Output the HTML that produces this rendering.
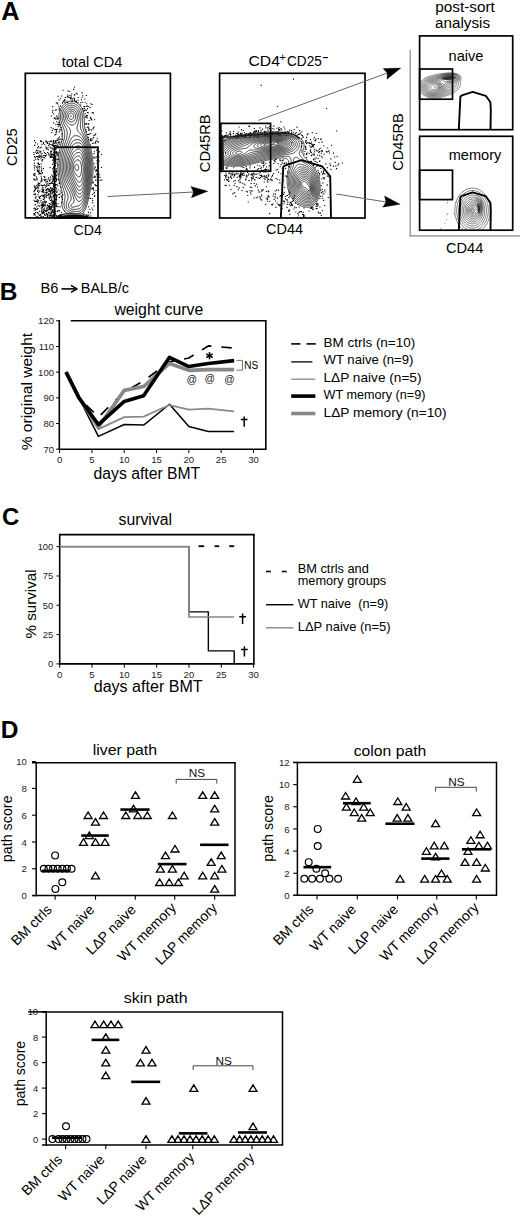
<!DOCTYPE html>
<html><head><meta charset="utf-8"><style>
html,body{margin:0;padding:0;background:#fff;}
svg{display:block;}
text{font-family:"Liberation Sans", sans-serif;}
</style></head><body>
<svg width="520" height="1216" viewBox="0 0 520 1216">
<rect width="520" height="1216" fill="#fff"/>
<text x="1.2" y="20.4" font-size="25.3" font-weight="bold" fill="#000">A</text>
<text x="92" y="66.7" font-size="14.6" text-anchor="middle" textLength="60.5" lengthAdjust="spacingAndGlyphs" fill="#000">total CD4</text>
<path d="M78.0,215.5 77.5,215.5 77.0,215.5 76.7,215.5 76.0,215.5 75.5,215.4 75.0,215.3 74.5,215.3 74.0,215.2 73.5,215.1 73.0,215.0 72.5,214.9 72.0,214.8 71.5,214.7 71.0,214.6 70.6,214.5 70.0,214.3 69.5,214.2 69.0,214.0 68.5,213.8 68.0,213.6 67.5,213.3 67.0,213.1 66.5,212.8 66.1,212.5 65.5,212.0 65.0,211.6 64.5,211.0 64.0,210.5 63.7,210.0 63.5,209.7 63.1,209.0 62.8,208.5 62.6,208.0 62.5,207.7 62.3,207.0 62.2,206.5 62.1,206.0 62.0,205.6 61.9,205.0 61.9,204.5 61.9,204.0 61.9,203.5 61.9,203.0 61.9,202.5 62.0,202.0 62.0,201.5 62.1,201.0 62.2,200.5 62.2,200.0 62.3,199.5 62.3,199.0 62.4,198.5 62.4,198.0 62.5,197.5 62.5,197.1 62.5,196.5 62.5,196.0 62.5,195.5 62.4,195.0 62.4,194.5 62.3,194.0 62.3,193.5 62.2,193.0 62.1,192.5 62.0,192.1 61.9,191.5 61.8,191.0 61.6,190.5 61.5,190.0 61.4,189.5 61.3,189.0 61.1,188.5 61.0,188.0 60.9,187.5 60.7,187.0 60.6,186.5 60.5,186.1 60.3,185.5 60.2,185.0 60.1,184.5 60.0,184.1 59.9,183.5 59.7,183.0 59.6,182.5 59.5,182.0 59.4,181.5 59.3,181.0 59.2,180.5 59.1,180.0 59.0,179.5 58.9,179.0 58.8,178.5 58.7,178.0 58.7,177.5 58.6,177.0 58.5,176.5 58.4,176.0 58.4,175.5 58.3,175.0 58.2,174.5 58.2,174.0 58.1,173.5 58.1,173.0 58.1,172.5 58.0,172.0 58.0,171.5 57.9,171.0 57.9,170.5 57.9,170.0 57.9,169.5 57.8,169.0 57.8,168.5 57.8,168.0 57.8,167.5 57.8,167.0 57.8,166.5 57.8,166.0 57.8,165.5 57.8,165.0 57.8,164.5 57.8,164.0 57.8,163.5 57.9,163.0 57.9,162.5 57.9,162.0 58.0,161.5 58.0,161.0 58.0,160.5 58.1,160.0 58.1,159.5 58.2,159.0 58.2,158.5 58.3,158.0 58.3,157.5 58.4,157.0 58.5,156.5 58.5,156.0 58.6,155.5 58.7,155.0 58.8,154.5 58.8,154.0 58.9,153.5 59.0,153.1 59.1,152.5 59.2,152.0 59.3,151.5 59.4,151.0 59.5,150.5 59.6,150.0 59.7,149.5 59.8,149.0 59.9,148.5 60.0,148.2 60.1,147.5 60.3,147.0 60.4,146.5 60.5,146.0 60.6,145.5 60.7,145.0 60.9,144.5 61.0,144.0 61.1,143.5 61.2,143.0 61.3,142.5 61.4,142.0 61.6,141.5 61.7,141.0 61.8,140.5 61.9,140.0 62.0,139.5 62.1,139.0 62.1,138.5 62.2,138.0 62.3,137.5 62.3,137.0 62.4,136.5 62.4,136.0 62.5,135.5 62.5,135.0 62.5,134.5 62.5,134.0 62.4,133.5 62.4,133.0 62.3,132.5 62.3,132.0 62.2,131.5 62.1,131.0 62.0,130.6 61.9,130.0 61.7,129.5 61.6,129.0 61.4,128.5 61.3,128.0 61.1,127.5 61.0,127.2 60.8,126.5 60.6,126.0 60.5,125.7 60.3,125.0 60.1,124.5 60.0,124.0 59.8,123.5 59.7,123.0 59.6,122.5 59.5,122.1 59.4,121.5 59.3,121.0 59.2,120.5 59.1,120.0 59.0,119.5 59.0,119.0 59.0,118.5 58.9,118.0 58.9,117.5 58.9,117.0 58.9,116.5 58.9,116.0 58.9,115.5 59.0,115.0 59.0,114.5 59.1,114.0 59.2,113.5 59.3,113.0 59.4,112.5 59.5,112.1 59.7,111.5 59.8,111.0 60.0,110.5 60.2,110.0 60.4,109.5 60.6,109.0 60.9,108.5 61.1,108.0 61.4,107.5 61.8,107.0 62.0,106.7 62.5,106.0 62.9,105.5 63.3,105.0 63.8,104.5 64.4,104.0 65.0,103.5 65.5,103.1 66.0,102.8 66.5,102.5 67.0,102.2 67.4,102.0 68.0,101.8 68.5,101.6 69.0,101.4 69.5,101.3 70.0,101.2 70.5,101.1 71.0,101.1 71.5,101.0 72.0,101.1 72.5,101.1 73.0,101.2 73.5,101.2 74.0,101.4 74.4,101.5 75.0,101.7 75.5,101.9 76.0,102.2 76.5,102.4 77.0,102.7 77.4,103.0 78.0,103.5 78.5,103.9 79.0,104.4 79.5,104.9 80.0,105.5 80.4,106.0 80.7,106.5 81.0,106.9 81.4,107.5 81.7,108.0 81.9,108.5 82.2,109.0 82.4,109.5 82.6,110.0 82.8,110.5 83.0,111.0 83.2,111.5 83.3,112.0 83.4,112.5 83.6,113.0 83.7,113.5 83.8,114.0 83.9,114.5 84.0,115.0 84.0,115.5 84.1,116.0 84.2,116.5 84.2,117.0 84.2,117.5 84.3,118.0 84.3,118.5 84.3,119.0 84.3,119.5 84.4,120.0 84.4,120.5 84.4,121.0 84.4,121.5 84.4,122.0 84.4,122.5 84.4,123.0 84.4,123.5 84.4,124.0 84.5,124.5 84.5,125.0 84.5,125.5 84.6,126.0 84.6,126.5 84.7,127.0 84.8,127.5 84.8,128.0 84.9,128.5 85.0,128.9 85.1,129.5 85.3,130.0 85.4,130.5 85.5,131.0 85.7,131.5 85.8,132.0 85.9,132.5 86.1,133.0 86.3,133.5 86.4,134.0 86.6,134.5 86.7,135.0 86.9,135.5 87.0,135.8 87.2,136.5 87.4,137.0 87.5,137.3 87.7,138.0 87.9,138.5 88.0,138.9 88.2,139.5 88.4,140.0 88.5,140.5 88.7,141.0 88.8,141.5 89.0,142.0 89.1,142.5 89.3,143.0 89.4,143.5 89.5,143.8 89.7,144.5 89.8,145.0 90.0,145.5 90.1,146.0 90.2,146.5 90.4,147.0 90.5,147.5 90.6,148.0 90.7,148.5 90.9,149.0 91.0,149.5 91.1,150.0 91.2,150.5 91.3,151.0 91.4,151.5 91.5,152.0 91.6,152.5 91.7,153.0 91.8,153.5 91.9,154.0 92.0,154.5 92.0,155.0 92.1,155.5 92.2,156.0 92.3,156.5 92.3,157.0 92.4,157.5 92.5,158.0 92.5,158.3 92.6,159.0 92.6,159.5 92.7,160.0 92.7,160.5 92.8,161.0 92.8,161.5 92.9,162.0 92.9,162.5 92.9,163.0 92.9,163.5 93.0,164.0 93.0,164.5 93.0,165.0 93.0,165.5 93.0,166.0 93.0,166.5 93.0,167.0 93.0,167.5 93.0,168.0 93.0,168.5 93.0,169.0 93.0,169.4 93.0,170.0 93.0,170.5 92.9,171.0 92.9,171.5 92.9,172.0 92.9,172.5 92.8,173.0 92.8,173.5 92.7,174.0 92.7,174.5 92.7,175.0 92.6,175.5 92.5,176.0 92.5,176.4 92.4,177.0 92.4,177.5 92.3,178.0 92.3,178.5 92.2,179.0 92.1,179.5 92.0,180.0 92.0,180.5 91.9,181.0 91.8,181.5 91.7,182.0 91.7,182.5 91.6,183.0 91.5,183.4 91.4,184.0 91.3,184.5 91.2,185.0 91.1,185.5 91.0,186.0 90.9,186.5 90.8,187.0 90.8,187.5 90.7,188.0 90.6,188.5 90.5,189.0 90.4,189.5 90.3,190.0 90.2,190.5 90.1,191.0 90.0,191.5 89.9,192.0 89.8,192.5 89.7,193.0 89.5,193.5 89.4,194.0 89.3,194.5 89.2,195.0 89.1,195.5 89.0,196.0 88.9,196.5 88.8,197.0 88.7,197.5 88.6,198.0 88.5,198.5 88.4,199.0 88.3,199.5 88.2,200.0 88.1,200.5 88.0,201.0 87.8,201.5 87.7,202.0 87.6,202.5 87.5,202.9 87.4,203.5 87.2,204.0 87.1,204.5 86.9,205.0 86.8,205.5 86.6,206.0 86.5,206.4 86.3,207.0 86.1,207.5 85.9,208.0 85.7,208.5 85.5,208.9 85.2,209.5 85.0,210.0 84.7,210.5 84.5,210.9 84.1,211.5 83.8,212.0 83.5,212.3 83.0,212.9 82.5,213.4 82.0,213.9 81.5,214.3 81.2,214.5 80.5,214.9 80.2,215.0 79.5,215.2 79.0,215.4 78.5,215.5 78.0,215.5 M77.5,213.5 77.0,213.5 76.5,213.5 76.2,213.5 75.5,213.4 75.0,213.4 74.5,213.3 74.0,213.3 73.5,213.2 73.0,213.1 72.5,213.0 72.0,212.9 71.5,212.8 71.0,212.7 70.5,212.6 70.0,212.4 69.5,212.2 69.0,212.0 68.5,211.8 68.0,211.5 67.5,211.2 67.2,211.0 67.0,210.8 66.6,210.5 66.1,210.0 65.7,209.5 65.5,209.3 65.3,209.0 65.0,208.5 64.8,208.0 64.5,207.5 64.4,207.0 64.2,206.5 64.1,206.0 64.1,205.5 64.0,205.0 64.0,204.6 64.0,204.3 64.0,203.5 64.1,203.0 64.2,202.5 64.2,202.0 64.3,201.5 64.4,201.0 64.6,200.5 64.7,200.0 64.8,199.5 64.9,199.0 64.9,198.5 65.0,198.1 65.1,197.5 65.1,197.0 65.1,196.5 65.1,196.0 65.0,195.5 65.0,195.0 64.9,194.5 64.8,194.0 64.7,193.5 64.5,193.0 64.4,192.5 64.3,192.0 64.1,191.5 64.0,191.2 63.8,190.5 63.6,190.0 63.5,189.6 63.3,189.0 63.1,188.5 63.0,188.1 62.8,187.5 62.6,187.0 62.5,186.6 62.3,186.0 62.2,185.5 62.0,185.0 61.9,184.5 61.7,184.0 61.6,183.5 61.4,183.0 61.3,182.5 61.2,182.0 61.0,181.5 60.9,181.0 60.8,180.5 60.7,180.0 60.6,179.5 60.5,179.1 60.4,178.5 60.3,178.0 60.2,177.5 60.1,177.0 60.0,176.5 60.0,176.0 59.9,175.5 59.8,175.0 59.7,174.5 59.7,174.0 59.6,173.5 59.6,173.0 59.5,172.5 59.5,172.0 59.4,171.5 59.4,171.0 59.4,170.5 59.3,170.0 59.3,169.5 59.3,169.0 59.3,168.5 59.2,168.0 59.2,167.5 59.2,167.0 59.2,166.5 59.2,166.0 59.2,165.5 59.2,165.0 59.3,164.5 59.3,164.0 59.3,163.5 59.3,163.0 59.3,162.5 59.4,162.0 59.4,161.5 59.4,161.0 59.5,160.5 59.5,160.0 59.6,159.5 59.6,159.0 59.7,158.5 59.8,158.0 59.8,157.5 59.9,157.0 60.0,156.5 60.0,156.0 60.1,155.5 60.2,155.0 60.3,154.5 60.4,154.0 60.5,153.5 60.6,153.0 60.7,152.5 60.8,152.0 60.9,151.5 61.0,151.0 61.1,150.5 61.2,150.0 61.4,149.5 61.5,149.0 61.6,148.5 61.7,148.0 61.9,147.5 62.0,147.0 62.1,146.5 62.3,146.0 62.4,145.5 62.5,145.1 62.7,144.5 62.8,144.0 62.9,143.5 63.1,143.0 63.2,142.5 63.3,142.0 63.5,141.5 63.6,141.0 63.7,140.5 63.9,140.0 64.0,139.5 64.1,139.0 64.2,138.5 64.3,138.0 64.4,137.5 64.5,137.0 64.5,136.5 64.6,136.0 64.7,135.5 64.7,135.0 64.7,134.5 64.7,134.0 64.7,133.5 64.7,133.0 64.6,132.5 64.6,132.0 64.5,131.6 64.4,131.0 64.3,130.5 64.1,130.0 64.0,129.6 63.8,129.0 63.6,128.5 63.4,128.0 63.2,127.5 63.0,127.0 62.8,126.5 62.6,126.0 62.4,125.5 62.2,125.0 62.0,124.5 61.8,124.0 61.6,123.5 61.5,123.0 61.3,122.5 61.2,122.0 61.1,121.5 60.9,121.0 60.8,120.5 60.7,120.0 60.6,119.5 60.6,119.0 60.5,118.5 60.5,118.1 60.5,117.5 60.4,117.0 60.4,116.5 60.5,116.0 60.5,115.5 60.5,115.0 60.6,114.5 60.7,114.0 60.8,113.5 60.9,113.0 61.0,112.5 61.1,112.0 61.3,111.5 61.5,111.0 61.7,110.5 61.9,110.0 62.2,109.5 62.4,109.0 62.7,108.5 63.0,108.1 63.4,107.5 63.8,107.0 64.3,106.5 64.8,106.0 65.4,105.5 66.0,105.0 66.5,104.7 66.8,104.5 67.5,104.1 68.0,103.9 68.5,103.7 69.0,103.5 69.5,103.4 70.0,103.3 70.5,103.2 71.0,103.2 71.5,103.1 72.0,103.2 72.5,103.2 73.0,103.3 73.5,103.4 73.9,103.5 74.5,103.7 75.0,103.9 75.5,104.2 76.0,104.4 76.5,104.8 76.8,105.0 77.4,105.5 78.0,106.0 78.5,106.5 78.9,107.0 79.3,107.5 79.5,107.8 80.0,108.5 80.3,109.0 80.5,109.4 80.8,110.0 81.0,110.5 81.2,111.0 81.4,111.5 81.6,112.0 81.7,112.5 81.9,113.0 82.0,113.5 82.1,114.0 82.2,114.5 82.3,115.0 82.4,115.5 82.4,116.0 82.5,116.5 82.5,117.0 82.6,117.5 82.6,118.0 82.6,118.5 82.6,119.0 82.6,119.5 82.6,120.0 82.6,120.5 82.6,121.0 82.6,121.5 82.6,122.0 82.6,122.5 82.6,123.0 82.6,123.5 82.6,124.0 82.6,124.5 82.6,125.0 82.6,125.5 82.6,126.0 82.7,126.5 82.8,127.0 82.8,127.5 82.9,128.0 83.0,128.4 83.1,129.0 83.3,129.5 83.4,130.0 83.6,130.5 83.8,131.0 83.9,131.5 84.1,132.0 84.3,132.5 84.5,133.0 84.7,133.5 84.9,134.0 85.0,134.4 85.2,135.0 85.4,135.5 85.6,136.0 85.8,136.5 86.0,137.0 86.2,137.5 86.4,138.0 86.5,138.4 86.7,139.0 86.9,139.5 87.0,139.8 87.2,140.5 87.4,141.0 87.5,141.3 87.7,142.0 87.9,142.5 88.0,142.9 88.2,143.5 88.3,144.0 88.5,144.5 88.6,145.0 88.8,145.5 88.9,146.0 89.0,146.4 89.2,147.0 89.3,147.5 89.4,148.0 89.5,148.3 89.7,149.0 89.8,149.5 89.9,150.0 90.0,150.5 90.1,151.0 90.2,151.5 90.3,152.0 90.4,152.5 90.5,153.0 90.6,153.5 90.7,154.0 90.8,154.5 90.9,155.0 90.9,155.5 91.0,155.9 91.1,156.5 91.2,157.0 91.2,157.5 91.3,158.0 91.4,158.5 91.4,159.0 91.5,159.5 91.5,159.8 91.6,160.5 91.6,161.0 91.7,161.5 91.7,162.0 91.7,162.5 91.8,163.0 91.8,163.5 91.8,164.0 91.8,164.5 91.9,165.0 91.9,165.5 91.9,166.0 91.9,166.5 91.9,167.0 91.9,167.5 91.9,168.0 91.9,168.5 91.9,169.0 91.9,169.5 91.9,170.0 91.8,170.5 91.8,171.0 91.8,171.5 91.8,172.0 91.7,172.5 91.7,173.0 91.7,173.5 91.6,174.0 91.6,174.5 91.5,175.0 91.5,175.4 91.4,176.0 91.4,176.5 91.4,177.0 91.3,177.5 91.2,178.0 91.2,178.5 91.1,179.0 91.0,179.5 91.0,180.0 90.9,180.5 90.8,181.0 90.8,181.5 90.7,182.0 90.6,182.5 90.5,183.0 90.4,183.5 90.4,184.0 90.3,184.5 90.2,185.0 90.1,185.5 90.0,186.0 89.9,186.5 89.8,187.0 89.8,187.5 89.7,188.0 89.6,188.5 89.5,189.0 89.4,189.5 89.3,190.0 89.2,190.5 89.1,191.0 89.0,191.3 88.9,192.0 88.8,192.5 88.7,193.0 88.6,193.5 88.4,194.0 88.3,194.5 88.2,195.0 88.1,195.5 88.0,196.0 87.9,196.5 87.8,197.0 87.7,197.5 87.6,198.0 87.5,198.5 87.3,199.0 87.2,199.5 87.1,200.0 87.0,200.4 86.8,201.0 86.7,201.5 86.6,202.0 86.5,202.3 86.3,203.0 86.2,203.5 86.0,204.0 85.9,204.5 85.7,205.0 85.5,205.5 85.3,206.0 85.2,206.5 85.0,206.9 84.7,207.5 84.5,208.0 84.2,208.5 84.0,209.0 83.7,209.5 83.5,209.8 83.0,210.5 82.6,211.0 82.1,211.5 81.6,212.0 81.0,212.4 80.5,212.7 80.0,213.0 79.5,213.2 79.0,213.3 78.5,213.4 78.0,213.5 77.5,213.5 M79.0,211.2 78.5,211.3 78.0,211.4 77.5,211.4 77.0,211.5 76.5,211.5 76.0,211.5 75.5,211.5 75.0,211.4 74.5,211.4 74.0,211.4 73.5,211.3 73.0,211.2 72.5,211.2 72.0,211.1 71.5,211.0 71.0,210.8 70.5,210.7 70.1,210.5 69.5,210.2 69.1,210.0 68.5,209.6 68.0,209.2 67.5,208.7 67.0,208.0 66.7,207.5 66.5,207.0 66.4,206.5 66.2,206.0 66.2,205.5 66.2,205.0 66.2,204.5 66.2,204.0 66.3,203.5 66.4,203.0 66.6,202.5 66.7,202.0 66.9,201.5 67.1,201.0 67.3,200.5 67.5,200.0 67.7,199.5 67.8,199.0 68.0,198.5 68.0,198.0 68.1,197.5 68.1,197.0 68.1,196.5 68.0,196.0 67.9,195.5 67.8,195.0 67.7,194.5 67.5,194.0 67.4,193.5 67.2,193.0 67.0,192.6 66.8,192.0 66.6,191.5 66.3,191.0 66.1,190.5 66.0,190.2 65.7,189.5 65.5,189.1 65.3,188.5 65.0,188.0 64.8,187.5 64.6,187.0 64.5,186.7 64.2,186.0 64.1,185.5 63.9,185.0 63.7,184.5 63.5,184.0 63.3,183.5 63.2,183.0 63.0,182.5 62.9,182.0 62.7,181.5 62.6,181.0 62.5,180.7 62.3,180.0 62.2,179.5 62.1,179.0 62.0,178.6 61.9,178.0 61.8,177.5 61.7,177.0 61.6,176.5 61.5,176.1 61.4,175.5 61.3,175.0 61.2,174.5 61.2,174.0 61.1,173.5 61.0,173.0 61.0,172.6 60.9,172.0 60.9,171.5 60.8,171.0 60.8,170.5 60.8,170.0 60.7,169.5 60.7,169.0 60.7,168.5 60.7,168.0 60.7,167.5 60.7,167.0 60.7,166.5 60.7,166.0 60.7,165.5 60.7,165.0 60.7,164.5 60.7,164.0 60.7,163.5 60.8,163.0 60.8,162.5 60.8,162.0 60.9,161.5 60.9,161.0 61.0,160.5 61.0,160.1 61.1,159.5 61.1,159.0 61.2,158.5 61.3,158.0 61.3,157.5 61.4,157.0 61.5,156.5 61.6,156.0 61.7,155.5 61.8,155.0 61.9,154.5 62.0,154.0 62.1,153.5 62.2,153.0 62.3,152.5 62.4,152.0 62.5,151.6 62.6,151.0 62.8,150.5 62.9,150.0 63.0,149.7 63.2,149.0 63.3,148.5 63.5,148.0 63.6,147.5 63.8,147.0 63.9,146.5 64.0,146.2 64.2,145.5 64.4,145.0 64.5,144.6 64.7,144.0 64.9,143.5 65.0,143.0 65.2,142.5 65.3,142.0 65.5,141.5 65.6,141.0 65.8,140.5 65.9,140.0 66.1,139.5 66.2,139.0 66.4,138.5 66.5,138.0 66.6,137.5 66.7,137.0 66.8,136.5 66.9,136.0 67.0,135.7 67.1,135.0 67.2,134.5 67.2,134.0 67.2,133.5 67.2,133.0 67.2,132.5 67.2,132.0 67.1,131.5 67.0,131.0 66.9,130.5 66.7,130.0 66.5,129.5 66.3,129.0 66.1,128.5 65.9,128.0 65.6,127.5 65.4,127.0 65.1,126.5 64.8,126.0 64.5,125.5 64.3,125.0 64.0,124.5 63.8,124.0 63.6,123.5 63.4,123.0 63.2,122.5 63.0,122.1 62.8,121.5 62.6,121.0 62.5,120.5 62.4,120.0 62.3,119.5 62.2,119.0 62.1,118.5 62.1,118.0 62.0,117.5 62.0,117.0 62.0,116.5 62.0,116.0 62.0,115.5 62.1,115.0 62.2,114.5 62.2,114.0 62.4,113.5 62.5,113.0 62.6,112.5 62.8,112.0 63.0,111.5 63.2,111.0 63.5,110.5 63.7,110.0 64.0,109.6 64.4,109.0 64.8,108.5 65.0,108.3 65.2,108.0 65.5,107.7 65.7,107.5 66.0,107.3 66.3,107.0 67.0,106.5 67.5,106.2 67.9,106.0 68.5,105.7 69.0,105.6 69.5,105.4 70.0,105.3 70.5,105.2 71.0,105.2 71.5,105.2 72.0,105.2 72.5,105.3 73.0,105.4 73.5,105.5 74.0,105.7 74.5,105.9 75.0,106.1 75.5,106.4 76.0,106.8 76.3,107.0 76.9,107.5 77.4,108.0 77.8,108.5 78.2,109.0 78.5,109.4 78.9,110.0 79.1,110.5 79.4,111.0 79.6,111.5 79.8,112.0 80.0,112.5 80.2,113.0 80.3,113.5 80.4,114.0 80.5,114.4 80.6,115.0 80.7,115.5 80.8,116.0 80.8,116.5 80.8,117.0 80.9,117.5 80.9,118.0 80.9,118.5 80.9,119.0 80.8,119.5 80.8,120.0 80.8,120.5 80.7,121.0 80.7,121.5 80.6,122.0 80.6,122.5 80.5,123.0 80.5,123.4 80.4,124.0 80.4,124.5 80.4,125.0 80.4,125.5 80.4,126.0 80.4,126.5 80.4,127.0 80.5,127.5 80.6,128.0 80.7,128.5 80.8,129.0 81.0,129.5 81.2,130.0 81.4,130.5 81.5,130.8 81.8,131.5 82.0,131.8 82.3,132.5 82.5,132.8 82.8,133.5 83.0,133.8 83.3,134.5 83.5,134.8 83.8,135.5 84.0,135.9 84.3,136.5 84.5,137.0 84.7,137.5 85.0,138.0 85.2,138.5 85.4,139.0 85.5,139.3 85.8,140.0 86.0,140.5 86.1,141.0 86.3,141.5 86.5,142.0 86.7,142.5 86.8,143.0 87.0,143.5 87.2,144.0 87.3,144.5 87.5,145.0 87.6,145.5 87.8,146.0 87.9,146.5 88.0,146.8 88.2,147.5 88.3,148.0 88.4,148.5 88.6,149.0 88.7,149.5 88.8,150.0 88.9,150.5 89.0,150.9 89.1,151.5 89.2,152.0 89.3,152.5 89.4,153.0 89.5,153.4 89.6,154.0 89.7,154.5 89.8,155.0 89.9,155.5 90.0,156.0 90.0,156.4 90.1,157.0 90.2,157.5 90.2,158.0 90.3,158.5 90.4,159.0 90.4,159.5 90.5,160.0 90.5,160.5 90.6,161.0 90.6,161.5 90.6,162.0 90.7,162.5 90.7,163.0 90.7,163.5 90.8,164.0 90.8,164.5 90.8,165.0 90.8,165.5 90.8,166.0 90.8,166.5 90.9,167.0 90.9,167.5 90.9,168.0 90.9,168.5 90.8,169.0 90.8,169.5 90.8,170.0 90.8,170.5 90.8,171.0 90.8,171.5 90.8,172.0 90.7,172.5 90.7,173.0 90.7,173.5 90.6,174.0 90.6,174.5 90.5,175.0 90.5,175.5 90.5,176.0 90.4,176.5 90.4,177.0 90.3,177.5 90.3,178.0 90.2,178.5 90.1,179.0 90.1,179.5 90.0,180.0 89.9,180.5 89.9,181.0 89.8,181.5 89.7,182.0 89.7,182.5 89.6,183.0 89.5,183.5 89.4,184.0 89.4,184.5 89.3,185.0 89.2,185.5 89.1,186.0 89.0,186.5 88.9,187.0 88.8,187.5 88.7,188.0 88.6,188.5 88.5,189.0 88.4,189.5 88.4,190.0 88.3,190.5 88.1,191.0 88.0,191.5 87.9,192.0 87.8,192.5 87.7,193.0 87.6,193.5 87.5,194.0 87.4,194.5 87.3,195.0 87.2,195.5 87.0,196.0 86.9,196.5 86.8,197.0 86.7,197.5 86.5,198.0 86.4,198.5 86.3,199.0 86.1,199.5 86.0,200.0 85.9,200.5 85.7,201.0 85.6,201.5 85.4,202.0 85.3,202.5 85.1,203.0 84.9,203.5 84.7,204.0 84.6,204.5 84.4,205.0 84.1,205.5 84.0,205.8 83.7,206.5 83.5,206.9 83.1,207.5 82.8,208.0 82.5,208.5 82.1,209.0 81.6,209.5 81.1,210.0 80.5,210.5 80.0,210.8 79.5,211.0 79.0,211.2 M78.0,209.0 77.5,209.1 77.0,209.2 76.5,209.3 76.0,209.3 75.5,209.3 75.0,209.4 74.5,209.4 74.0,209.4 73.5,209.4 73.0,209.3 72.5,209.3 72.0,209.2 71.5,209.1 71.0,208.9 70.5,208.7 70.2,208.5 69.5,208.0 69.1,207.5 68.8,207.0 68.6,206.5 68.4,206.0 68.4,205.5 68.4,205.0 68.5,204.5 68.6,204.0 68.8,203.5 69.0,203.2 69.4,202.5 69.8,202.0 70.0,201.7 70.4,201.0 70.7,200.5 70.9,200.0 71.0,199.7 71.1,199.0 71.2,198.5 71.2,198.0 71.1,197.5 71.1,197.0 71.0,196.6 70.9,196.0 70.7,195.5 70.6,195.0 70.4,194.5 70.2,194.0 70.0,193.5 69.8,193.0 69.6,192.5 69.3,192.0 69.1,191.5 68.9,191.0 68.6,190.5 68.3,190.0 68.1,189.5 67.8,189.0 67.5,188.5 67.3,188.0 67.0,187.5 66.8,187.0 66.5,186.5 66.3,186.0 66.1,185.5 65.8,185.0 65.6,184.5 65.5,184.2 65.2,183.5 65.0,183.0 64.8,182.5 64.6,182.0 64.5,181.6 64.3,181.0 64.1,180.5 64.0,180.0 63.9,179.5 63.7,179.0 63.6,178.5 63.5,178.2 63.3,177.5 63.2,177.0 63.1,176.5 63.0,176.0 62.9,175.5 62.8,175.0 62.7,174.5 62.7,174.0 62.6,173.5 62.5,173.0 62.5,172.5 62.4,172.0 62.4,171.5 62.3,171.0 62.3,170.5 62.2,170.0 62.2,169.5 62.2,169.0 62.1,168.5 62.1,168.0 62.1,167.5 62.1,167.0 62.1,166.5 62.1,166.0 62.1,165.5 62.1,165.0 62.1,164.5 62.2,164.0 62.2,163.5 62.2,163.0 62.2,162.5 62.3,162.0 62.3,161.5 62.4,161.0 62.4,160.5 62.5,160.0 62.6,159.5 62.6,159.0 62.7,158.5 62.8,158.0 62.8,157.5 62.9,157.0 63.0,156.7 63.1,156.0 63.2,155.5 63.3,155.0 63.4,154.5 63.6,154.0 63.7,153.5 63.8,153.0 63.9,152.5 64.0,152.2 64.2,151.5 64.3,151.0 64.5,150.5 64.6,150.0 64.8,149.5 64.9,149.0 65.1,148.5 65.3,148.0 65.4,147.5 65.6,147.0 65.8,146.5 65.9,146.0 66.1,145.5 66.3,145.0 66.5,144.5 66.7,144.0 66.9,143.5 67.0,143.1 67.2,142.5 67.4,142.0 67.6,141.5 67.8,141.0 68.0,140.5 68.2,140.0 68.3,139.5 68.5,139.0 68.7,138.5 68.9,138.0 69.0,137.7 69.2,137.0 69.4,136.5 69.5,136.2 69.7,135.5 69.9,135.0 70.0,134.6 70.2,134.0 70.3,133.5 70.4,133.0 70.5,132.5 70.5,132.2 70.5,131.5 70.5,131.1 70.4,130.5 70.3,130.0 70.1,129.5 69.8,129.0 69.5,128.5 69.2,128.0 68.8,127.5 68.5,127.2 68.0,126.6 67.5,126.0 67.1,125.5 66.8,125.0 66.5,124.7 66.0,124.0 65.7,123.5 65.5,123.2 65.1,122.5 64.9,122.0 64.6,121.5 64.5,121.2 64.3,120.5 64.1,120.0 64.0,119.7 63.8,119.0 63.7,118.5 63.7,118.0 63.6,117.5 63.6,117.0 63.6,116.5 63.6,116.0 63.6,115.5 63.7,115.0 63.7,114.5 63.8,114.0 64.0,113.5 64.1,113.0 64.3,112.5 64.5,112.0 64.8,111.5 65.0,111.1 65.4,110.5 65.7,110.0 66.0,109.7 66.5,109.2 67.0,108.7 67.3,108.5 68.0,108.0 68.5,107.8 69.0,107.6 69.5,107.4 70.0,107.3 70.5,107.2 71.0,107.2 71.5,107.2 72.0,107.2 72.5,107.3 73.0,107.4 73.3,107.5 74.0,107.8 74.4,108.0 75.0,108.4 75.5,108.7 75.8,109.0 76.3,109.5 76.8,110.0 77.0,110.3 77.5,111.0 77.7,111.5 78.0,112.0 78.2,112.5 78.4,113.0 78.5,113.3 78.7,114.0 78.8,114.5 78.9,115.0 79.0,115.5 79.0,116.0 79.1,116.5 79.1,117.0 79.1,117.5 79.1,118.0 79.1,118.5 79.0,119.0 79.0,119.5 78.9,120.0 78.8,120.5 78.7,121.0 78.6,121.5 78.5,122.0 78.4,122.5 78.2,123.0 78.1,123.5 78.0,123.8 77.8,124.5 77.6,125.0 77.5,125.5 77.4,126.0 77.2,126.5 77.1,127.0 77.1,127.5 77.0,128.0 77.0,128.5 77.1,129.0 77.2,129.5 77.4,130.0 77.6,130.5 78.0,131.0 78.3,131.5 78.8,132.0 79.0,132.2 79.2,132.5 79.5,132.8 80.0,133.3 80.5,133.9 81.0,134.5 81.4,135.0 81.8,135.5 82.0,135.8 82.5,136.5 82.8,137.0 83.0,137.4 83.4,138.0 83.6,138.5 83.9,139.0 84.1,139.5 84.4,140.0 84.6,140.5 84.8,141.0 85.0,141.4 85.2,142.0 85.4,142.5 85.6,143.0 85.8,143.5 86.0,144.0 86.2,144.5 86.3,145.0 86.5,145.5 86.7,146.0 86.8,146.5 87.0,147.0 87.1,147.5 87.2,148.0 87.4,148.5 87.5,149.0 87.6,149.5 87.8,150.0 87.9,150.5 88.0,151.0 88.1,151.5 88.2,152.0 88.3,152.5 88.4,153.0 88.5,153.4 88.6,154.0 88.7,154.5 88.8,155.0 88.9,155.5 89.0,156.0 89.0,156.3 89.1,157.0 89.2,157.5 89.2,158.0 89.3,158.5 89.4,159.0 89.4,159.5 89.5,160.0 89.5,160.5 89.6,161.0 89.6,161.5 89.7,162.0 89.7,162.5 89.7,163.0 89.8,163.5 89.8,164.0 89.8,164.5 89.8,165.0 89.9,165.5 89.9,166.0 89.9,166.5 89.9,167.0 89.9,167.5 89.9,168.0 89.9,168.5 89.9,169.0 89.9,169.5 89.9,170.0 89.9,170.5 89.9,171.0 89.8,171.5 89.8,172.0 89.8,172.5 89.8,173.0 89.7,173.5 89.7,174.0 89.7,174.5 89.6,175.0 89.6,175.5 89.5,176.0 89.5,176.5 89.5,177.0 89.4,177.5 89.4,178.0 89.3,178.5 89.2,179.0 89.2,179.5 89.1,180.0 89.1,180.5 89.0,180.9 88.9,181.5 88.9,182.0 88.8,182.5 88.7,183.0 88.6,183.5 88.5,184.0 88.5,184.5 88.4,185.0 88.3,185.5 88.2,186.0 88.1,186.5 88.0,187.0 87.9,187.5 87.9,188.0 87.8,188.5 87.7,189.0 87.6,189.5 87.4,190.0 87.3,190.5 87.2,191.0 87.1,191.5 87.0,192.0 86.9,192.5 86.8,193.0 86.7,193.5 86.5,194.0 86.4,194.5 86.3,195.0 86.2,195.5 86.0,196.0 85.9,196.5 85.8,197.0 85.6,197.5 85.5,197.9 85.3,198.5 85.2,199.0 85.0,199.5 84.8,200.0 84.7,200.5 84.5,201.0 84.3,201.5 84.1,202.0 84.0,202.3 83.7,203.0 83.5,203.5 83.3,204.0 83.0,204.5 82.7,205.0 82.5,205.4 82.1,206.0 81.8,206.5 81.5,206.8 81.0,207.4 80.5,207.8 80.0,208.2 79.5,208.5 79.0,208.7 78.5,208.9 78.2,209.0 M72.0,125.0 71.5,125.0 71.0,124.9 70.5,124.7 70.1,124.5 69.5,124.2 69.2,124.0 68.5,123.5 68.0,123.0 67.5,122.5 67.1,122.0 66.7,121.5 66.5,121.1 66.1,120.5 66.0,120.2 65.7,119.5 65.5,119.0 65.4,118.5 65.3,118.0 65.2,117.5 65.2,117.0 65.1,116.5 65.2,116.0 65.2,115.5 65.2,115.0 65.3,114.5 65.5,114.0 65.6,113.5 65.8,113.0 66.0,112.6 66.4,112.0 66.7,111.5 67.0,111.1 67.5,110.6 68.0,110.2 68.3,110.0 69.0,109.6 69.5,109.4 70.0,109.2 70.5,109.2 71.0,109.1 71.5,109.1 72.0,109.2 72.5,109.3 73.0,109.4 73.5,109.7 74.0,109.9 74.5,110.3 74.7,110.5 75.0,110.7 75.3,111.0 75.5,111.3 76.0,112.0 76.3,112.5 76.5,112.9 76.8,113.5 76.9,114.0 77.1,114.5 77.2,115.0 77.3,115.5 77.3,116.0 77.3,116.5 77.3,117.0 77.3,117.5 77.3,118.0 77.2,118.5 77.1,119.0 77.0,119.5 76.9,120.0 76.7,120.5 76.5,121.0 76.3,121.5 76.0,122.0 75.7,122.5 75.5,122.8 75.0,123.5 74.5,124.0 74.0,124.4 73.5,124.7 73.0,124.9 72.5,125.0 72.0,125.0 M73.5,207.1 73.0,207.2 72.5,207.2 72.0,207.1 71.5,206.9 71.1,206.5 70.8,206.0 70.8,205.5 71.0,205.0 71.4,204.5 71.9,204.0 72.5,203.6 73.0,203.2 73.3,203.0 73.5,202.7 73.8,202.0 73.9,201.5 74.0,201.0 74.0,200.5 74.0,200.0 73.9,199.5 73.8,199.0 73.7,198.5 73.6,198.0 73.5,197.6 73.3,197.0 73.2,196.5 73.0,196.0 72.9,195.5 72.7,195.0 72.5,194.5 72.3,194.0 72.1,193.5 72.0,193.1 71.7,192.5 71.5,192.0 71.3,191.5 71.1,191.0 70.8,190.5 70.6,190.0 70.3,189.5 70.0,189.0 69.8,188.5 69.5,188.0 69.2,187.5 69.0,187.1 68.7,186.5 68.5,186.2 68.1,185.5 68.0,185.2 67.6,184.5 67.5,184.2 67.2,183.5 67.0,183.2 66.7,182.5 66.5,182.0 66.3,181.5 66.1,181.0 65.9,180.5 65.7,180.0 65.6,179.5 65.4,179.0 65.2,178.5 65.1,178.0 65.0,177.6 64.8,177.0 64.7,176.5 64.6,176.0 64.5,175.6 64.4,175.0 64.3,174.5 64.2,174.0 64.1,173.5 64.0,173.0 64.0,172.5 63.9,172.0 63.8,171.5 63.8,171.0 63.7,170.5 63.7,170.0 63.6,169.5 63.6,169.0 63.6,168.5 63.6,168.0 63.6,167.5 63.5,167.0 63.5,166.5 63.5,166.0 63.6,165.5 63.6,165.0 63.6,164.5 63.6,164.0 63.6,163.5 63.7,163.0 63.7,162.5 63.7,162.0 63.8,161.5 63.9,161.0 63.9,160.5 64.0,160.0 64.1,159.5 64.1,159.0 64.2,158.5 64.3,158.0 64.4,157.5 64.5,157.0 64.6,156.5 64.7,156.0 64.8,155.5 64.9,155.0 65.1,154.5 65.2,154.0 65.3,153.5 65.5,153.0 65.6,152.5 65.8,152.0 65.9,151.5 66.1,151.0 66.2,150.5 66.4,150.0 66.6,149.5 66.8,149.0 66.9,148.5 67.1,148.0 67.3,147.5 67.5,147.0 67.7,146.5 67.9,146.0 68.1,145.5 68.3,145.0 68.5,144.6 68.7,144.0 68.9,143.5 69.2,143.0 69.4,142.5 69.5,142.2 69.8,141.5 70.0,141.1 70.3,140.5 70.5,140.1 70.8,139.5 71.0,139.2 71.4,138.5 71.7,138.0 72.0,137.6 72.5,137.0 73.0,136.6 73.5,136.2 74.0,136.0 74.5,135.8 75.0,135.7 75.5,135.7 76.0,135.7 76.5,135.7 77.0,135.8 77.5,135.9 77.9,136.0 78.5,136.2 79.0,136.4 79.5,136.7 79.9,137.0 80.5,137.4 81.0,137.9 81.5,138.4 82.0,139.0 82.3,139.5 82.7,140.0 83.0,140.5 83.3,141.0 83.5,141.4 83.8,142.0 84.0,142.4 84.3,143.0 84.5,143.5 84.7,144.0 84.9,144.5 85.1,145.0 85.3,145.5 85.5,146.0 85.7,146.5 85.8,147.0 86.0,147.5 86.2,148.0 86.3,148.5 86.4,149.0 86.6,149.5 86.7,150.0 86.8,150.5 87.0,151.0 87.1,151.5 87.2,152.0 87.3,152.5 87.4,153.0 87.5,153.4 87.6,154.0 87.7,154.5 87.8,155.0 87.9,155.5 88.0,156.0 88.1,156.5 88.2,157.0 88.2,157.5 88.3,158.0 88.4,158.5 88.4,159.0 88.5,159.5 88.5,160.0 88.6,160.5 88.7,161.0 88.7,161.5 88.8,162.0 88.8,162.5 88.8,163.0 88.9,163.5 88.9,164.0 88.9,164.5 88.9,165.0 89.0,165.5 89.0,166.0 89.0,166.5 89.0,167.0 89.0,167.5 89.0,168.0 89.0,168.5 89.0,169.0 89.0,169.5 89.0,170.0 89.0,170.5 89.0,171.0 89.0,171.5 88.9,172.0 88.9,172.5 88.9,173.0 88.9,173.5 88.8,174.0 88.8,174.5 88.8,175.0 88.7,175.5 88.7,176.0 88.6,176.5 88.6,177.0 88.5,177.5 88.5,177.9 88.4,178.5 88.4,179.0 88.3,179.5 88.3,180.0 88.2,180.5 88.1,181.0 88.1,181.5 88.0,181.9 87.9,182.5 87.9,183.0 87.8,183.5 87.7,184.0 87.6,184.5 87.5,185.0 87.4,185.5 87.4,186.0 87.3,186.5 87.2,187.0 87.1,187.5 87.0,187.8 86.9,188.5 86.8,189.0 86.7,189.5 86.5,190.0 86.4,190.5 86.3,191.0 86.2,191.5 86.1,192.0 85.9,192.5 85.8,193.0 85.7,193.5 85.5,194.0 85.4,194.5 85.2,195.0 85.1,195.5 85.0,195.8 84.8,196.5 84.6,197.0 84.5,197.3 84.3,198.0 84.1,198.5 83.9,199.0 83.7,199.5 83.5,199.9 83.2,200.5 83.0,201.0 82.7,201.5 82.5,201.9 82.2,202.5 82.0,202.8 81.5,203.5 81.1,204.0 80.6,204.5 80.0,205.0 79.5,205.3 79.2,205.5 78.5,205.8 78.0,205.9 77.5,206.1 77.0,206.2 76.5,206.2 76.0,206.4 75.5,206.5 75.0,206.6 74.5,206.8 74.0,207.0 73.5,207.1 M72.5,121.7 72.0,121.8 71.5,121.9 71.0,121.9 70.5,121.8 70.0,121.6 69.5,121.3 69.0,121.0 68.5,120.6 68.0,120.0 67.7,119.5 67.5,119.2 67.2,118.5 67.0,118.0 66.9,117.5 66.8,117.0 66.8,116.5 66.8,116.0 66.8,115.5 66.9,115.0 67.0,114.5 67.2,114.0 67.4,113.5 67.7,113.0 68.0,112.6 68.5,112.1 69.0,111.7 69.3,111.5 70.0,111.2 70.5,111.1 71.0,111.0 71.5,111.1 72.0,111.1 72.5,111.3 72.9,111.5 73.5,111.9 74.0,112.3 74.5,112.9 74.9,113.5 75.0,113.8 75.3,114.5 75.4,115.0 75.5,115.5 75.6,116.0 75.6,116.5 75.6,117.0 75.5,117.5 75.4,118.0 75.3,118.5 75.1,119.0 74.8,119.5 74.5,120.0 74.2,120.5 73.7,121.0 73.0,121.5 72.5,121.7 M80.0,201.2 79.5,201.3 79.0,201.4 78.5,201.3 78.0,201.1 77.5,200.7 77.3,200.5 77.0,200.1 76.6,199.5 76.3,199.0 76.1,198.5 75.8,198.0 75.6,197.5 75.4,197.0 75.1,196.5 75.0,196.1 74.7,195.5 74.5,195.0 74.3,194.5 74.1,194.0 74.0,193.7 73.7,193.0 73.5,192.5 73.3,192.0 73.1,191.5 72.8,191.0 72.6,190.5 72.5,190.2 72.2,189.5 72.0,189.1 71.7,188.5 71.5,188.1 71.2,187.5 71.0,187.1 70.7,186.5 70.5,186.1 70.2,185.5 70.0,185.2 69.6,184.5 69.5,184.2 69.1,183.5 68.9,183.0 68.6,182.5 68.4,182.0 68.1,181.5 68.0,181.2 67.7,180.5 67.5,180.0 67.3,179.5 67.1,179.0 67.0,178.7 66.8,178.0 66.6,177.5 66.5,177.1 66.3,176.5 66.2,176.0 66.1,175.5 65.9,175.0 65.8,174.5 65.7,174.0 65.6,173.5 65.5,173.0 65.4,172.5 65.4,172.0 65.3,171.5 65.2,171.0 65.2,170.5 65.1,170.0 65.1,169.5 65.1,169.0 65.0,168.5 65.0,168.0 65.0,167.5 65.0,167.0 65.0,166.5 65.0,166.0 65.0,165.5 65.0,165.0 65.0,164.5 65.1,164.0 65.1,163.5 65.1,163.0 65.2,162.5 65.2,162.0 65.3,161.5 65.3,161.0 65.4,160.5 65.5,160.0 65.6,159.5 65.6,159.0 65.7,158.5 65.8,158.0 66.0,157.5 66.1,157.0 66.2,156.5 66.3,156.0 66.4,155.5 66.6,155.0 66.7,154.5 66.9,154.0 67.0,153.6 67.2,153.0 67.3,152.5 67.5,152.0 67.7,151.5 67.9,151.0 68.0,150.7 68.2,150.0 68.4,149.5 68.6,149.0 68.9,148.5 69.0,148.1 69.3,147.5 69.5,147.0 69.7,146.5 69.9,146.0 70.2,145.5 70.4,145.0 70.6,144.5 70.9,144.0 71.2,143.5 71.4,143.0 71.8,142.5 72.0,142.1 72.5,141.5 73.0,141.0 73.5,140.6 74.0,140.3 74.5,140.1 75.0,139.9 75.5,139.8 76.0,139.7 76.5,139.6 77.0,139.5 77.5,139.5 78.0,139.5 78.5,139.6 79.0,139.7 79.5,139.9 80.0,140.2 80.5,140.5 81.0,141.0 81.5,141.5 82.0,142.0 82.3,142.5 82.5,142.7 83.0,143.5 83.3,144.0 83.5,144.5 83.8,145.0 84.0,145.5 84.2,146.0 84.4,146.5 84.6,147.0 84.8,147.5 85.0,148.0 85.2,148.5 85.3,149.0 85.5,149.5 85.6,150.0 85.8,150.5 85.9,151.0 86.1,151.5 86.2,152.0 86.3,152.5 86.4,153.0 86.5,153.3 86.7,154.0 86.8,154.5 86.9,155.0 87.0,155.5 87.0,156.0 87.1,156.5 87.2,157.0 87.3,157.5 87.4,158.0 87.4,158.5 87.5,158.9 87.6,159.5 87.6,160.0 87.7,160.5 87.8,161.0 87.8,161.5 87.9,162.0 87.9,162.5 87.9,163.0 88.0,163.5 88.0,164.0 88.0,164.5 88.1,165.0 88.1,165.5 88.1,166.0 88.1,166.5 88.1,167.0 88.1,167.5 88.1,168.0 88.2,168.5 88.2,169.0 88.1,169.5 88.1,170.0 88.1,170.5 88.1,171.0 88.1,171.5 88.1,172.0 88.1,172.5 88.0,173.0 88.0,173.5 88.0,174.0 88.0,174.5 87.9,175.0 87.9,175.5 87.8,176.0 87.8,176.5 87.8,177.0 87.7,177.5 87.7,178.0 87.6,178.5 87.5,179.0 87.5,179.5 87.4,180.0 87.4,180.5 87.3,181.0 87.2,181.5 87.1,182.0 87.1,182.5 87.0,182.9 86.9,183.5 86.8,184.0 86.7,184.5 86.6,185.0 86.6,185.5 86.5,186.0 86.4,186.5 86.3,187.0 86.2,187.5 86.0,188.0 85.9,188.5 85.8,189.0 85.7,189.5 85.6,190.0 85.4,190.5 85.3,191.0 85.2,191.5 85.0,192.0 84.9,192.5 84.7,193.0 84.6,193.5 84.4,194.0 84.2,194.5 84.1,195.0 83.9,195.5 83.7,196.0 83.5,196.4 83.2,197.0 83.0,197.5 82.7,198.0 82.5,198.4 82.1,199.0 81.8,199.5 81.5,199.9 81.0,200.4 80.5,200.9 80.0,201.2 M72.0,119.2 71.5,119.4 71.0,119.4 70.5,119.3 70.0,119.1 69.5,118.7 69.0,118.1 68.7,117.5 68.5,117.0 68.4,116.5 68.4,116.0 68.5,115.5 68.6,115.0 68.8,114.5 69.0,114.2 69.5,113.6 70.0,113.3 70.5,113.1 71.0,113.0 71.5,113.1 72.0,113.2 72.5,113.5 73.0,114.0 73.3,114.5 73.5,114.9 73.7,115.5 73.8,116.0 73.8,116.5 73.7,117.0 73.5,117.5 73.3,118.0 73.0,118.4 72.5,118.9 72.0,119.2 M80.0,197.5 79.5,197.6 79.0,197.5 78.5,197.3 78.1,197.0 77.6,196.5 77.2,196.0 76.8,195.5 76.5,195.0 76.2,194.5 76.0,194.1 75.7,193.5 75.5,193.2 75.2,192.5 75.0,192.1 74.7,191.5 74.5,191.0 74.3,190.5 74.0,190.0 73.8,189.5 73.6,189.0 73.4,188.5 73.1,188.0 73.0,187.7 72.7,187.0 72.5,186.6 72.2,186.0 72.0,185.5 71.7,185.0 71.5,184.5 71.2,184.0 71.0,183.5 70.7,183.0 70.5,182.5 70.2,182.0 70.0,181.5 69.7,181.0 69.5,180.5 69.3,180.0 69.1,179.5 68.9,179.0 68.7,178.5 68.5,178.1 68.3,177.5 68.1,177.0 68.0,176.7 67.8,176.0 67.6,175.5 67.5,175.0 67.4,174.5 67.2,174.0 67.1,173.5 67.0,173.0 66.9,172.5 66.9,172.0 66.8,171.5 66.7,171.0 66.6,170.5 66.6,170.0 66.5,169.5 66.5,169.0 66.5,168.5 66.5,168.0 66.4,167.5 66.4,167.0 66.4,166.5 66.4,166.0 66.4,165.5 66.4,165.0 66.5,164.5 66.5,164.1 66.5,163.5 66.6,163.0 66.6,162.5 66.7,162.0 66.8,161.5 66.8,161.0 66.9,160.5 67.0,160.0 67.1,159.5 67.2,159.0 67.3,158.5 67.4,158.0 67.5,157.7 67.7,157.0 67.8,156.5 67.9,156.0 68.1,155.5 68.2,155.0 68.4,154.5 68.6,154.0 68.8,153.5 68.9,153.0 69.1,152.5 69.3,152.0 69.5,151.6 69.7,151.0 69.9,150.5 70.1,150.0 70.4,149.5 70.5,149.2 70.8,148.5 71.0,148.1 71.3,147.5 71.5,147.1 71.8,146.5 72.0,146.2 72.4,145.5 72.9,145.0 73.4,144.5 74.0,144.1 74.5,143.8 75.0,143.5 75.5,143.3 76.0,143.1 76.5,143.0 77.0,142.9 77.5,142.8 78.0,142.7 78.5,142.7 79.0,142.8 79.5,143.0 80.0,143.2 80.5,143.5 81.0,143.9 81.5,144.5 81.9,145.0 82.3,145.5 82.5,145.8 82.9,146.5 83.2,147.0 83.4,147.5 83.7,148.0 83.9,148.5 84.0,148.8 84.3,149.5 84.5,150.0 84.6,150.5 84.8,151.0 84.9,151.5 85.1,152.0 85.2,152.5 85.4,153.0 85.5,153.5 85.6,154.0 85.7,154.5 85.9,155.0 86.0,155.5 86.1,156.0 86.2,156.5 86.3,157.0 86.3,157.5 86.4,158.0 86.5,158.5 86.6,159.0 86.7,159.5 86.7,160.0 86.8,160.5 86.8,161.0 86.9,161.5 87.0,162.0 87.0,162.5 87.0,163.0 87.1,163.5 87.1,164.0 87.2,164.5 87.2,165.0 87.2,165.5 87.2,166.0 87.3,166.5 87.3,167.0 87.3,167.5 87.3,168.0 87.3,168.5 87.3,169.0 87.3,169.5 87.3,170.0 87.3,170.5 87.3,171.0 87.3,171.5 87.2,172.0 87.2,172.5 87.2,173.0 87.2,173.5 87.1,174.0 87.1,174.5 87.1,175.0 87.0,175.5 87.0,176.0 86.9,176.5 86.9,177.0 86.8,177.5 86.8,178.0 86.7,178.5 86.7,179.0 86.6,179.5 86.5,180.0 86.5,180.3 86.4,181.0 86.3,181.5 86.3,182.0 86.2,182.5 86.1,183.0 86.0,183.5 85.9,184.0 85.8,184.5 85.7,185.0 85.6,185.5 85.5,186.0 85.4,186.5 85.3,187.0 85.2,187.5 85.0,188.0 84.9,188.5 84.8,189.0 84.6,189.5 84.5,190.0 84.3,190.5 84.2,191.0 84.0,191.5 83.8,192.0 83.6,192.5 83.5,192.9 83.2,193.5 83.0,194.0 82.8,194.5 82.5,195.0 82.2,195.5 82.0,195.8 81.5,196.4 81.0,196.9 80.5,197.3 80.0,197.5 M71.0,116.5 70.7,116.0 71.0,115.6 71.4,116.0 71.1,116.5 M80.0,194.0 79.5,194.1 79.1,194.0 78.5,193.7 78.2,193.5 77.7,193.0 77.3,192.5 77.0,192.2 76.6,191.5 76.3,191.0 76.0,190.5 75.7,190.0 75.5,189.5 75.2,189.0 75.0,188.5 74.8,188.0 74.5,187.5 74.3,187.0 74.1,186.5 73.9,186.0 73.6,185.5 73.5,185.2 73.2,184.5 73.0,184.1 72.7,183.5 72.5,183.1 72.2,182.5 72.0,182.0 71.7,181.5 71.5,181.0 71.3,180.5 71.0,180.0 70.8,179.5 70.6,179.0 70.4,178.5 70.1,178.0 70.0,177.6 69.7,177.0 69.6,176.5 69.4,176.0 69.2,175.5 69.1,175.0 68.9,174.5 68.8,174.0 68.7,173.5 68.5,173.0 68.4,172.5 68.3,172.0 68.2,171.5 68.2,171.0 68.1,170.5 68.0,170.0 68.0,169.7 67.9,169.0 67.9,168.5 67.9,168.0 67.8,167.5 67.8,167.0 67.8,166.5 67.8,166.0 67.8,165.5 67.9,165.0 67.9,164.5 67.9,164.0 68.0,163.5 68.0,163.0 68.1,162.5 68.2,162.0 68.2,161.5 68.3,161.0 68.4,160.5 68.5,160.1 68.6,159.5 68.7,159.0 68.9,158.5 69.0,158.0 69.1,157.5 69.3,157.0 69.5,156.5 69.6,156.0 69.8,155.5 70.0,155.0 70.2,154.5 70.4,154.0 70.5,153.6 70.8,153.0 71.0,152.5 71.2,152.0 71.4,151.5 71.6,151.0 71.9,150.5 72.1,150.0 72.4,149.5 72.7,149.0 73.0,148.6 73.5,148.1 74.0,147.7 74.3,147.5 75.0,147.1 75.5,146.8 76.0,146.5 76.5,146.3 77.0,146.1 77.3,146.0 78.0,145.9 78.5,145.8 79.0,145.9 79.4,146.0 80.0,146.2 80.4,146.5 81.0,147.0 81.5,147.5 81.9,148.0 82.2,148.5 82.5,149.0 82.8,149.5 83.0,150.0 83.2,150.5 83.5,151.0 83.7,151.5 83.8,152.0 84.0,152.4 84.2,153.0 84.3,153.5 84.5,154.0 84.6,154.5 84.8,155.0 84.9,155.5 85.0,155.9 85.1,156.5 85.2,157.0 85.3,157.5 85.4,158.0 85.5,158.4 85.6,159.0 85.7,159.5 85.8,160.0 85.8,160.5 85.9,161.0 86.0,161.5 86.0,161.8 86.1,162.5 86.1,163.0 86.2,163.5 86.2,164.0 86.3,164.5 86.3,165.0 86.3,165.5 86.3,166.0 86.4,166.5 86.4,167.0 86.4,167.5 86.4,168.0 86.4,168.5 86.4,169.0 86.4,169.5 86.4,170.0 86.4,170.5 86.4,171.0 86.4,171.5 86.4,172.0 86.3,172.5 86.3,173.0 86.3,173.5 86.3,174.0 86.2,174.5 86.2,175.0 86.1,175.5 86.1,176.0 86.0,176.5 86.0,176.9 85.9,177.5 85.9,178.0 85.8,178.5 85.8,179.0 85.7,179.5 85.6,180.0 85.5,180.5 85.5,181.0 85.4,181.5 85.3,182.0 85.2,182.5 85.1,183.0 85.0,183.5 84.9,184.0 84.8,184.5 84.7,185.0 84.6,185.5 84.4,186.0 84.3,186.5 84.2,187.0 84.0,187.5 83.9,188.0 83.7,188.5 83.5,189.0 83.4,189.5 83.2,190.0 83.0,190.4 82.7,191.0 82.5,191.4 82.2,192.0 82.0,192.3 81.5,193.0 81.0,193.5 80.5,193.9 80.1,194.0 M80.0,190.5 79.5,190.6 79.0,190.4 78.5,190.2 78.0,189.8 77.8,189.5 77.5,189.2 77.0,188.5 76.7,188.0 76.5,187.7 76.1,187.0 75.8,186.5 75.6,186.0 75.3,185.5 75.1,185.0 74.9,184.5 74.6,184.0 74.4,183.5 74.1,183.0 74.0,182.7 73.7,182.0 73.5,181.6 73.2,181.0 73.0,180.6 72.7,180.0 72.5,179.5 72.3,179.0 72.0,178.5 71.8,178.0 71.6,177.5 71.4,177.0 71.2,176.5 71.0,176.0 70.8,175.5 70.6,175.0 70.5,174.6 70.3,174.0 70.1,173.5 70.0,173.0 69.9,172.5 69.8,172.0 69.7,171.5 69.6,171.0 69.5,170.5 69.4,170.0 69.4,169.5 69.3,169.0 69.3,168.5 69.2,168.0 69.2,167.5 69.2,167.0 69.2,166.5 69.2,166.0 69.2,165.5 69.3,165.0 69.3,164.5 69.3,164.0 69.4,163.5 69.5,163.0 69.5,162.5 69.6,162.0 69.7,161.5 69.8,161.0 69.9,160.5 70.0,160.2 70.2,159.5 70.3,159.0 70.5,158.5 70.6,158.0 70.8,157.5 71.0,157.0 71.2,156.5 71.4,156.0 71.5,155.7 71.8,155.0 72.0,154.6 72.3,154.0 72.5,153.6 72.8,153.0 73.0,152.7 73.5,152.0 74.0,151.5 74.5,151.0 75.0,150.6 75.5,150.2 75.8,150.0 76.5,149.6 77.0,149.4 77.5,149.2 78.0,149.1 78.5,149.0 79.0,149.0 79.5,149.2 80.0,149.4 80.5,149.8 80.8,150.0 81.0,150.2 81.2,150.5 81.5,150.8 82.0,151.5 82.2,152.0 82.5,152.5 82.7,153.0 82.9,153.5 83.1,154.0 83.3,154.5 83.5,155.0 83.7,155.5 83.8,156.0 83.9,156.5 84.1,157.0 84.2,157.5 84.3,158.0 84.4,158.5 84.5,158.8 84.6,159.5 84.7,160.0 84.8,160.5 84.9,161.0 85.0,161.5 85.0,161.9 85.1,162.5 85.1,163.0 85.2,163.5 85.2,164.0 85.3,164.5 85.3,165.0 85.4,165.5 85.4,166.0 85.4,166.5 85.4,167.0 85.4,167.5 85.5,168.0 85.5,168.5 85.5,169.0 85.5,169.5 85.5,170.0 85.5,170.5 85.4,171.0 85.4,171.5 85.4,172.0 85.4,172.5 85.4,173.0 85.3,173.5 85.3,174.0 85.3,174.5 85.2,175.0 85.2,175.5 85.1,176.0 85.1,176.5 85.0,177.0 85.0,177.5 84.9,178.0 84.8,178.5 84.7,179.0 84.7,179.5 84.6,180.0 84.5,180.5 84.4,181.0 84.3,181.5 84.2,182.0 84.1,182.5 84.0,182.9 83.9,183.5 83.7,184.0 83.6,184.5 83.5,184.8 83.3,185.5 83.1,186.0 83.0,186.3 82.7,187.0 82.5,187.5 82.3,188.0 82.0,188.5 81.7,189.0 81.5,189.3 81.0,189.9 80.5,190.3 80.0,190.5 M80.0,186.6 79.5,186.7 79.0,186.6 78.5,186.3 78.1,186.0 77.6,185.5 77.3,185.0 77.0,184.6 76.6,184.0 76.3,183.5 76.0,183.0 75.8,182.5 75.5,182.0 75.3,181.5 75.0,181.0 74.8,180.5 74.5,180.0 74.3,179.5 74.0,179.0 73.8,178.5 73.5,178.0 73.3,177.5 73.1,177.0 72.8,176.5 72.6,176.0 72.4,175.5 72.2,175.0 72.0,174.5 71.8,174.0 71.6,173.5 71.5,173.0 71.3,172.5 71.2,172.0 71.1,171.5 71.0,171.1 70.9,170.5 70.8,170.0 70.7,169.5 70.7,169.0 70.6,168.5 70.6,168.0 70.6,167.5 70.6,167.0 70.6,166.5 70.6,166.0 70.6,165.5 70.6,165.0 70.7,164.5 70.7,164.0 70.8,163.5 70.9,163.0 71.0,162.5 71.1,162.0 71.2,161.5 71.3,161.0 71.5,160.5 71.6,160.0 71.8,159.5 72.0,159.0 72.2,158.5 72.4,158.0 72.7,157.5 72.9,157.0 73.2,156.5 73.5,156.0 73.8,155.5 74.2,155.0 74.5,154.7 75.0,154.2 75.5,153.7 75.8,153.5 76.5,153.0 77.0,152.7 77.5,152.5 78.0,152.4 78.5,152.3 79.0,152.4 79.4,152.5 80.0,152.8 80.3,153.0 80.5,153.2 80.8,153.5 81.0,153.8 81.5,154.5 81.8,155.0 82.0,155.4 82.3,156.0 82.5,156.5 82.7,157.0 82.8,157.5 83.0,158.0 83.1,158.5 83.3,159.0 83.4,159.5 83.5,160.0 83.6,160.5 83.7,161.0 83.8,161.5 83.9,162.0 84.0,162.5 84.0,162.8 84.1,163.5 84.2,164.0 84.2,164.5 84.2,165.0 84.3,165.5 84.3,166.0 84.4,166.5 84.4,167.0 84.4,167.5 84.4,168.0 84.4,168.5 84.4,169.0 84.4,169.5 84.4,170.0 84.4,170.5 84.4,171.0 84.4,171.5 84.4,172.0 84.3,172.5 84.3,173.0 84.3,173.5 84.2,174.0 84.2,174.5 84.1,175.0 84.1,175.5 84.0,176.0 84.0,176.5 83.9,177.0 83.8,177.5 83.7,178.0 83.6,178.5 83.5,179.0 83.4,179.5 83.3,180.0 83.2,180.5 83.1,181.0 83.0,181.4 82.8,182.0 82.7,182.5 82.5,183.0 82.3,183.5 82.1,184.0 81.9,184.5 81.6,185.0 81.3,185.5 81.0,185.9 80.5,186.4 80.2,186.5 M80.0,182.1 79.5,182.3 79.0,182.2 78.5,182.0 78.0,181.6 77.5,181.1 77.1,180.5 76.7,180.0 76.5,179.6 76.1,179.0 75.8,178.5 75.5,178.0 75.2,177.5 75.0,177.1 74.7,176.5 74.5,176.2 74.2,175.5 74.0,175.2 73.7,174.5 73.5,174.1 73.2,173.5 73.0,173.0 72.9,172.5 72.7,172.0 72.5,171.5 72.4,171.0 72.3,170.5 72.2,170.0 72.1,169.5 72.0,169.0 72.0,168.5 71.9,168.0 71.9,167.5 71.9,167.0 71.9,166.5 71.9,166.0 71.9,165.5 72.0,165.0 72.1,164.5 72.1,164.0 72.2,163.5 72.4,163.0 72.5,162.5 72.6,162.0 72.8,161.5 73.0,161.0 73.2,160.5 73.5,160.0 73.7,159.5 74.0,159.1 74.4,158.5 74.8,158.0 75.3,157.5 75.5,157.3 75.8,157.0 76.5,156.5 77.0,156.2 77.5,156.0 78.0,155.9 78.5,155.9 79.0,156.0 79.5,156.2 79.9,156.5 80.4,157.0 80.8,157.5 81.0,157.9 81.3,158.5 81.5,158.9 81.7,159.5 81.9,160.0 82.1,160.5 82.2,161.0 82.4,161.5 82.5,162.0 82.6,162.5 82.7,163.0 82.8,163.5 82.8,164.0 82.9,164.5 83.0,165.0 83.0,165.5 83.1,166.0 83.1,166.5 83.1,167.0 83.2,167.5 83.2,168.0 83.2,168.5 83.2,169.0 83.2,169.5 83.2,170.0 83.2,170.5 83.2,171.0 83.1,171.5 83.1,172.0 83.1,172.5 83.0,173.0 83.0,173.4 82.9,174.0 82.9,174.5 82.8,175.0 82.7,175.5 82.6,176.0 82.5,176.5 82.4,177.0 82.3,177.5 82.2,178.0 82.0,178.5 81.9,179.0 81.7,179.5 81.5,180.0 81.3,180.5 81.0,181.0 80.7,181.5 80.1,182.0 M79.5,176.7 79.0,176.9 78.5,176.8 78.0,176.6 77.5,176.2 77.3,176.0 77.0,175.7 76.8,175.5 76.5,175.2 76.0,174.5 75.6,174.0 75.3,173.5 75.0,173.1 74.7,172.5 74.5,172.2 74.2,171.5 74.0,171.1 73.8,170.5 73.6,170.0 73.5,169.5 73.4,169.0 73.3,168.5 73.3,168.0 73.2,167.5 73.2,167.0 73.2,166.5 73.3,166.0 73.3,165.5 73.4,165.0 73.5,164.6 73.7,164.0 73.8,163.5 74.0,163.1 74.3,162.5 74.5,162.1 74.9,161.5 75.4,161.0 76.0,160.5 76.5,160.2 76.9,160.0 77.5,159.8 78.0,159.8 78.5,160.0 79.0,160.2 79.3,160.5 79.8,161.0 80.0,161.3 80.4,162.0 80.5,162.3 80.7,163.0 80.9,163.5 81.0,163.8 81.2,164.5 81.2,165.0 81.3,165.5 81.4,166.0 81.5,166.5 81.5,166.9 81.5,167.5 81.6,168.0 81.6,168.5 81.6,169.0 81.6,169.5 81.6,170.0 81.5,170.5 81.5,170.9 81.4,171.5 81.4,172.0 81.3,172.5 81.2,173.0 81.1,173.5 81.0,174.0 80.8,174.5 80.7,175.0 80.5,175.4 80.2,176.0 80.0,176.3 79.8,176.5 79.5,176.7 M77.5,170.3 77.0,170.4 76.5,170.3 76.0,170.0 75.5,169.5 75.2,169.0 75.0,168.5 74.9,168.0 74.8,167.5 74.8,167.0 74.8,166.5 74.9,166.0 75.0,165.7 75.4,165.0 75.9,164.5 76.5,164.3 77.0,164.4 77.5,164.7 77.8,165.0 78.0,165.3 78.3,166.0 78.5,166.5 78.6,167.0 78.6,167.5 78.6,168.0 78.6,168.5 78.5,168.9 78.3,169.5 78.0,170.0 77.5,170.3" fill="none" stroke="#111" stroke-width="0.85" stroke-linejoin="round"/>
<path d="M93.3,157.5h1.1v1.1h-1.1zM77.5,102.2h1.1v1.1h-1.1zM88.3,129.8h1.1v1.1h-1.1zM55.3,123.9h1.1v1.1h-1.1zM60.9,195.6h1.1v1.1h-1.1zM69.4,97.0h1.1v1.1h-1.1zM92.0,142.9h1.1v1.1h-1.1zM58.8,125.2h1.1v1.1h-1.1zM81.4,97.2h1.1v1.1h-1.1zM71.6,98.1h1.1v1.1h-1.1zM88.0,138.7h1.1v1.1h-1.1zM58.2,147.2h1.1v1.1h-1.1zM84.9,116.3h1.1v1.1h-1.1zM86.5,117.3h1.1v1.1h-1.1zM86.0,131.1h1.1v1.1h-1.1zM55.1,158.9h1.1v1.1h-1.1zM57.2,144.7h1.1v1.1h-1.1zM54.4,134.3h1.1v1.1h-1.1zM58.2,146.7h1.1v1.1h-1.1zM57.5,189.2h1.1v1.1h-1.1zM49.6,167.1h1.1v1.1h-1.1zM70.1,97.3h1.1v1.1h-1.1zM89.3,209.0h1.1v1.1h-1.1zM58.7,131.3h1.1v1.1h-1.1zM91.7,198.0h1.1v1.1h-1.1zM69.4,95.1h1.1v1.1h-1.1zM93.6,126.4h1.1v1.1h-1.1zM101.4,179.3h1.1v1.1h-1.1zM80.3,102.1h1.1v1.1h-1.1zM61.9,102.6h1.1v1.1h-1.1zM94.1,195.9h1.1v1.1h-1.1zM65.2,97.0h1.1v1.1h-1.1zM61.4,135.5h1.1v1.1h-1.1zM53.8,117.8h1.1v1.1h-1.1zM80.1,104.4h1.1v1.1h-1.1zM88.2,123.2h1.1v1.1h-1.1zM58.4,209.8h1.1v1.1h-1.1zM56.3,184.1h1.1v1.1h-1.1zM90.0,212.3h1.1v1.1h-1.1zM94.6,167.0h1.1v1.1h-1.1zM68.3,216.3h1.1v1.1h-1.1zM57.9,137.5h1.1v1.1h-1.1zM88.0,133.9h1.1v1.1h-1.1zM82.8,215.0h1.1v1.1h-1.1zM56.5,128.8h1.1v1.1h-1.1zM97.2,195.9h1.1v1.1h-1.1zM90.2,132.9h1.1v1.1h-1.1zM54.5,117.2h1.1v1.1h-1.1zM54.5,201.3h1.1v1.1h-1.1zM58.5,142.4h1.1v1.1h-1.1zM95.7,170.6h1.1v1.1h-1.1zM73.8,99.7h1.1v1.1h-1.1zM64.5,101.9h1.1v1.1h-1.1zM59.1,210.5h1.1v1.1h-1.1zM61.0,133.4h1.1v1.1h-1.1zM57.3,173.4h1.1v1.1h-1.1zM62.1,101.9h1.1v1.1h-1.1zM91.2,187.9h1.1v1.1h-1.1zM52.6,178.3h1.1v1.1h-1.1zM97.1,154.8h1.1v1.1h-1.1zM70.8,95.4h1.1v1.1h-1.1zM83.9,110.0h1.1v1.1h-1.1zM53.9,158.5h1.1v1.1h-1.1zM94.5,166.2h1.1v1.1h-1.1zM87.9,211.8h1.1v1.1h-1.1zM61.8,138.9h1.1v1.1h-1.1zM94.3,176.4h1.1v1.1h-1.1zM53.8,183.9h1.1v1.1h-1.1zM82.2,95.3h1.1v1.1h-1.1zM94.3,134.7h1.1v1.1h-1.1zM64.5,213.9h1.1v1.1h-1.1zM55.0,159.6h1.1v1.1h-1.1zM69.1,91.0h1.1v1.1h-1.1zM64.0,99.3h1.1v1.1h-1.1zM92.3,180.7h1.1v1.1h-1.1zM55.7,153.4h1.1v1.1h-1.1zM95.3,176.4h1.1v1.1h-1.1zM60.1,97.7h1.1v1.1h-1.1zM67.4,96.3h1.1v1.1h-1.1zM53.2,154.8h1.1v1.1h-1.1zM97.5,151.9h1.1v1.1h-1.1zM56.6,102.3h1.1v1.1h-1.1zM94.1,195.1h1.1v1.1h-1.1zM53.1,113.2h1.1v1.1h-1.1zM53.2,172.5h1.1v1.1h-1.1zM51.2,183.0h1.1v1.1h-1.1zM55.2,175.8h1.1v1.1h-1.1zM87.5,214.6h1.1v1.1h-1.1zM73.9,98.6h1.1v1.1h-1.1zM91.4,139.4h1.1v1.1h-1.1zM57.5,153.3h1.1v1.1h-1.1zM99.4,176.9h1.1v1.1h-1.1zM98.5,160.6h1.1v1.1h-1.1zM51.5,200.2h1.1v1.1h-1.1zM62.3,194.4h1.1v1.1h-1.1zM95.8,140.3h1.1v1.1h-1.1zM59.4,109.9h1.1v1.1h-1.1zM84.8,109.6h1.1v1.1h-1.1zM88.5,214.4h1.1v1.1h-1.1zM92.5,188.1h1.1v1.1h-1.1zM55.8,130.6h1.1v1.1h-1.1zM58.7,107.6h1.1v1.1h-1.1zM69.9,215.0h1.1v1.1h-1.1zM95.2,179.8h1.1v1.1h-1.1zM87.6,112.3h1.1v1.1h-1.1zM55.0,173.6h1.1v1.1h-1.1zM92.4,138.2h1.1v1.1h-1.1zM99.7,179.8h1.1v1.1h-1.1zM79.0,215.4h1.1v1.1h-1.1zM52.7,127.9h1.1v1.1h-1.1zM52.7,170.8h1.1v1.1h-1.1zM56.0,130.9h1.1v1.1h-1.1zM64.9,97.0h1.1v1.1h-1.1zM56.2,192.0h1.1v1.1h-1.1zM92.6,187.1h1.1v1.1h-1.1zM88.1,128.1h1.1v1.1h-1.1zM89.0,216.5h1.1v1.1h-1.1zM58.2,105.7h1.1v1.1h-1.1zM52.2,106.1h1.1v1.1h-1.1zM53.5,148.8h1.1v1.1h-1.1zM55.7,171.1h1.1v1.1h-1.1zM95.4,190.0h1.1v1.1h-1.1zM89.3,197.6h1.1v1.1h-1.1zM85.8,109.7h1.1v1.1h-1.1zM56.6,217.2h1.1v1.1h-1.1zM55.6,109.3h1.1v1.1h-1.1zM85.9,94.9h1.1v1.1h-1.1zM90.0,139.3h1.1v1.1h-1.1zM54.1,171.5h1.1v1.1h-1.1zM85.6,123.6h1.1v1.1h-1.1zM67.4,94.4h1.1v1.1h-1.1zM56.0,162.4h1.1v1.1h-1.1zM89.9,197.9h1.1v1.1h-1.1zM99.0,151.2h1.1v1.1h-1.1zM95.2,185.1h1.1v1.1h-1.1zM82.1,107.9h1.1v1.1h-1.1zM93.0,189.3h1.1v1.1h-1.1zM84.2,98.5h1.1v1.1h-1.1zM88.1,126.6h1.1v1.1h-1.1zM97.8,176.1h1.1v1.1h-1.1zM90.1,117.8h1.1v1.1h-1.1zM57.6,142.3h1.1v1.1h-1.1zM55.6,129.1h1.1v1.1h-1.1zM61.6,201.5h1.1v1.1h-1.1zM57.5,118.1h1.1v1.1h-1.1zM92.6,112.6h1.1v1.1h-1.1zM56.3,194.4h1.1v1.1h-1.1zM91.1,119.5h1.1v1.1h-1.1zM58.9,136.4h1.1v1.1h-1.1zM86.1,105.8h1.1v1.1h-1.1zM92.2,199.8h1.1v1.1h-1.1zM90.9,129.6h1.1v1.1h-1.1zM86.7,105.5h1.1v1.1h-1.1zM96.0,185.1h1.1v1.1h-1.1zM70.7,97.2h1.1v1.1h-1.1zM56.4,191.4h1.1v1.1h-1.1zM52.7,168.4h1.1v1.1h-1.1zM55.9,115.5h1.1v1.1h-1.1zM97.0,204.1h1.1v1.1h-1.1zM87.0,108.3h1.1v1.1h-1.1zM101.0,167.0h1.1v1.1h-1.1zM94.0,168.3h1.1v1.1h-1.1zM86.8,114.9h1.1v1.1h-1.1zM95.2,133.2h1.1v1.1h-1.1zM91.6,188.3h1.1v1.1h-1.1zM61.0,212.0h1.1v1.1h-1.1zM53.1,157.0h1.1v1.1h-1.1zM86.3,116.3h1.1v1.1h-1.1zM92.2,209.3h1.1v1.1h-1.1zM94.8,184.3h1.1v1.1h-1.1zM74.1,93.9h1.1v1.1h-1.1zM52.5,159.7h1.1v1.1h-1.1zM96.1,149.6h1.1v1.1h-1.1zM93.5,176.8h1.1v1.1h-1.1zM49.3,180.6h1.1v1.1h-1.1zM82.5,108.7h1.1v1.1h-1.1zM101.0,153.9h1.1v1.1h-1.1zM89.3,129.2h1.1v1.1h-1.1zM56.7,116.6h1.1v1.1h-1.1zM95.2,179.6h1.1v1.1h-1.1zM59.1,138.8h1.1v1.1h-1.1zM54.1,128.9h1.1v1.1h-1.1zM57.8,122.5h1.1v1.1h-1.1zM96.7,138.2h1.1v1.1h-1.1zM54.5,174.7h1.1v1.1h-1.1zM92.6,112.1h1.1v1.1h-1.1zM71.5,98.6h1.1v1.1h-1.1zM90.5,215.5h1.1v1.1h-1.1zM90.7,140.1h1.1v1.1h-1.1zM93.8,191.8h1.1v1.1h-1.1zM59.2,193.6h1.1v1.1h-1.1zM51.1,174.5h1.1v1.1h-1.1zM85.5,129.1h1.1v1.1h-1.1zM55.8,102.3h1.1v1.1h-1.1zM85.1,123.4h1.1v1.1h-1.1zM67.8,214.0h1.1v1.1h-1.1zM91.5,147.4h1.1v1.1h-1.1zM95.1,142.6h1.1v1.1h-1.1zM56.9,154.5h1.1v1.1h-1.1zM84.6,101.7h1.1v1.1h-1.1zM58.8,196.8h1.1v1.1h-1.1zM54.6,177.0h1.1v1.1h-1.1zM69.8,98.1h1.1v1.1h-1.1zM57.6,155.1h1.1v1.1h-1.1zM83.2,213.3h1.1v1.1h-1.1zM91.7,112.2h1.1v1.1h-1.1zM75.6,215.8h1.1v1.1h-1.1zM52.1,163.8h1.1v1.1h-1.1zM57.3,164.6h1.1v1.1h-1.1zM75.9,100.8h1.1v1.1h-1.1zM51.7,183.0h1.1v1.1h-1.1zM88.0,206.2h1.1v1.1h-1.1zM55.0,155.8h1.1v1.1h-1.1zM93.6,205.4h1.1v1.1h-1.1zM50.8,115.5h1.1v1.1h-1.1zM94.3,175.5h1.1v1.1h-1.1zM49.9,156.8h1.1v1.1h-1.1zM93.5,152.9h1.1v1.1h-1.1zM84.1,106.1h1.1v1.1h-1.1zM58.2,194.0h1.1v1.1h-1.1zM95.9,169.4h1.1v1.1h-1.1zM96.5,174.1h1.1v1.1h-1.1zM83.3,110.6h1.1v1.1h-1.1zM97.8,141.6h1.1v1.1h-1.1zM51.9,129.8h1.1v1.1h-1.1zM60.5,127.4h1.1v1.1h-1.1zM92.8,127.2h1.1v1.1h-1.1zM92.2,182.3h1.1v1.1h-1.1zM57.3,103.4h1.1v1.1h-1.1zM90.7,119.2h1.1v1.1h-1.1zM56.3,139.8h1.1v1.1h-1.1zM54.0,172.9h1.1v1.1h-1.1zM57.2,185.3h1.1v1.1h-1.1zM89.5,107.1h1.1v1.1h-1.1zM87.7,136.8h1.1v1.1h-1.1zM92.1,202.1h1.1v1.1h-1.1zM61.1,202.5h1.1v1.1h-1.1zM58.6,152.0h1.1v1.1h-1.1zM57.1,217.3h1.1v1.1h-1.1zM98.5,175.4h1.1v1.1h-1.1zM93.6,163.2h1.1v1.1h-1.1zM60.6,192.1h1.1v1.1h-1.1zM55.9,188.2h1.1v1.1h-1.1zM88.6,120.0h1.1v1.1h-1.1zM60.4,129.6h1.1v1.1h-1.1zM57.7,126.2h1.1v1.1h-1.1zM83.4,106.1h1.1v1.1h-1.1zM60.2,216.0h1.1v1.1h-1.1zM73.4,97.6h1.1v1.1h-1.1zM61.6,216.6h1.1v1.1h-1.1zM92.5,128.3h1.1v1.1h-1.1zM63.9,210.7h1.1v1.1h-1.1zM93.1,135.2h1.1v1.1h-1.1zM87.8,105.9h1.1v1.1h-1.1zM59.1,143.7h1.1v1.1h-1.1zM62.0,198.8h1.1v1.1h-1.1zM79.2,216.7h1.1v1.1h-1.1zM55.3,199.1h1.1v1.1h-1.1zM75.8,92.7h1.1v1.1h-1.1zM90.3,138.1h1.1v1.1h-1.1zM50.6,127.1h1.1v1.1h-1.1zM63.7,100.2h1.1v1.1h-1.1zM86.9,112.0h1.1v1.1h-1.1zM53.9,161.9h1.1v1.1h-1.1zM56.4,152.8h1.1v1.1h-1.1zM59.5,206.3h1.1v1.1h-1.1zM71.7,100.6h1.1v1.1h-1.1zM51.9,111.6h1.1v1.1h-1.1zM58.5,99.3h1.1v1.1h-1.1zM56.7,117.9h1.1v1.1h-1.1zM50.4,151.0h1.1v1.1h-1.1zM66.3,213.5h1.1v1.1h-1.1zM80.9,99.2h1.1v1.1h-1.1zM96.4,160.2h1.1v1.1h-1.1zM84.8,113.2h1.1v1.1h-1.1zM54.7,183.8h1.1v1.1h-1.1zM57.2,124.1h1.1v1.1h-1.1zM85.9,115.1h1.1v1.1h-1.1zM94.0,119.2h1.1v1.1h-1.1zM86.1,103.2h1.1v1.1h-1.1zM54.0,201.9h1.1v1.1h-1.1zM57.6,178.8h1.1v1.1h-1.1zM91.7,194.0h1.1v1.1h-1.1zM94.9,141.5h1.1v1.1h-1.1zM86.0,214.6h1.1v1.1h-1.1zM75.1,100.4h1.1v1.1h-1.1zM84.1,214.5h1.1v1.1h-1.1zM54.9,162.6h1.1v1.1h-1.1zM53.1,122.3h1.1v1.1h-1.1zM59.1,129.1h1.1v1.1h-1.1zM59.8,190.5h1.1v1.1h-1.1zM97.6,167.0h1.1v1.1h-1.1zM77.6,96.9h1.1v1.1h-1.1zM55.2,118.7h1.1v1.1h-1.1zM67.6,214.7h1.1v1.1h-1.1zM87.1,134.0h1.1v1.1h-1.1zM96.7,162.8h1.1v1.1h-1.1zM58.3,123.9h1.1v1.1h-1.1zM93.8,151.2h1.1v1.1h-1.1zM59.3,124.0h1.1v1.1h-1.1zM56.0,147.4h1.1v1.1h-1.1zM55.3,152.1h1.1v1.1h-1.1zM96.0,173.7h1.1v1.1h-1.1zM55.6,177.9h1.1v1.1h-1.1zM64.7,99.4h1.1v1.1h-1.1zM63.4,101.0h1.1v1.1h-1.1zM66.4,100.7h1.1v1.1h-1.1zM95.9,169.2h1.1v1.1h-1.1zM53.5,179.5h1.1v1.1h-1.1zM76.6,93.3h1.1v1.1h-1.1zM95.1,170.1h1.1v1.1h-1.1zM86.7,126.8h1.1v1.1h-1.1zM57.1,144.4h1.1v1.1h-1.1zM57.0,210.6h1.1v1.1h-1.1zM89.9,139.9h1.1v1.1h-1.1zM55.4,133.7h1.1v1.1h-1.1zM91.1,118.6h1.1v1.1h-1.1zM67.7,214.6h1.1v1.1h-1.1zM90.5,217.1h1.1v1.1h-1.1zM75.5,101.5h1.1v1.1h-1.1zM91.3,207.4h1.1v1.1h-1.1zM57.5,95.7h1.1v1.1h-1.1zM53.0,166.8h1.1v1.1h-1.1zM57.5,206.1h1.1v1.1h-1.1zM58.7,109.0h1.1v1.1h-1.1zM66.9,95.8h1.1v1.1h-1.1zM88.7,133.6h1.1v1.1h-1.1zM58.5,179.6h1.1v1.1h-1.1zM55.6,132.1h1.1v1.1h-1.1zM89.7,140.2h1.1v1.1h-1.1zM56.8,159.0h1.1v1.1h-1.1zM52.3,109.8h1.1v1.1h-1.1zM90.1,116.7h1.1v1.1h-1.1zM77.5,99.7h1.1v1.1h-1.1zM93.4,193.0h1.1v1.1h-1.1zM93.0,182.2h1.1v1.1h-1.1zM60.0,105.6h1.1v1.1h-1.1zM86.1,123.0h1.1v1.1h-1.1zM56.1,205.5h1.1v1.1h-1.1zM65.2,216.3h1.1v1.1h-1.1zM51.2,131.9h1.1v1.1h-1.1zM57.5,144.7h1.1v1.1h-1.1zM61.2,95.5h1.1v1.1h-1.1zM54.5,117.7h1.1v1.1h-1.1zM52.9,161.7h1.1v1.1h-1.1zM56.5,190.9h1.1v1.1h-1.1zM91.5,104.0h1.1v1.1h-1.1zM57.5,139.6h1.1v1.1h-1.1zM95.7,156.2h1.1v1.1h-1.1zM52.1,168.3h1.1v1.1h-1.1zM51.9,180.8h1.1v1.1h-1.1zM84.5,123.2h1.1v1.1h-1.1zM82.0,215.1h1.1v1.1h-1.1zM53.5,203.6h1.1v1.1h-1.1zM60.5,126.9h1.1v1.1h-1.1zM54.6,177.9h1.1v1.1h-1.1zM55.1,109.7h1.1v1.1h-1.1zM56.2,121.2h1.1v1.1h-1.1zM58.8,141.3h1.1v1.1h-1.1zM87.7,123.9h1.1v1.1h-1.1zM56.0,199.0h1.1v1.1h-1.1zM98.2,156.3h1.1v1.1h-1.1zM62.8,100.5h1.1v1.1h-1.1zM93.1,137.0h1.1v1.1h-1.1zM53.1,145.1h1.1v1.1h-1.1zM62.5,89.7h1.1v1.1h-1.1zM55.1,129.2h1.1v1.1h-1.1zM97.0,180.0h1.1v1.1h-1.1zM97.1,158.4h1.1v1.1h-1.1zM56.5,195.3h1.1v1.1h-1.1zM68.8,215.3h1.1v1.1h-1.1zM90.3,103.2h1.1v1.1h-1.1zM58.9,122.0h1.1v1.1h-1.1zM93.3,142.4h1.1v1.1h-1.1zM56.6,118.4h1.1v1.1h-1.1zM50.3,178.6h1.1v1.1h-1.1zM81.6,92.3h1.1v1.1h-1.1zM74.0,86.5h1.1v1.1h-1.1zM81.9,215.7h1.1v1.1h-1.1zM93.6,157.5h1.1v1.1h-1.1zM57.1,138.5h1.1v1.1h-1.1zM60.2,138.4h1.1v1.1h-1.1zM67.2,213.3h1.1v1.1h-1.1zM59.2,182.1h1.1v1.1h-1.1zM71.5,100.8h1.1v1.1h-1.1zM67.0,102.0h1.1v1.1h-1.1zM95.3,157.4h1.1v1.1h-1.1zM96.9,179.4h1.1v1.1h-1.1zM57.6,203.2h1.1v1.1h-1.1zM61.2,197.2h1.1v1.1h-1.1zM51.2,144.1h1.1v1.1h-1.1zM94.5,134.1h1.1v1.1h-1.1zM56.8,146.1h1.1v1.1h-1.1zM56.4,151.6h1.1v1.1h-1.1zM51.2,153.9h1.1v1.1h-1.1zM98.8,173.4h1.1v1.1h-1.1zM58.1,158.7h1.1v1.1h-1.1zM55.0,157.3h1.1v1.1h-1.1zM60.4,186.7h1.1v1.1h-1.1zM82.1,101.7h1.1v1.1h-1.1zM53.4,186.4h1.1v1.1h-1.1zM90.0,144.5h1.1v1.1h-1.1zM97.2,141.0h1.1v1.1h-1.1zM53.7,167.4h1.1v1.1h-1.1zM58.6,182.8h1.1v1.1h-1.1zM54.2,193.6h1.1v1.1h-1.1zM93.8,147.4h1.1v1.1h-1.1zM73.1,88.8h1.1v1.1h-1.1zM57.5,95.7h1.1v1.1h-1.1zM93.4,156.4h1.1v1.1h-1.1zM67.9,96.7h1.1v1.1h-1.1zM71.1,93.5h1.1v1.1h-1.1zM74.1,94.7h1.1v1.1h-1.1zM57.8,141.7h1.1v1.1h-1.1zM60.8,141.2h1.1v1.1h-1.1zM57.2,211.1h1.1v1.1h-1.1zM67.6,90.3h1.1v1.1h-1.1zM84.0,108.0h1.1v1.1h-1.1zM66.3,216.9h1.1v1.1h-1.1zM94.4,184.2h1.1v1.1h-1.1z" fill="#000"/>
<path d="M55.0,199.4h1.1v1.1h-1.1zM54.0,158.8h1.1v1.1h-1.1zM52.6,215.4h1.1v1.1h-1.1zM50.0,203.6h1.1v1.1h-1.1zM52.9,201.2h1.1v1.1h-1.1zM38.0,182.6h1.1v1.1h-1.1zM51.6,182.1h1.1v1.1h-1.1zM53.3,202.3h1.1v1.1h-1.1zM35.0,208.5h1.1v1.1h-1.1zM44.2,144.0h1.1v1.1h-1.1zM51.6,201.8h1.1v1.1h-1.1zM38.5,156.3h1.1v1.1h-1.1zM46.4,207.2h1.1v1.1h-1.1zM43.5,175.9h1.1v1.1h-1.1zM41.2,173.2h1.1v1.1h-1.1zM49.4,215.0h1.1v1.1h-1.1zM54.2,180.2h1.1v1.1h-1.1zM53.8,174.0h1.1v1.1h-1.1zM38.5,169.6h1.1v1.1h-1.1zM47.2,195.0h1.1v1.1h-1.1zM47.8,149.3h1.1v1.1h-1.1zM41.0,215.7h1.1v1.1h-1.1zM51.7,204.8h1.1v1.1h-1.1zM33.4,154.0h1.1v1.1h-1.1zM36.7,169.5h1.1v1.1h-1.1zM39.7,214.2h1.1v1.1h-1.1zM33.9,175.0h1.1v1.1h-1.1zM52.1,200.4h1.1v1.1h-1.1zM36.4,178.6h1.1v1.1h-1.1zM52.4,178.6h1.1v1.1h-1.1zM38.0,200.0h1.1v1.1h-1.1zM53.8,162.0h1.1v1.1h-1.1zM56.0,203.3h1.1v1.1h-1.1zM52.5,178.5h1.1v1.1h-1.1zM53.8,197.8h1.1v1.1h-1.1zM51.5,147.6h1.1v1.1h-1.1zM49.4,143.9h1.1v1.1h-1.1zM43.6,211.8h1.1v1.1h-1.1zM53.3,188.7h1.1v1.1h-1.1zM46.2,185.7h1.1v1.1h-1.1zM37.4,163.1h1.1v1.1h-1.1zM52.1,200.4h1.1v1.1h-1.1zM45.7,197.0h1.1v1.1h-1.1zM37.2,170.8h1.1v1.1h-1.1zM48.4,197.1h1.1v1.1h-1.1zM52.7,142.5h1.1v1.1h-1.1zM48.6,193.8h1.1v1.1h-1.1zM33.8,185.7h1.1v1.1h-1.1zM35.4,196.9h1.1v1.1h-1.1zM45.8,192.1h1.1v1.1h-1.1zM40.8,208.4h1.1v1.1h-1.1zM40.9,177.6h1.1v1.1h-1.1zM44.5,215.0h1.1v1.1h-1.1zM46.8,188.7h1.1v1.1h-1.1zM41.7,211.5h1.1v1.1h-1.1zM55.9,147.4h1.1v1.1h-1.1zM52.0,203.0h1.1v1.1h-1.1zM54.7,140.3h1.1v1.1h-1.1zM36.8,156.1h1.1v1.1h-1.1zM37.6,156.4h1.1v1.1h-1.1zM55.8,170.0h1.1v1.1h-1.1zM39.3,190.6h1.1v1.1h-1.1zM52.5,142.7h1.1v1.1h-1.1zM44.5,193.8h1.1v1.1h-1.1zM48.6,140.9h1.1v1.1h-1.1zM38.3,185.6h1.1v1.1h-1.1zM38.6,156.8h1.1v1.1h-1.1zM44.5,185.1h1.1v1.1h-1.1zM50.4,193.0h1.1v1.1h-1.1zM46.1,147.5h1.1v1.1h-1.1zM53.2,145.4h1.1v1.1h-1.1zM54.5,186.9h1.1v1.1h-1.1zM53.8,143.1h1.1v1.1h-1.1zM45.3,178.7h1.1v1.1h-1.1zM39.5,150.4h1.1v1.1h-1.1zM47.9,145.0h1.1v1.1h-1.1zM34.0,162.6h1.1v1.1h-1.1zM42.8,190.3h1.1v1.1h-1.1zM50.4,197.3h1.1v1.1h-1.1zM50.9,153.8h1.1v1.1h-1.1zM33.9,140.1h1.1v1.1h-1.1zM50.2,152.5h1.1v1.1h-1.1zM53.4,178.7h1.1v1.1h-1.1zM36.5,200.3h1.1v1.1h-1.1zM36.6,179.5h1.1v1.1h-1.1zM34.9,212.0h1.1v1.1h-1.1zM49.0,208.1h1.1v1.1h-1.1zM39.0,205.6h1.1v1.1h-1.1zM53.4,155.4h1.1v1.1h-1.1zM47.0,214.0h1.1v1.1h-1.1zM42.4,205.2h1.1v1.1h-1.1zM45.9,193.5h1.1v1.1h-1.1zM48.9,179.9h1.1v1.1h-1.1zM37.6,205.0h1.1v1.1h-1.1zM37.4,147.1h1.1v1.1h-1.1zM39.5,147.4h1.1v1.1h-1.1zM51.7,187.7h1.1v1.1h-1.1zM42.2,159.2h1.1v1.1h-1.1zM42.7,191.7h1.1v1.1h-1.1zM47.5,184.8h1.1v1.1h-1.1zM53.6,186.1h1.1v1.1h-1.1zM50.7,156.7h1.1v1.1h-1.1zM48.8,217.1h1.1v1.1h-1.1zM51.9,211.4h1.1v1.1h-1.1zM54.6,186.7h1.1v1.1h-1.1zM49.7,155.9h1.1v1.1h-1.1zM45.5,196.0h1.1v1.1h-1.1zM54.4,168.4h1.1v1.1h-1.1zM34.0,178.9h1.1v1.1h-1.1zM52.6,154.2h1.1v1.1h-1.1zM34.6,204.4h1.1v1.1h-1.1zM55.5,197.5h1.1v1.1h-1.1zM49.9,194.4h1.1v1.1h-1.1zM55.2,214.5h1.1v1.1h-1.1zM41.5,188.4h1.1v1.1h-1.1zM54.2,207.8h1.1v1.1h-1.1zM42.5,201.2h1.1v1.1h-1.1zM40.7,166.4h1.1v1.1h-1.1zM42.7,199.0h1.1v1.1h-1.1zM46.6,141.6h1.1v1.1h-1.1zM51.3,189.6h1.1v1.1h-1.1zM33.4,193.8h1.1v1.1h-1.1zM47.0,215.5h1.1v1.1h-1.1zM55.5,187.2h1.1v1.1h-1.1zM38.5,196.3h1.1v1.1h-1.1zM38.1,191.8h1.1v1.1h-1.1zM40.0,195.8h1.1v1.1h-1.1zM47.1,210.1h1.1v1.1h-1.1zM48.6,193.4h1.1v1.1h-1.1zM38.6,202.5h1.1v1.1h-1.1zM50.9,155.9h1.1v1.1h-1.1zM53.2,142.1h1.1v1.1h-1.1zM34.2,207.6h1.1v1.1h-1.1zM43.6,194.4h1.1v1.1h-1.1zM34.0,167.3h1.1v1.1h-1.1zM45.8,147.8h1.1v1.1h-1.1zM37.4,194.1h1.1v1.1h-1.1zM35.0,142.1h1.1v1.1h-1.1zM52.8,215.8h1.1v1.1h-1.1zM47.7,189.5h1.1v1.1h-1.1zM52.7,144.2h1.1v1.1h-1.1zM53.8,170.5h1.1v1.1h-1.1zM40.6,171.0h1.1v1.1h-1.1zM55.6,142.9h1.1v1.1h-1.1zM50.5,199.8h1.1v1.1h-1.1zM35.8,176.5h1.1v1.1h-1.1zM43.1,211.9h1.1v1.1h-1.1zM42.5,208.6h1.1v1.1h-1.1zM55.3,211.0h1.1v1.1h-1.1zM50.5,150.5h1.1v1.1h-1.1zM55.0,184.9h1.1v1.1h-1.1zM38.0,146.0h1.1v1.1h-1.1zM48.6,206.3h1.1v1.1h-1.1zM55.5,177.6h1.1v1.1h-1.1zM48.4,194.5h1.1v1.1h-1.1zM51.9,180.8h1.1v1.1h-1.1zM38.3,172.1h1.1v1.1h-1.1zM45.6,141.5h1.1v1.1h-1.1zM44.5,203.8h1.1v1.1h-1.1zM49.0,209.0h1.1v1.1h-1.1zM44.1,195.5h1.1v1.1h-1.1zM49.4,146.4h1.1v1.1h-1.1zM48.7,142.8h1.1v1.1h-1.1zM54.0,177.3h1.1v1.1h-1.1zM48.0,212.3h1.1v1.1h-1.1zM49.5,195.8h1.1v1.1h-1.1zM47.8,205.8h1.1v1.1h-1.1zM36.9,208.3h1.1v1.1h-1.1zM52.0,144.9h1.1v1.1h-1.1zM53.7,209.0h1.1v1.1h-1.1zM54.6,183.9h1.1v1.1h-1.1zM37.0,152.0h1.1v1.1h-1.1zM40.9,207.2h1.1v1.1h-1.1zM55.6,178.7h1.1v1.1h-1.1zM49.6,144.1h1.1v1.1h-1.1zM41.6,156.6h1.1v1.1h-1.1zM34.5,189.7h1.1v1.1h-1.1zM40.5,200.0h1.1v1.1h-1.1zM53.6,171.9h1.1v1.1h-1.1zM54.6,146.8h1.1v1.1h-1.1zM35.7,200.8h1.1v1.1h-1.1zM50.7,155.7h1.1v1.1h-1.1zM46.7,215.9h1.1v1.1h-1.1zM34.8,214.5h1.1v1.1h-1.1zM48.4,178.9h1.1v1.1h-1.1zM41.1,168.3h1.1v1.1h-1.1zM42.9,202.6h1.1v1.1h-1.1zM51.9,190.1h1.1v1.1h-1.1zM54.1,193.6h1.1v1.1h-1.1zM50.7,211.4h1.1v1.1h-1.1zM51.6,153.6h1.1v1.1h-1.1zM51.2,155.4h1.1v1.1h-1.1zM53.1,146.0h1.1v1.1h-1.1zM40.3,201.4h1.1v1.1h-1.1zM38.4,156.0h1.1v1.1h-1.1zM53.0,214.3h1.1v1.1h-1.1zM44.5,191.8h1.1v1.1h-1.1zM55.3,158.7h1.1v1.1h-1.1zM51.6,193.3h1.1v1.1h-1.1zM55.0,141.6h1.1v1.1h-1.1zM35.3,151.6h1.1v1.1h-1.1zM39.0,183.0h1.1v1.1h-1.1zM41.6,203.9h1.1v1.1h-1.1zM47.5,209.3h1.1v1.1h-1.1zM49.9,195.5h1.1v1.1h-1.1zM53.7,145.8h1.1v1.1h-1.1zM33.4,208.1h1.1v1.1h-1.1zM33.6,159.8h1.1v1.1h-1.1zM52.0,175.6h1.1v1.1h-1.1zM34.7,200.8h1.1v1.1h-1.1zM53.0,156.9h1.1v1.1h-1.1zM55.5,174.5h1.1v1.1h-1.1zM36.9,202.3h1.1v1.1h-1.1zM40.0,173.1h1.1v1.1h-1.1zM51.5,203.6h1.1v1.1h-1.1zM48.2,154.3h1.1v1.1h-1.1zM52.2,159.6h1.1v1.1h-1.1zM50.4,189.7h1.1v1.1h-1.1zM37.3,212.3h1.1v1.1h-1.1zM38.6,173.7h1.1v1.1h-1.1zM45.4,189.9h1.1v1.1h-1.1zM33.6,174.9h1.1v1.1h-1.1zM42.2,186.6h1.1v1.1h-1.1zM41.9,202.7h1.1v1.1h-1.1zM40.9,204.6h1.1v1.1h-1.1zM52.8,140.9h1.1v1.1h-1.1zM41.3,178.6h1.1v1.1h-1.1zM47.4,214.5h1.1v1.1h-1.1zM36.1,187.6h1.1v1.1h-1.1zM46.0,154.2h1.1v1.1h-1.1zM55.6,202.8h1.1v1.1h-1.1zM54.8,155.7h1.1v1.1h-1.1zM41.5,160.3h1.1v1.1h-1.1zM45.7,201.3h1.1v1.1h-1.1zM53.3,205.5h1.1v1.1h-1.1zM33.6,173.3h1.1v1.1h-1.1zM43.3,195.7h1.1v1.1h-1.1zM50.0,195.4h1.1v1.1h-1.1zM37.4,188.4h1.1v1.1h-1.1zM53.0,201.8h1.1v1.1h-1.1zM34.6,165.4h1.1v1.1h-1.1zM36.2,206.2h1.1v1.1h-1.1zM55.7,168.1h1.1v1.1h-1.1zM41.7,205.1h1.1v1.1h-1.1zM46.9,142.9h1.1v1.1h-1.1zM41.8,212.1h1.1v1.1h-1.1zM49.3,216.5h1.1v1.1h-1.1zM46.7,214.2h1.1v1.1h-1.1zM36.4,200.8h1.1v1.1h-1.1zM45.6,147.8h1.1v1.1h-1.1zM41.1,180.7h1.1v1.1h-1.1zM52.6,190.4h1.1v1.1h-1.1zM40.2,140.8h1.1v1.1h-1.1zM50.3,141.1h1.1v1.1h-1.1zM54.1,170.3h1.1v1.1h-1.1zM42.4,196.0h1.1v1.1h-1.1zM52.9,203.6h1.1v1.1h-1.1zM42.6,192.2h1.1v1.1h-1.1zM34.9,156.7h1.1v1.1h-1.1zM55.6,183.9h1.1v1.1h-1.1zM52.7,145.4h1.1v1.1h-1.1zM34.3,187.1h1.1v1.1h-1.1zM40.7,153.5h1.1v1.1h-1.1zM42.9,168.1h1.1v1.1h-1.1zM55.2,160.1h1.1v1.1h-1.1zM54.4,169.2h1.1v1.1h-1.1zM39.1,210.8h1.1v1.1h-1.1zM49.0,205.3h1.1v1.1h-1.1zM45.9,201.3h1.1v1.1h-1.1zM50.9,140.6h1.1v1.1h-1.1zM34.9,197.6h1.1v1.1h-1.1zM52.6,180.1h1.1v1.1h-1.1zM51.1,197.3h1.1v1.1h-1.1zM54.3,213.3h1.1v1.1h-1.1zM43.9,197.1h1.1v1.1h-1.1zM49.1,214.7h1.1v1.1h-1.1zM37.3,150.5h1.1v1.1h-1.1zM52.4,157.0h1.1v1.1h-1.1zM39.0,167.5h1.1v1.1h-1.1zM45.1,154.9h1.1v1.1h-1.1zM40.8,163.2h1.1v1.1h-1.1zM47.0,141.9h1.1v1.1h-1.1zM51.4,154.9h1.1v1.1h-1.1zM42.5,203.9h1.1v1.1h-1.1zM54.5,145.0h1.1v1.1h-1.1zM53.0,201.1h1.1v1.1h-1.1zM49.9,208.7h1.1v1.1h-1.1zM36.2,184.8h1.1v1.1h-1.1zM38.9,214.8h1.1v1.1h-1.1zM34.2,169.5h1.1v1.1h-1.1zM39.3,151.6h1.1v1.1h-1.1zM40.1,140.0h1.1v1.1h-1.1zM50.8,212.3h1.1v1.1h-1.1zM44.8,205.3h1.1v1.1h-1.1zM41.4,202.5h1.1v1.1h-1.1zM51.9,191.8h1.1v1.1h-1.1zM52.7,206.7h1.1v1.1h-1.1zM48.9,198.5h1.1v1.1h-1.1zM55.6,199.1h1.1v1.1h-1.1zM41.4,180.2h1.1v1.1h-1.1zM48.2,211.7h1.1v1.1h-1.1zM53.9,160.6h1.1v1.1h-1.1zM47.1,207.4h1.1v1.1h-1.1zM40.8,184.7h1.1v1.1h-1.1zM45.7,140.6h1.1v1.1h-1.1zM52.6,192.0h1.1v1.1h-1.1zM54.6,188.6h1.1v1.1h-1.1zM54.7,165.5h1.1v1.1h-1.1zM35.5,196.2h1.1v1.1h-1.1zM55.7,194.3h1.1v1.1h-1.1zM44.8,214.9h1.1v1.1h-1.1zM33.9,144.7h1.1v1.1h-1.1zM37.3,147.3h1.1v1.1h-1.1zM50.9,207.3h1.1v1.1h-1.1zM49.8,187.4h1.1v1.1h-1.1zM48.7,184.7h1.1v1.1h-1.1zM36.6,165.5h1.1v1.1h-1.1zM34.5,189.8h1.1v1.1h-1.1zM44.8,201.9h1.1v1.1h-1.1zM55.2,181.5h1.1v1.1h-1.1zM48.6,215.4h1.1v1.1h-1.1zM33.5,214.3h1.1v1.1h-1.1zM50.0,206.1h1.1v1.1h-1.1zM34.6,194.3h1.1v1.1h-1.1zM33.7,165.2h1.1v1.1h-1.1zM45.2,155.5h1.1v1.1h-1.1zM53.1,177.2h1.1v1.1h-1.1zM42.1,212.9h1.1v1.1h-1.1zM51.1,217.0h1.1v1.1h-1.1zM52.3,144.6h1.1v1.1h-1.1zM53.8,194.1h1.1v1.1h-1.1zM46.0,208.4h1.1v1.1h-1.1zM48.8,206.0h1.1v1.1h-1.1zM37.4,150.0h1.1v1.1h-1.1zM40.6,146.8h1.1v1.1h-1.1zM42.6,195.5h1.1v1.1h-1.1zM53.9,161.4h1.1v1.1h-1.1zM53.0,215.8h1.1v1.1h-1.1zM48.0,152.7h1.1v1.1h-1.1zM50.0,186.9h1.1v1.1h-1.1zM51.3,201.8h1.1v1.1h-1.1zM55.5,142.5h1.1v1.1h-1.1zM36.1,166.7h1.1v1.1h-1.1zM46.9,191.7h1.1v1.1h-1.1zM43.1,211.2h1.1v1.1h-1.1zM41.0,156.4h1.1v1.1h-1.1zM55.4,158.1h1.1v1.1h-1.1zM38.9,165.9h1.1v1.1h-1.1zM34.4,173.1h1.1v1.1h-1.1zM33.9,185.5h1.1v1.1h-1.1zM53.4,152.2h1.1v1.1h-1.1zM47.5,147.2h1.1v1.1h-1.1zM53.2,212.2h1.1v1.1h-1.1zM46.9,216.4h1.1v1.1h-1.1zM53.5,186.2h1.1v1.1h-1.1zM47.7,208.4h1.1v1.1h-1.1zM54.2,164.0h1.1v1.1h-1.1zM52.3,217.5h1.1v1.1h-1.1zM37.6,189.9h1.1v1.1h-1.1zM40.0,216.6h1.1v1.1h-1.1zM35.9,149.8h1.1v1.1h-1.1zM48.5,143.4h1.1v1.1h-1.1zM55.3,149.2h1.1v1.1h-1.1zM46.9,204.4h1.1v1.1h-1.1zM45.7,210.8h1.1v1.1h-1.1zM37.1,158.5h1.1v1.1h-1.1zM39.5,198.2h1.1v1.1h-1.1zM45.4,140.3h1.1v1.1h-1.1zM53.0,194.9h1.1v1.1h-1.1zM55.4,189.9h1.1v1.1h-1.1zM37.8,166.4h1.1v1.1h-1.1zM55.3,172.4h1.1v1.1h-1.1zM45.2,146.2h1.1v1.1h-1.1zM37.0,190.8h1.1v1.1h-1.1zM49.5,154.6h1.1v1.1h-1.1zM54.7,171.4h1.1v1.1h-1.1zM46.1,183.6h1.1v1.1h-1.1zM51.4,206.3h1.1v1.1h-1.1zM49.9,197.2h1.1v1.1h-1.1zM34.1,213.1h1.1v1.1h-1.1zM42.1,189.8h1.1v1.1h-1.1zM42.9,217.0h1.1v1.1h-1.1zM50.8,212.8h1.1v1.1h-1.1zM45.1,210.6h1.1v1.1h-1.1zM40.1,181.5h1.1v1.1h-1.1zM44.2,204.9h1.1v1.1h-1.1zM52.8,195.4h1.1v1.1h-1.1zM38.0,159.1h1.1v1.1h-1.1zM43.4,179.0h1.1v1.1h-1.1zM49.0,183.0h1.1v1.1h-1.1zM34.7,179.6h1.1v1.1h-1.1zM42.7,194.9h1.1v1.1h-1.1zM53.8,216.7h1.1v1.1h-1.1zM53.7,158.9h1.1v1.1h-1.1zM49.6,183.1h1.1v1.1h-1.1zM41.0,170.0h1.1v1.1h-1.1zM35.2,209.0h1.1v1.1h-1.1zM48.6,202.9h1.1v1.1h-1.1zM47.6,184.6h1.1v1.1h-1.1zM42.2,205.8h1.1v1.1h-1.1zM51.9,206.4h1.1v1.1h-1.1zM55.7,144.8h1.1v1.1h-1.1zM50.6,200.2h1.1v1.1h-1.1zM55.7,215.0h1.1v1.1h-1.1zM50.5,187.6h1.1v1.1h-1.1zM46.1,212.8h1.1v1.1h-1.1zM55.6,150.9h1.1v1.1h-1.1zM54.9,180.9h1.1v1.1h-1.1zM42.9,211.1h1.1v1.1h-1.1zM43.2,189.1h1.1v1.1h-1.1zM53.4,153.7h1.1v1.1h-1.1zM50.6,212.8h1.1v1.1h-1.1zM55.5,140.7h1.1v1.1h-1.1zM48.7,190.8h1.1v1.1h-1.1zM40.6,179.7h1.1v1.1h-1.1zM44.5,200.5h1.1v1.1h-1.1zM38.2,170.8h1.1v1.1h-1.1zM37.4,162.5h1.1v1.1h-1.1zM54.9,193.4h1.1v1.1h-1.1zM35.1,158.6h1.1v1.1h-1.1zM50.4,195.8h1.1v1.1h-1.1zM40.4,204.6h1.1v1.1h-1.1zM43.9,152.1h1.1v1.1h-1.1zM35.7,216.3h1.1v1.1h-1.1zM53.2,158.0h1.1v1.1h-1.1zM53.0,186.0h1.1v1.1h-1.1zM54.7,198.7h1.1v1.1h-1.1zM36.0,208.7h1.1v1.1h-1.1zM53.6,211.3h1.1v1.1h-1.1zM49.8,156.2h1.1v1.1h-1.1zM37.9,213.5h1.1v1.1h-1.1zM45.8,213.8h1.1v1.1h-1.1zM41.5,191.1h1.1v1.1h-1.1zM54.3,211.5h1.1v1.1h-1.1zM37.4,183.6h1.1v1.1h-1.1zM54.9,160.8h1.1v1.1h-1.1zM55.5,151.3h1.1v1.1h-1.1zM56.0,175.1h1.1v1.1h-1.1zM53.0,144.9h1.1v1.1h-1.1zM41.4,143.8h1.1v1.1h-1.1zM49.7,192.2h1.1v1.1h-1.1zM51.1,215.6h1.1v1.1h-1.1zM53.4,171.1h1.1v1.1h-1.1zM37.7,152.8h1.1v1.1h-1.1zM52.6,200.8h1.1v1.1h-1.1zM54.1,148.9h1.1v1.1h-1.1zM45.8,185.3h1.1v1.1h-1.1zM55.6,206.1h1.1v1.1h-1.1zM54.7,191.2h1.1v1.1h-1.1zM55.7,171.3h1.1v1.1h-1.1zM48.7,205.6h1.1v1.1h-1.1zM50.1,215.1h1.1v1.1h-1.1zM55.7,197.8h1.1v1.1h-1.1zM44.3,209.6h1.1v1.1h-1.1zM55.8,200.4h1.1v1.1h-1.1zM45.0,187.2h1.1v1.1h-1.1zM49.7,200.0h1.1v1.1h-1.1zM50.4,208.1h1.1v1.1h-1.1zM46.8,181.0h1.1v1.1h-1.1zM53.6,175.4h1.1v1.1h-1.1zM49.1,217.3h1.1v1.1h-1.1zM43.0,198.7h1.1v1.1h-1.1zM49.9,176.6h1.1v1.1h-1.1zM40.3,151.3h1.1v1.1h-1.1zM48.8,188.8h1.1v1.1h-1.1zM38.1,187.5h1.1v1.1h-1.1zM34.1,173.4h1.1v1.1h-1.1zM55.0,177.8h1.1v1.1h-1.1zM44.7,179.3h1.1v1.1h-1.1zM35.9,156.0h1.1v1.1h-1.1zM54.8,145.0h1.1v1.1h-1.1zM43.5,210.1h1.1v1.1h-1.1zM47.0,151.9h1.1v1.1h-1.1zM44.0,213.9h1.1v1.1h-1.1zM33.6,199.7h1.1v1.1h-1.1zM55.8,196.5h1.1v1.1h-1.1zM55.6,155.4h1.1v1.1h-1.1zM46.8,205.2h1.1v1.1h-1.1zM43.8,184.2h1.1v1.1h-1.1zM55.5,178.2h1.1v1.1h-1.1zM52.6,141.0h1.1v1.1h-1.1zM47.5,147.2h1.1v1.1h-1.1zM52.2,209.9h1.1v1.1h-1.1zM44.1,179.7h1.1v1.1h-1.1zM41.5,212.6h1.1v1.1h-1.1zM51.1,199.0h1.1v1.1h-1.1zM54.9,202.6h1.1v1.1h-1.1zM45.7,195.1h1.1v1.1h-1.1zM49.0,207.0h1.1v1.1h-1.1zM40.4,158.2h1.1v1.1h-1.1zM51.1,205.3h1.1v1.1h-1.1zM46.4,188.4h1.1v1.1h-1.1zM41.5,153.0h1.1v1.1h-1.1zM39.2,184.6h1.1v1.1h-1.1zM51.3,212.2h1.1v1.1h-1.1zM33.5,191.1h1.1v1.1h-1.1zM52.6,211.4h1.1v1.1h-1.1zM37.1,167.6h1.1v1.1h-1.1zM42.8,205.9h1.1v1.1h-1.1zM41.5,159.7h1.1v1.1h-1.1zM43.1,209.2h1.1v1.1h-1.1zM46.4,148.6h1.1v1.1h-1.1zM52.5,176.5h1.1v1.1h-1.1zM42.9,150.2h1.1v1.1h-1.1zM43.2,204.8h1.1v1.1h-1.1zM36.0,153.0h1.1v1.1h-1.1zM42.7,216.6h1.1v1.1h-1.1zM34.2,144.9h1.1v1.1h-1.1zM50.6,191.0h1.1v1.1h-1.1zM36.7,211.8h1.1v1.1h-1.1zM54.9,164.7h1.1v1.1h-1.1zM54.6,147.9h1.1v1.1h-1.1zM38.6,171.7h1.1v1.1h-1.1zM33.9,189.8h1.1v1.1h-1.1zM38.0,162.8h1.1v1.1h-1.1zM33.5,178.6h1.1v1.1h-1.1zM53.6,151.3h1.1v1.1h-1.1zM53.8,212.3h1.1v1.1h-1.1zM55.8,215.5h1.1v1.1h-1.1zM37.1,169.6h1.1v1.1h-1.1zM40.5,155.1h1.1v1.1h-1.1zM52.6,201.2h1.1v1.1h-1.1zM53.0,140.1h1.1v1.1h-1.1zM35.0,187.7h1.1v1.1h-1.1zM50.6,210.2h1.1v1.1h-1.1zM43.3,156.9h1.1v1.1h-1.1zM34.3,201.0h1.1v1.1h-1.1zM55.1,141.7h1.1v1.1h-1.1zM53.5,184.9h1.1v1.1h-1.1zM50.2,147.5h1.1v1.1h-1.1zM42.8,216.0h1.1v1.1h-1.1zM36.3,177.8h1.1v1.1h-1.1zM53.3,190.9h1.1v1.1h-1.1zM49.9,206.6h1.1v1.1h-1.1zM55.4,202.1h1.1v1.1h-1.1zM49.8,208.4h1.1v1.1h-1.1zM55.5,151.4h1.1v1.1h-1.1zM34.4,175.2h1.1v1.1h-1.1zM45.7,189.9h1.1v1.1h-1.1zM52.1,210.5h1.1v1.1h-1.1zM41.6,184.9h1.1v1.1h-1.1zM39.8,156.1h1.1v1.1h-1.1zM33.3,152.1h1.1v1.1h-1.1zM44.1,155.0h1.1v1.1h-1.1zM45.0,181.5h1.1v1.1h-1.1zM52.2,188.5h1.1v1.1h-1.1zM44.0,207.6h1.1v1.1h-1.1zM37.2,216.0h1.1v1.1h-1.1zM41.9,172.1h1.1v1.1h-1.1zM37.5,200.7h1.1v1.1h-1.1zM38.7,172.8h1.1v1.1h-1.1zM46.3,213.1h1.1v1.1h-1.1zM54.6,165.6h1.1v1.1h-1.1zM50.2,191.3h1.1v1.1h-1.1zM54.0,178.4h1.1v1.1h-1.1zM36.9,186.3h1.1v1.1h-1.1zM40.6,175.7h1.1v1.1h-1.1zM56.0,205.0h1.1v1.1h-1.1zM47.8,193.3h1.1v1.1h-1.1zM54.8,205.3h1.1v1.1h-1.1zM53.1,201.8h1.1v1.1h-1.1zM35.1,188.1h1.1v1.1h-1.1zM54.8,147.4h1.1v1.1h-1.1zM54.5,176.0h1.1v1.1h-1.1zM43.8,200.8h1.1v1.1h-1.1zM37.0,217.4h1.1v1.1h-1.1zM34.9,204.0h1.1v1.1h-1.1zM51.4,216.3h1.1v1.1h-1.1zM42.1,159.0h1.1v1.1h-1.1zM52.1,214.4h1.1v1.1h-1.1zM44.6,202.5h1.1v1.1h-1.1zM54.1,148.2h1.1v1.1h-1.1zM44.3,179.9h1.1v1.1h-1.1zM38.2,164.0h1.1v1.1h-1.1zM51.1,150.8h1.1v1.1h-1.1zM42.5,190.7h1.1v1.1h-1.1zM49.1,203.2h1.1v1.1h-1.1zM55.8,179.3h1.1v1.1h-1.1zM55.7,183.9h1.1v1.1h-1.1zM47.5,188.1h1.1v1.1h-1.1zM45.7,181.5h1.1v1.1h-1.1zM46.5,179.5h1.1v1.1h-1.1zM52.9,183.3h1.1v1.1h-1.1zM38.7,154.8h1.1v1.1h-1.1zM45.7,189.2h1.1v1.1h-1.1zM43.5,198.3h1.1v1.1h-1.1zM54.8,203.7h1.1v1.1h-1.1zM41.2,141.1h1.1v1.1h-1.1zM50.4,151.4h1.1v1.1h-1.1zM52.5,196.3h1.1v1.1h-1.1zM52.1,175.9h1.1v1.1h-1.1zM45.8,210.1h1.1v1.1h-1.1zM54.7,213.3h1.1v1.1h-1.1zM53.2,184.3h1.1v1.1h-1.1zM52.2,148.6h1.1v1.1h-1.1zM49.2,190.1h1.1v1.1h-1.1zM38.9,196.6h1.1v1.1h-1.1zM48.0,177.3h1.1v1.1h-1.1zM53.8,165.4h1.1v1.1h-1.1zM50.4,153.4h1.1v1.1h-1.1zM54.0,169.4h1.1v1.1h-1.1zM51.2,155.4h1.1v1.1h-1.1zM41.8,207.2h1.1v1.1h-1.1zM42.9,204.5h1.1v1.1h-1.1zM50.4,209.1h1.1v1.1h-1.1zM51.1,212.4h1.1v1.1h-1.1zM48.3,206.6h1.1v1.1h-1.1zM37.1,143.5h1.1v1.1h-1.1zM37.9,184.6h1.1v1.1h-1.1zM48.3,190.8h1.1v1.1h-1.1zM34.8,193.3h1.1v1.1h-1.1zM44.1,157.3h1.1v1.1h-1.1zM42.3,205.4h1.1v1.1h-1.1zM47.8,205.3h1.1v1.1h-1.1zM44.3,176.4h1.1v1.1h-1.1zM51.5,189.0h1.1v1.1h-1.1zM42.7,185.0h1.1v1.1h-1.1zM33.1,174.0h1.1v1.1h-1.1zM44.3,179.7h1.1v1.1h-1.1zM51.7,189.8h1.1v1.1h-1.1zM49.0,212.5h1.1v1.1h-1.1zM41.4,205.0h1.1v1.1h-1.1zM41.4,210.0h1.1v1.1h-1.1zM46.1,191.5h1.1v1.1h-1.1zM54.9,211.2h1.1v1.1h-1.1zM39.0,164.1h1.1v1.1h-1.1zM54.2,194.8h1.1v1.1h-1.1zM39.4,172.7h1.1v1.1h-1.1zM43.4,212.8h1.1v1.1h-1.1zM42.4,187.2h1.1v1.1h-1.1zM36.7,198.9h1.1v1.1h-1.1zM41.6,206.6h1.1v1.1h-1.1zM41.4,194.8h1.1v1.1h-1.1zM34.5,189.2h1.1v1.1h-1.1zM36.9,186.7h1.1v1.1h-1.1zM42.8,155.1h1.1v1.1h-1.1zM41.5,189.2h1.1v1.1h-1.1zM47.4,187.9h1.1v1.1h-1.1zM35.0,186.2h1.1v1.1h-1.1zM50.2,140.6h1.1v1.1h-1.1zM33.3,178.6h1.1v1.1h-1.1zM33.9,156.1h1.1v1.1h-1.1zM54.1,148.8h1.1v1.1h-1.1zM50.4,182.5h1.1v1.1h-1.1zM49.2,189.0h1.1v1.1h-1.1zM44.1,176.9h1.1v1.1h-1.1zM34.4,209.9h1.1v1.1h-1.1zM51.8,156.7h1.1v1.1h-1.1zM54.3,212.7h1.1v1.1h-1.1zM49.9,197.2h1.1v1.1h-1.1zM34.3,179.5h1.1v1.1h-1.1zM37.4,208.2h1.1v1.1h-1.1zM54.7,140.9h1.1v1.1h-1.1zM33.3,213.2h1.1v1.1h-1.1zM54.8,194.7h1.1v1.1h-1.1zM38.8,197.4h1.1v1.1h-1.1zM54.8,209.4h1.1v1.1h-1.1zM50.7,214.6h1.1v1.1h-1.1zM53.6,217.3h1.1v1.1h-1.1zM44.9,155.7h1.1v1.1h-1.1zM49.1,188.9h1.1v1.1h-1.1zM39.6,214.8h1.1v1.1h-1.1zM47.7,194.1h1.1v1.1h-1.1zM55.8,195.8h1.1v1.1h-1.1zM47.4,182.6h1.1v1.1h-1.1zM53.5,183.1h1.1v1.1h-1.1zM45.1,153.0h1.1v1.1h-1.1zM52.6,202.9h1.1v1.1h-1.1zM44.1,176.7h1.1v1.1h-1.1zM44.4,201.8h1.1v1.1h-1.1zM43.0,142.0h1.1v1.1h-1.1zM40.3,213.7h1.1v1.1h-1.1zM43.0,142.8h1.1v1.1h-1.1zM49.9,213.5h1.1v1.1h-1.1zM49.6,195.9h1.1v1.1h-1.1zM53.0,188.9h1.1v1.1h-1.1zM55.9,180.1h1.1v1.1h-1.1zM52.3,200.8h1.1v1.1h-1.1zM41.1,211.1h1.1v1.1h-1.1zM52.5,209.0h1.1v1.1h-1.1z" fill="#000"/>
<path d="M56,217 C58,212 86,211.5 89,217 Z" fill="#111"/>
<path d="M62,215.5 C70,213.5 80,213.5 86,215.5" fill="none" stroke="#bbb" stroke-width="0.8"/>
<rect x="25.3" y="73.3" width="145.10" height="144.60" fill="none" stroke="#000" stroke-width="1.7"/>
<rect x="54.5" y="147.2" width="43.50" height="70.70" fill="none" stroke="#000" stroke-width="1.7"/>
<text transform="translate(17.4,147.2) rotate(-90)" font-size="14.8" text-anchor="middle" textLength="37.5" lengthAdjust="spacingAndGlyphs" fill="#000">CD25</text>
<text x="87.7" y="235.2" font-size="14.3" text-anchor="middle" textLength="28.2" lengthAdjust="spacingAndGlyphs" fill="#000">CD4</text>
<line x1="107.50" y1="196.50" x2="196.00" y2="191.90" stroke="#666" stroke-width="1.0"/>
<path d="M207.90,191.20 L190.82,186.39 L193.52,191.96 L191.42,197.78 Z" fill="#000" stroke="#000" stroke-width="0.3" stroke-linejoin="round"/>
<text x="248.5" y="66.2" font-size="15.3" textLength="31.5" lengthAdjust="spacingAndGlyphs" fill="#000">CD4</text>
<text x="282.7" y="60.8" font-size="11.5" text-anchor="middle" fill="#000">+</text>
<text x="287.0" y="66.2" font-size="15.3" textLength="34.8" lengthAdjust="spacingAndGlyphs" fill="#000">CD25</text>
<line x1="323.00" y1="57.60" x2="328.00" y2="57.60" stroke="#000" stroke-width="1.1"/>
<path d="M220.5,142.0 221.0,141.7 221.4,141.5 222.0,141.2 222.4,141.0 223.0,140.7 223.5,140.5 224.0,140.3 224.5,140.1 225.0,139.8 225.5,139.6 225.8,139.5 226.5,139.2 227.0,139.0 227.5,138.9 228.0,138.7 228.5,138.5 229.0,138.3 229.5,138.1 230.0,138.0 230.5,137.8 231.0,137.7 231.5,137.5 232.0,137.3 232.5,137.2 233.0,137.0 233.5,136.9 234.0,136.8 234.5,136.6 234.9,136.5 235.5,136.3 236.0,136.2 236.5,136.1 236.9,136.0 237.5,135.8 238.0,135.7 238.5,135.6 239.0,135.5 239.5,135.4 240.0,135.3 240.5,135.2 241.0,135.0 241.5,134.9 242.0,134.8 242.5,134.7 243.0,134.6 243.5,134.5 244.0,134.5 244.5,134.4 245.0,134.3 245.5,134.2 246.0,134.1 246.5,134.0 247.0,133.9 247.5,133.9 248.0,133.8 248.5,133.7 249.0,133.6 249.5,133.6 249.9,133.5 250.5,133.4 251.0,133.3 251.5,133.3 252.0,133.2 252.5,133.2 253.0,133.1 253.5,133.0 253.8,133.0 254.5,132.9 255.0,132.9 255.5,132.8 256.0,132.8 256.5,132.7 257.0,132.7 257.5,132.6 258.0,132.6 258.5,132.5 258.9,132.5 259.5,132.4 260.0,132.4 260.5,132.4 261.0,132.3 261.5,132.3 262.0,132.3 262.5,132.2 263.0,132.2 263.5,132.2 264.0,132.2 264.5,132.1 265.0,132.1 265.5,132.1 266.0,132.1 266.5,132.0 267.0,132.0 267.5,132.0 268.0,132.0 268.3,132.0 269.0,132.0 269.5,132.0 270.0,132.0 270.5,132.0 271.0,132.0 271.5,132.0 272.0,132.0 272.5,132.0 273.0,132.0 273.5,132.0 274.0,132.0 274.5,132.0 275.0,132.0 275.5,132.1 276.0,132.1 276.5,132.1 277.0,132.1 277.5,132.2 278.0,132.2 278.5,132.2 279.0,132.3 279.5,132.3 280.0,132.4 280.5,132.4 281.0,132.5 281.4,132.5 282.0,132.6 282.5,132.6 283.0,132.7 283.5,132.8 284.0,132.8 284.5,132.9 285.0,133.0 285.5,133.1 286.0,133.2 286.5,133.3 287.0,133.4 287.5,133.5 288.0,133.6 288.5,133.7 289.0,133.8 289.5,133.9 289.9,134.0 290.5,134.2 291.0,134.3 291.5,134.4 292.0,134.6 292.5,134.8 293.0,134.9 293.5,135.1 294.0,135.3 294.5,135.5 295.0,135.7 295.5,135.9 295.8,136.0 296.5,136.3 296.9,136.5 297.5,136.8 297.9,137.0 298.5,137.3 299.0,137.7 299.5,138.0 300.0,138.3 300.2,138.5 300.5,138.7 300.9,139.0 301.4,139.5 301.9,140.0 302.4,140.5 302.7,141.0 303.0,141.4 303.4,142.0 303.5,142.3 303.8,143.0 303.9,143.5 304.0,143.9 304.1,144.5 304.1,145.0 304.1,145.5 304.1,146.0 304.1,146.5 304.0,146.8 303.9,147.5 303.8,148.0 303.6,148.5 303.5,149.0 303.4,149.5 303.2,150.0 303.1,150.5 303.0,151.0 302.9,151.5 302.9,152.0 302.8,152.5 302.8,153.0 302.9,153.5 303.0,153.9 303.2,154.5 303.4,155.0 303.6,155.5 303.9,156.0 304.2,156.5 304.5,156.9 305.0,157.5 305.4,158.0 305.9,158.5 306.3,159.0 306.8,159.5 307.3,160.0 307.8,160.5 308.3,161.0 308.9,161.5 309.4,162.0 309.9,162.5 310.4,163.0 310.8,163.5 311.3,164.0 311.7,164.5 312.0,164.8 312.5,165.4 313.0,166.0 313.4,166.5 313.8,167.0 314.0,167.3 314.5,168.0 314.8,168.5 315.0,168.8 315.4,169.5 315.7,170.0 316.0,170.5 316.3,171.0 316.5,171.5 316.8,172.0 317.0,172.5 317.2,173.0 317.4,173.5 317.7,174.0 317.9,174.5 318.0,174.9 318.2,175.5 318.4,176.0 318.5,176.3 318.7,177.0 318.9,177.5 319.0,178.0 319.1,178.5 319.2,179.0 319.4,179.5 319.5,180.0 319.6,180.5 319.7,181.0 319.7,181.5 319.8,182.0 319.9,182.5 319.9,183.0 320.0,183.5 320.0,184.0 320.1,184.5 320.1,185.0 320.2,185.5 320.2,186.0 320.2,186.5 320.2,187.0 320.2,187.5 320.2,188.0 320.2,188.5 320.1,189.0 320.1,189.5 320.1,190.0 320.0,190.5 320.0,190.8 319.9,191.5 319.9,192.0 319.8,192.5 319.7,193.0 319.6,193.5 319.5,194.0 319.4,194.5 319.3,195.0 319.2,195.5 319.1,196.0 318.9,196.5 318.8,197.0 318.6,197.5 318.5,197.9 318.3,198.5 318.1,199.0 317.9,199.5 317.7,200.0 317.5,200.3 317.2,201.0 317.0,201.3 316.6,202.0 316.3,202.5 316.0,202.9 315.5,203.5 315.1,204.0 314.6,204.5 314.1,205.0 313.5,205.5 313.0,205.8 312.7,206.0 312.0,206.4 311.7,206.5 311.0,206.8 310.5,206.9 310.1,207.0 309.5,207.1 309.0,207.2 308.5,207.2 308.0,207.3 307.5,207.3 307.0,207.3 306.5,207.2 306.0,207.2 305.5,207.1 305.0,207.1 304.7,207.0 304.0,206.9 303.5,206.8 303.0,206.6 302.6,206.5 302.0,206.3 301.5,206.1 301.2,206.0 300.5,205.7 300.1,205.5 299.5,205.2 299.1,205.0 298.5,204.6 298.0,204.3 297.5,204.0 297.0,203.6 296.5,203.2 296.2,203.0 295.7,202.5 295.1,202.0 294.6,201.5 294.2,201.0 293.7,200.5 293.5,200.2 293.3,200.0 293.0,199.6 292.6,199.0 292.2,198.5 292.0,198.2 291.6,197.5 291.3,197.0 291.0,196.6 290.7,196.0 290.5,195.6 290.2,195.0 290.0,194.6 289.7,194.0 289.5,193.5 289.3,193.0 289.1,192.5 289.0,192.1 288.8,191.5 288.6,191.0 288.5,190.6 288.3,190.0 288.2,189.5 288.1,189.0 288.0,188.7 287.8,188.0 287.7,187.5 287.6,187.0 287.6,186.5 287.5,186.1 287.4,185.5 287.3,185.0 287.3,184.5 287.2,184.0 287.2,183.5 287.2,183.0 287.1,182.5 287.1,182.0 287.1,181.5 287.1,181.0 287.1,180.5 287.1,180.0 287.1,179.5 287.1,179.0 287.2,178.5 287.2,178.0 287.2,177.5 287.3,177.0 287.3,176.5 287.4,176.0 287.4,175.5 287.5,175.1 287.6,174.5 287.7,174.0 287.7,173.5 287.8,173.0 287.9,172.5 288.0,172.0 288.1,171.5 288.2,171.0 288.3,170.5 288.4,170.0 288.5,169.5 288.6,169.0 288.7,168.5 288.7,168.0 288.8,167.5 288.9,167.0 288.9,166.5 289.0,166.0 289.0,165.6 289.0,165.0 289.0,164.5 289.0,164.0 289.0,163.5 288.9,163.0 288.9,162.5 288.8,162.0 288.7,161.5 288.5,161.0 288.3,160.5 288.1,160.0 287.7,159.5 287.2,159.0 286.5,158.6 286.0,158.4 285.5,158.3 285.0,158.1 284.5,158.1 284.0,158.0 283.5,158.0 283.0,158.0 282.5,157.9 282.0,158.0 281.5,158.0 281.0,158.0 280.5,158.0 280.0,158.1 279.5,158.1 279.0,158.1 278.5,158.2 278.0,158.3 277.5,158.3 277.0,158.4 276.5,158.4 276.1,158.5 275.5,158.6 275.0,158.7 274.5,158.8 274.0,158.8 273.5,158.9 273.0,159.0 272.5,159.1 272.0,159.2 271.5,159.3 271.0,159.4 270.5,159.5 270.0,159.6 269.5,159.7 269.0,159.8 268.5,159.9 268.1,160.0 267.5,160.1 267.0,160.3 266.5,160.4 266.0,160.5 265.5,160.6 265.0,160.7 264.5,160.9 264.0,161.0 263.5,161.1 263.0,161.2 262.5,161.4 262.0,161.5 261.5,161.6 261.0,161.8 260.5,161.9 260.1,162.0 259.5,162.2 259.0,162.3 258.5,162.4 258.2,162.5 257.5,162.7 257.0,162.8 256.5,162.9 256.0,163.1 255.5,163.2 255.0,163.3 254.5,163.4 254.0,163.6 253.5,163.7 253.0,163.8 252.5,163.9 252.1,164.0 251.5,164.1 251.0,164.3 250.5,164.4 250.0,164.5 249.5,164.6 249.0,164.7 248.5,164.8 248.0,164.9 247.5,164.9 247.2,165.0 246.5,165.1 246.0,165.2 245.5,165.3 245.0,165.4 244.5,165.4 244.0,165.5 243.5,165.6 243.0,165.6 242.5,165.7 242.0,165.8 241.5,165.8 241.0,165.9 240.5,165.9 240.0,166.0 239.5,166.0 239.0,166.0 238.5,166.1 238.0,166.1 237.5,166.1 237.0,166.2 236.5,166.2 236.0,166.2 235.5,166.2 235.0,166.2 234.5,166.2 234.0,166.2 233.5,166.2 233.0,166.2 232.5,166.2 232.0,166.2 231.5,166.2 231.0,166.1 230.5,166.1 230.0,166.1 229.5,166.0 229.1,166.0 228.5,166.0 228.0,165.9 227.5,165.8 227.0,165.8 226.5,165.7 226.0,165.7 225.5,165.6 225.1,165.5 224.5,165.4 224.0,165.3 223.5,165.2 223.0,165.1 222.5,165.0 222.0,164.9 221.5,164.7 221.0,164.6 220.6,164.5 M220.5,143.5 221.0,143.2 221.4,143.0 222.0,142.7 222.3,142.5 223.0,142.2 223.3,142.0 224.0,141.7 224.4,141.5 225.0,141.2 225.5,141.0 226.0,140.8 226.5,140.6 227.0,140.3 227.5,140.1 227.9,140.0 228.5,139.8 229.0,139.6 229.5,139.4 230.0,139.2 230.5,139.0 231.0,138.9 231.5,138.7 232.0,138.5 232.5,138.4 233.0,138.2 233.5,138.1 234.0,137.9 234.5,137.7 235.0,137.6 235.4,137.5 236.0,137.3 236.5,137.2 237.0,137.1 237.5,136.9 238.0,136.8 238.5,136.7 239.0,136.5 239.5,136.4 240.0,136.3 240.5,136.2 241.0,136.1 241.4,136.0 242.0,135.9 242.5,135.8 243.0,135.6 243.5,135.6 244.0,135.5 244.5,135.4 245.0,135.3 245.5,135.2 246.0,135.1 246.4,135.0 247.0,134.9 247.5,134.8 248.0,134.7 248.5,134.6 249.0,134.6 249.4,134.5 250.0,134.4 250.5,134.3 251.0,134.3 251.5,134.2 252.0,134.1 252.5,134.1 253.0,134.0 253.5,133.9 254.0,133.9 254.5,133.8 255.0,133.7 255.5,133.7 256.0,133.6 256.5,133.6 257.0,133.5 257.4,133.5 258.0,133.4 258.5,133.4 259.0,133.3 259.5,133.3 260.0,133.3 260.5,133.2 261.0,133.2 261.5,133.1 262.0,133.1 262.5,133.1 263.0,133.0 263.5,133.0 264.0,133.0 264.5,133.0 265.0,132.9 265.5,132.9 266.0,132.9 266.5,132.9 267.0,132.8 267.5,132.8 268.0,132.8 268.5,132.8 269.0,132.8 269.5,132.8 270.0,132.8 270.5,132.8 271.0,132.8 271.5,132.8 272.0,132.8 272.5,132.8 273.0,132.8 273.5,132.8 274.0,132.8 274.5,132.8 275.0,132.8 275.5,132.8 276.0,132.9 276.5,132.9 277.0,132.9 277.5,133.0 278.0,133.0 278.5,133.0 279.0,133.1 279.5,133.1 280.0,133.2 280.5,133.2 281.0,133.3 281.5,133.3 282.0,133.4 282.5,133.5 282.8,133.5 283.5,133.6 284.0,133.7 284.5,133.8 285.0,133.8 285.5,133.9 285.8,134.0 286.5,134.1 287.0,134.2 287.5,134.4 288.0,134.5 288.5,134.6 289.0,134.7 289.5,134.9 290.0,135.0 290.5,135.2 291.0,135.3 291.5,135.5 292.0,135.7 292.5,135.8 292.9,136.0 293.5,136.2 294.0,136.4 294.5,136.7 295.0,136.9 295.5,137.1 296.0,137.4 296.5,137.7 297.0,138.0 297.5,138.3 297.8,138.5 298.4,139.0 299.0,139.5 299.5,139.9 300.0,140.5 300.4,141.0 300.8,141.5 301.0,141.9 301.3,142.5 301.5,143.0 301.6,143.5 301.7,144.0 301.8,144.5 301.8,145.0 301.8,145.5 301.7,146.0 301.6,146.5 301.5,147.0 301.3,147.5 301.2,148.0 301.0,148.5 300.8,149.0 300.6,149.5 300.3,150.0 300.1,150.5 299.9,151.0 299.7,151.5 299.5,152.0 299.4,152.5 299.3,153.0 299.3,153.5 299.3,154.0 299.5,154.5 299.7,155.0 300.0,155.4 300.4,156.0 300.8,156.5 301.0,156.8 301.5,157.4 302.0,158.0 302.5,158.5 303.0,159.0 303.5,159.5 304.0,159.9 304.5,160.3 305.0,160.7 305.3,161.0 306.0,161.5 306.5,161.9 307.0,162.3 307.2,162.5 307.5,162.7 307.9,163.0 308.5,163.5 309.0,164.0 309.5,164.4 310.0,164.9 310.5,165.4 311.0,165.9 311.5,166.4 312.0,167.0 312.4,167.5 312.8,168.0 313.2,168.5 313.5,168.9 313.9,169.5 314.2,170.0 314.5,170.4 314.9,171.0 315.1,171.5 315.4,172.0 315.7,172.5 315.9,173.0 316.2,173.5 316.4,174.0 316.6,174.5 316.8,175.0 317.0,175.5 317.2,176.0 317.4,176.5 317.5,176.9 317.7,177.5 317.8,178.0 318.0,178.5 318.1,179.0 318.2,179.5 318.3,180.0 318.4,180.5 318.5,180.8 318.6,181.5 318.7,182.0 318.8,182.5 318.9,183.0 318.9,183.5 319.0,184.0 319.0,184.4 319.0,185.0 319.1,185.5 319.1,186.0 319.1,186.5 319.1,187.0 319.1,187.5 319.1,188.0 319.1,188.5 319.1,189.0 319.1,189.5 319.0,190.0 319.0,190.5 318.9,191.0 318.9,191.5 318.8,192.0 318.7,192.5 318.7,193.0 318.6,193.5 318.5,193.8 318.4,194.5 318.3,195.0 318.1,195.5 318.0,195.9 317.8,196.5 317.7,197.0 317.5,197.5 317.3,198.0 317.1,198.5 317.0,198.8 316.7,199.5 316.5,199.9 316.2,200.5 316.0,200.8 315.6,201.5 315.2,202.0 315.0,202.3 314.5,202.9 314.0,203.4 313.5,203.8 313.0,204.2 312.6,204.5 312.0,204.8 311.6,205.0 311.0,205.3 310.5,205.4 310.1,205.5 309.5,205.6 309.0,205.7 308.5,205.7 308.0,205.8 307.5,205.8 307.0,205.8 306.5,205.7 306.0,205.7 305.5,205.6 305.0,205.5 304.5,205.4 304.0,205.3 303.5,205.2 303.0,205.0 302.5,204.9 302.0,204.7 301.5,204.5 301.0,204.3 300.5,204.1 300.0,203.8 299.5,203.5 299.0,203.2 298.6,203.0 298.0,202.6 297.5,202.2 297.2,202.0 296.6,201.5 296.1,201.0 295.5,200.5 295.1,200.0 294.6,199.5 294.2,199.0 294.0,198.8 293.8,198.5 293.5,198.1 293.1,197.5 292.7,197.0 292.5,196.6 292.1,196.0 291.8,195.5 291.6,195.0 291.3,194.5 291.1,194.0 290.9,193.5 290.6,193.0 290.5,192.7 290.2,192.0 290.1,191.5 289.9,191.0 289.7,190.5 289.6,190.0 289.4,189.5 289.3,189.0 289.2,188.5 289.1,188.0 289.0,187.7 288.9,187.0 288.8,186.5 288.7,186.0 288.6,185.5 288.6,185.0 288.5,184.5 288.5,184.0 288.4,183.5 288.4,183.0 288.4,182.5 288.3,182.0 288.3,181.5 288.3,181.0 288.3,180.5 288.4,180.0 288.4,179.5 288.4,179.0 288.4,178.5 288.5,178.0 288.5,177.5 288.6,177.0 288.7,176.5 288.7,176.0 288.8,175.5 288.9,175.0 289.0,174.5 289.1,174.0 289.2,173.5 289.3,173.0 289.4,172.5 289.5,172.2 289.7,171.5 289.8,171.0 289.9,170.5 290.1,170.0 290.2,169.5 290.3,169.0 290.5,168.5 290.6,168.0 290.7,167.5 290.8,167.0 290.9,166.5 291.0,166.1 291.1,165.5 291.1,165.0 291.2,164.5 291.2,164.0 291.2,163.5 291.2,163.0 291.2,162.5 291.2,162.0 291.1,161.5 291.1,161.0 291.0,160.5 291.0,160.1 290.9,159.5 290.8,159.0 290.7,158.5 290.5,158.0 290.2,157.5 290.0,157.3 289.7,157.0 289.0,156.7 288.5,156.5 288.0,156.4 287.5,156.4 287.0,156.3 286.5,156.3 286.0,156.3 285.5,156.3 285.0,156.3 284.5,156.3 284.0,156.3 283.5,156.4 283.0,156.4 282.5,156.5 282.1,156.5 281.5,156.6 281.0,156.6 280.5,156.7 280.0,156.8 279.5,156.8 279.0,156.9 278.5,157.0 278.2,157.0 277.5,157.1 277.0,157.2 276.5,157.3 276.0,157.3 275.5,157.4 275.0,157.5 274.5,157.6 274.0,157.7 273.5,157.8 273.0,157.9 272.5,158.0 272.0,158.0 271.5,158.1 271.0,158.2 270.5,158.3 270.0,158.4 269.5,158.5 269.0,158.7 268.5,158.8 268.0,158.9 267.5,159.0 267.0,159.1 266.5,159.2 266.0,159.3 265.5,159.4 265.0,159.6 264.5,159.7 264.0,159.8 263.5,159.9 263.0,160.1 262.5,160.2 262.0,160.3 261.5,160.5 261.0,160.6 260.5,160.7 260.0,160.9 259.5,161.0 259.0,161.1 258.5,161.3 258.0,161.4 257.6,161.5 257.0,161.7 256.5,161.8 256.0,161.9 255.7,162.0 255.0,162.2 254.5,162.3 254.0,162.4 253.5,162.6 253.0,162.7 252.5,162.8 252.0,162.9 251.7,163.0 251.0,163.2 250.5,163.3 250.0,163.4 249.5,163.5 249.0,163.6 248.5,163.7 248.0,163.8 247.5,163.9 247.0,164.0 246.5,164.1 246.0,164.2 245.5,164.2 245.0,164.3 244.5,164.4 244.0,164.5 243.5,164.5 243.0,164.6 242.5,164.7 242.0,164.7 241.5,164.8 241.0,164.8 240.5,164.9 240.0,164.9 239.5,165.0 239.0,165.0 238.5,165.0 238.0,165.1 237.5,165.1 237.0,165.1 236.5,165.1 236.0,165.1 235.5,165.2 235.0,165.2 234.5,165.2 234.0,165.2 233.5,165.2 233.0,165.1 232.5,165.1 232.0,165.1 231.5,165.1 231.0,165.1 230.5,165.0 230.0,165.0 229.5,164.9 229.0,164.9 228.5,164.8 228.0,164.8 227.5,164.7 227.0,164.6 226.5,164.6 226.1,164.5 225.5,164.4 225.0,164.3 224.5,164.2 224.0,164.1 223.6,164.0 223.0,163.8 222.5,163.7 222.0,163.6 221.5,163.4 221.0,163.3 220.5,163.1 M220.5,145.2 220.9,145.0 221.5,144.6 222.0,144.3 222.5,144.0 223.0,143.7 223.4,143.5 224.0,143.2 224.3,143.0 225.0,142.6 225.3,142.5 226.0,142.2 226.4,142.0 227.0,141.7 227.5,141.5 228.0,141.3 228.5,141.1 229.0,140.9 229.5,140.7 230.0,140.5 230.5,140.3 231.0,140.1 231.3,140.0 232.0,139.7 232.5,139.6 233.0,139.4 233.5,139.2 234.0,139.1 234.5,138.9 235.0,138.8 235.5,138.6 235.9,138.5 236.5,138.3 237.0,138.2 237.5,138.0 238.0,137.9 238.5,137.8 239.0,137.6 239.5,137.5 240.0,137.4 240.5,137.3 241.0,137.1 241.5,137.0 242.0,136.9 242.5,136.8 243.0,136.7 243.5,136.6 243.9,136.5 244.5,136.4 245.0,136.3 245.5,136.2 246.0,136.1 246.3,136.0 247.0,135.9 247.5,135.8 248.0,135.7 248.5,135.6 249.0,135.5 249.5,135.4 250.0,135.4 250.5,135.3 251.0,135.2 251.5,135.1 252.0,135.0 252.3,135.0 253.0,134.9 253.5,134.8 254.0,134.8 254.5,134.7 255.0,134.6 255.5,134.6 256.0,134.5 256.5,134.5 257.0,134.4 257.5,134.4 258.0,134.3 258.5,134.2 259.0,134.2 259.5,134.2 260.0,134.1 260.5,134.1 261.0,134.0 261.3,134.0 262.0,133.9 262.5,133.9 263.0,133.9 263.5,133.8 264.0,133.8 264.5,133.8 265.0,133.7 265.5,133.7 266.0,133.7 266.5,133.7 267.0,133.6 267.5,133.6 268.0,133.6 268.5,133.6 269.0,133.6 269.5,133.6 270.0,133.6 270.5,133.6 271.0,133.6 271.5,133.5 272.0,133.5 272.5,133.6 273.0,133.6 273.5,133.6 274.0,133.6 274.5,133.6 275.0,133.6 275.5,133.6 276.0,133.6 276.5,133.7 277.0,133.7 277.5,133.7 278.0,133.8 278.5,133.8 279.0,133.8 279.5,133.9 280.0,134.0 280.4,134.0 281.0,134.1 281.5,134.1 282.0,134.2 282.5,134.3 283.0,134.3 283.5,134.4 283.9,134.5 284.5,134.6 285.0,134.7 285.5,134.8 286.0,134.9 286.4,135.0 287.0,135.1 287.5,135.3 288.0,135.4 288.3,135.5 289.0,135.7 289.5,135.8 290.0,136.0 290.5,136.2 291.0,136.4 291.4,136.5 292.0,136.8 292.5,137.0 293.0,137.2 293.5,137.4 294.0,137.7 294.5,138.0 295.0,138.3 295.4,138.5 296.0,138.9 296.5,139.3 297.0,139.7 297.3,140.0 297.5,140.2 297.8,140.5 298.0,140.8 298.5,141.4 298.8,142.0 299.0,142.4 299.3,143.0 299.4,143.5 299.5,144.0 299.5,144.4 299.5,144.7 299.4,145.5 299.3,146.0 299.2,146.5 299.0,147.0 298.8,147.5 298.6,148.0 298.3,148.5 298.0,148.9 297.6,149.5 297.2,150.0 297.0,150.3 296.8,150.5 296.5,150.8 296.0,151.3 295.5,151.8 295.0,152.2 294.6,152.5 294.0,152.9 293.5,153.2 293.0,153.4 292.6,153.5 292.0,153.7 291.5,153.8 291.0,153.9 290.5,154.0 290.0,154.1 289.5,154.1 289.0,154.2 288.5,154.3 288.0,154.3 287.5,154.4 287.0,154.5 286.5,154.5 286.0,154.6 285.5,154.7 285.0,154.8 284.5,154.8 284.0,154.9 283.5,155.0 283.0,155.1 282.5,155.2 282.0,155.2 281.5,155.3 281.0,155.4 280.5,155.5 280.0,155.6 279.5,155.6 279.0,155.7 278.5,155.8 278.0,155.9 277.5,156.0 277.0,156.1 276.5,156.1 276.0,156.2 275.5,156.3 275.0,156.4 274.5,156.5 274.0,156.6 273.5,156.7 273.0,156.8 272.5,156.9 272.0,156.9 271.7,157.0 271.0,157.1 270.5,157.2 270.0,157.3 269.5,157.4 269.1,157.5 268.5,157.6 268.0,157.7 267.5,157.9 267.0,158.0 266.5,158.1 266.0,158.2 265.5,158.3 265.0,158.4 264.6,158.5 264.0,158.7 263.5,158.8 263.0,158.9 262.6,159.0 262.0,159.2 261.5,159.3 261.0,159.4 260.7,159.5 260.0,159.7 259.5,159.8 259.0,159.9 258.5,160.1 258.0,160.2 257.5,160.4 257.0,160.5 256.5,160.6 256.0,160.8 255.5,160.9 255.1,161.0 254.5,161.2 254.0,161.3 253.5,161.4 253.2,161.5 252.5,161.7 252.0,161.8 251.5,161.9 251.2,162.0 250.5,162.2 250.0,162.3 249.5,162.4 249.0,162.5 248.5,162.6 248.0,162.7 247.5,162.8 247.0,162.9 246.5,163.0 246.0,163.1 245.5,163.2 245.0,163.3 244.5,163.3 244.0,163.4 243.5,163.5 243.0,163.6 242.5,163.6 242.0,163.7 241.5,163.7 241.0,163.8 240.5,163.8 240.0,163.9 239.5,163.9 239.0,164.0 238.5,164.0 238.0,164.0 237.5,164.1 237.0,164.1 236.5,164.1 236.0,164.1 235.5,164.1 235.0,164.1 234.5,164.1 234.0,164.1 233.5,164.1 233.0,164.1 232.5,164.1 232.0,164.0 231.5,164.0 231.0,164.0 230.5,163.9 230.0,163.9 229.5,163.8 229.0,163.8 228.5,163.7 228.0,163.6 227.5,163.6 227.1,163.5 226.5,163.4 226.0,163.3 225.5,163.2 225.0,163.1 224.7,163.0 224.0,162.8 223.5,162.7 223.0,162.5 222.5,162.4 222.0,162.2 221.5,162.0 221.0,161.8 220.5,161.6 M310.0,204.1 309.5,204.2 309.0,204.2 308.5,204.3 308.0,204.3 307.5,204.3 307.0,204.3 306.5,204.2 306.0,204.2 305.5,204.1 305.1,204.0 304.5,203.9 304.0,203.8 303.5,203.6 303.1,203.5 302.5,203.3 302.0,203.1 301.5,202.9 301.0,202.7 300.7,202.5 300.0,202.1 299.5,201.8 299.0,201.5 298.5,201.2 298.2,201.0 298.0,200.8 297.6,200.5 297.0,200.0 296.5,199.5 296.0,199.0 295.5,198.5 295.1,198.0 294.7,197.5 294.3,197.0 294.0,196.6 293.6,196.0 293.3,195.5 293.0,195.0 292.7,194.5 292.5,194.1 292.2,193.5 292.0,193.0 291.8,192.5 291.5,192.0 291.3,191.5 291.2,191.0 291.0,190.5 290.8,190.0 290.7,189.5 290.5,189.0 290.4,188.5 290.3,188.0 290.2,187.5 290.1,187.0 290.0,186.6 289.9,186.0 289.8,185.5 289.8,185.0 289.7,184.5 289.7,184.0 289.6,183.5 289.6,183.0 289.6,182.5 289.6,182.0 289.6,181.5 289.6,181.0 289.6,180.5 289.6,180.0 289.6,179.5 289.7,179.0 289.7,178.5 289.8,178.0 289.8,177.5 289.9,177.0 290.0,176.5 290.1,176.0 290.2,175.5 290.3,175.0 290.4,174.5 290.5,174.2 290.7,173.5 290.8,173.0 291.0,172.5 291.1,172.0 291.3,171.5 291.5,171.0 291.6,170.5 291.8,170.0 292.0,169.5 292.2,169.0 292.4,168.5 292.5,168.2 292.8,167.5 292.9,167.0 293.1,166.5 293.3,166.0 293.4,165.5 293.5,165.0 293.6,164.5 293.6,164.0 293.7,163.5 293.6,163.0 293.6,162.5 293.6,162.0 293.5,161.5 293.5,161.0 293.5,160.5 293.5,160.2 293.6,159.5 293.7,159.0 294.0,158.5 294.3,158.0 294.9,157.5 295.5,157.3 296.0,157.2 296.5,157.3 297.0,157.4 297.5,157.6 298.0,157.9 298.5,158.3 299.0,158.8 299.5,159.3 300.0,159.9 300.5,160.3 301.0,160.8 301.3,161.0 301.5,161.2 301.9,161.5 302.5,161.9 303.0,162.2 303.5,162.4 304.0,162.7 304.5,163.0 305.0,163.3 305.3,163.5 306.0,163.9 306.5,164.2 306.9,164.5 307.5,164.9 308.0,165.3 308.3,165.5 308.9,166.0 309.5,166.5 310.0,167.0 310.5,167.4 311.0,168.0 311.5,168.5 311.9,169.0 312.3,169.5 312.5,169.7 312.7,170.0 313.0,170.4 313.4,171.0 313.7,171.5 314.0,172.0 314.3,172.5 314.5,172.8 314.9,173.5 315.0,173.8 315.3,174.5 315.5,174.9 315.8,175.5 316.0,176.0 316.2,176.5 316.4,177.0 316.5,177.4 316.7,178.0 316.8,178.5 317.0,179.0 317.1,179.5 317.2,180.0 317.3,180.5 317.4,181.0 317.5,181.5 317.6,182.0 317.7,182.5 317.8,183.0 317.9,183.5 317.9,184.0 318.0,184.5 318.0,185.0 318.0,185.5 318.1,186.0 318.1,186.5 318.1,187.0 318.1,187.5 318.1,188.0 318.1,188.5 318.1,189.0 318.0,189.5 318.0,190.0 318.0,190.5 317.9,191.0 317.9,191.5 317.8,192.0 317.7,192.5 317.6,193.0 317.5,193.5 317.4,194.0 317.3,194.5 317.2,195.0 317.1,195.5 316.9,196.0 316.8,196.5 316.6,197.0 316.5,197.3 316.2,198.0 316.0,198.5 315.8,199.0 315.5,199.5 315.2,200.0 315.0,200.4 314.5,201.0 314.1,201.5 313.7,202.0 313.1,202.5 312.5,203.0 312.0,203.3 311.6,203.5 311.0,203.8 310.5,203.9 310.0,204.1 M220.5,147.2 221.0,146.8 221.3,146.5 222.0,146.0 222.5,145.7 222.8,145.5 223.5,145.1 224.0,144.7 224.4,144.5 225.0,144.2 225.3,144.0 226.0,143.7 226.3,143.5 227.0,143.2 227.3,143.0 228.0,142.7 228.4,142.5 229.0,142.2 229.5,142.0 230.0,141.8 230.5,141.6 230.8,141.5 231.5,141.2 232.0,141.0 232.5,140.9 233.0,140.7 233.5,140.5 234.0,140.3 234.5,140.2 235.0,140.0 235.5,139.8 236.0,139.7 236.5,139.5 237.0,139.4 237.5,139.2 238.0,139.1 238.5,138.9 239.0,138.8 239.5,138.6 240.0,138.5 240.5,138.4 241.0,138.2 241.5,138.1 242.0,138.0 242.5,137.9 243.0,137.7 243.5,137.6 244.0,137.5 244.5,137.4 245.0,137.3 245.5,137.2 246.0,137.1 246.4,137.0 247.0,136.9 247.5,136.8 248.0,136.7 248.5,136.6 249.0,136.5 249.5,136.4 250.0,136.3 250.5,136.2 251.0,136.1 251.5,136.1 251.9,136.0 252.5,135.9 253.0,135.8 253.5,135.7 254.0,135.7 254.5,135.6 255.0,135.5 255.3,135.5 256.0,135.4 256.5,135.3 257.0,135.3 257.5,135.2 258.0,135.2 258.5,135.1 259.0,135.1 259.5,135.0 260.0,135.0 260.5,134.9 261.0,134.9 261.5,134.8 262.0,134.8 262.5,134.7 263.0,134.7 263.5,134.7 264.0,134.6 264.5,134.6 265.0,134.6 265.5,134.5 266.0,134.5 266.5,134.5 267.0,134.4 267.5,134.4 268.0,134.4 268.5,134.4 269.0,134.4 269.5,134.4 270.0,134.3 270.5,134.3 271.0,134.3 271.5,134.3 272.0,134.3 272.5,134.3 273.0,134.3 273.5,134.3 274.0,134.3 274.5,134.4 275.0,134.4 275.5,134.4 276.0,134.4 276.5,134.4 277.0,134.5 277.4,134.5 278.0,134.5 278.5,134.6 279.0,134.6 279.5,134.7 280.0,134.7 280.5,134.8 281.0,134.8 281.5,134.9 282.0,135.0 282.5,135.1 283.0,135.2 283.5,135.2 284.0,135.3 284.5,135.4 285.0,135.6 285.5,135.7 286.0,135.8 286.5,135.9 286.8,136.0 287.5,136.2 288.0,136.3 288.5,136.5 289.0,136.7 289.5,136.9 289.9,137.0 290.5,137.3 291.0,137.5 291.5,137.7 292.0,137.9 292.5,138.2 293.0,138.5 293.5,138.8 293.8,139.0 294.5,139.5 295.0,139.9 295.5,140.4 296.0,141.0 296.4,141.5 296.7,142.0 296.9,142.5 297.1,143.0 297.2,143.5 297.3,144.0 297.3,144.5 297.3,145.0 297.2,145.5 297.1,146.0 296.9,146.5 296.6,147.0 296.3,147.5 296.0,148.0 295.6,148.5 295.1,149.0 294.6,149.5 294.0,150.0 293.5,150.3 293.0,150.7 292.5,151.0 292.0,151.2 291.5,151.5 291.0,151.7 290.5,151.9 290.2,152.0 289.5,152.3 289.0,152.4 288.7,152.5 288.0,152.7 287.5,152.8 287.0,153.0 286.5,153.1 286.0,153.2 285.5,153.3 285.0,153.4 284.7,153.5 284.0,153.7 283.5,153.8 283.0,153.9 282.5,154.0 282.0,154.1 281.5,154.2 281.0,154.3 280.5,154.3 280.0,154.4 279.7,154.5 279.0,154.6 278.5,154.7 278.0,154.8 277.5,154.9 277.0,155.0 276.5,155.1 276.0,155.2 275.5,155.3 275.0,155.3 274.5,155.4 274.1,155.5 273.5,155.6 273.0,155.7 272.5,155.8 272.0,155.9 271.5,156.0 271.0,156.1 270.5,156.2 270.0,156.3 269.5,156.3 269.0,156.4 268.7,156.5 268.0,156.6 267.5,156.7 267.0,156.8 266.5,156.9 266.0,157.1 265.5,157.2 265.0,157.3 264.5,157.4 264.0,157.5 263.5,157.6 263.0,157.7 262.5,157.9 262.0,158.0 261.5,158.1 261.0,158.2 260.5,158.4 260.0,158.5 259.5,158.6 259.0,158.8 258.5,158.9 258.1,159.0 257.5,159.2 257.0,159.3 256.5,159.4 256.0,159.6 255.5,159.7 255.0,159.9 254.5,160.0 254.0,160.1 253.5,160.3 253.0,160.4 252.6,160.5 252.0,160.7 251.5,160.8 251.0,160.9 250.7,161.0 250.0,161.2 249.5,161.3 249.0,161.4 248.5,161.5 248.0,161.6 247.5,161.7 247.0,161.8 246.5,161.9 246.1,162.0 245.5,162.1 245.0,162.2 244.5,162.3 244.0,162.4 243.5,162.4 243.0,162.5 242.5,162.6 242.0,162.6 241.5,162.7 241.0,162.8 240.5,162.8 240.0,162.9 239.5,162.9 239.0,162.9 238.5,163.0 238.0,163.0 237.5,163.0 237.0,163.0 236.5,163.0 236.0,163.1 235.5,163.1 235.0,163.1 234.5,163.1 234.0,163.0 233.5,163.0 233.0,163.0 232.5,163.0 232.0,163.0 231.5,162.9 231.0,162.9 230.5,162.8 230.0,162.8 229.5,162.7 229.0,162.6 228.5,162.6 228.2,162.5 227.5,162.4 227.0,162.3 226.5,162.2 226.0,162.1 225.5,161.9 225.0,161.8 224.5,161.6 224.1,161.5 223.5,161.3 223.0,161.1 222.7,161.0 222.0,160.7 221.5,160.5 221.0,160.2 220.6,160.0 M310.0,202.6 309.5,202.7 309.0,202.8 308.5,202.8 308.0,202.8 307.5,202.8 307.0,202.8 306.5,202.7 306.0,202.7 305.5,202.6 305.2,202.5 304.5,202.3 304.0,202.2 303.5,202.0 303.0,201.9 302.5,201.7 302.0,201.5 301.5,201.3 301.0,201.0 300.5,200.8 300.1,200.5 299.5,200.1 299.0,199.8 298.6,199.5 298.0,199.0 297.5,198.6 297.0,198.1 296.5,197.6 296.0,197.0 295.6,196.5 295.2,196.0 295.0,195.8 294.8,195.5 294.5,195.0 294.2,194.5 294.0,194.2 293.6,193.5 293.3,193.0 293.1,192.5 292.9,192.0 292.7,191.5 292.5,191.1 292.3,190.5 292.1,190.0 292.0,189.7 291.8,189.0 291.6,188.5 291.5,188.0 291.4,187.5 291.3,187.0 291.2,186.5 291.1,186.0 291.0,185.5 291.0,185.2 290.9,184.5 290.9,184.0 290.8,183.5 290.8,183.0 290.8,182.5 290.8,182.0 290.8,181.5 290.8,181.0 290.8,180.5 290.9,180.0 290.9,179.5 290.9,179.0 291.0,178.6 291.1,178.0 291.2,177.5 291.3,177.0 291.4,176.5 291.5,176.0 291.6,175.5 291.7,175.0 291.9,174.5 292.0,174.1 292.2,173.5 292.4,173.0 292.5,172.7 292.8,172.0 293.0,171.5 293.2,171.0 293.5,170.5 293.7,170.0 294.0,169.5 294.3,169.0 294.5,168.6 294.9,168.0 295.2,167.5 295.5,167.0 295.9,166.5 296.2,166.0 296.5,165.6 297.0,165.1 297.5,164.6 298.0,164.3 298.5,164.2 299.0,164.1 299.5,164.1 300.0,164.1 300.5,164.2 301.0,164.3 301.5,164.4 302.0,164.5 302.5,164.6 303.0,164.8 303.5,164.9 304.0,165.1 304.5,165.3 305.0,165.5 305.5,165.8 306.0,166.0 306.5,166.3 306.9,166.5 307.5,166.9 308.0,167.3 308.3,167.5 309.0,168.0 309.5,168.5 310.0,168.9 310.5,169.4 311.0,170.0 311.4,170.5 311.8,171.0 312.2,171.5 312.5,171.9 312.9,172.5 313.2,173.0 313.5,173.5 313.8,174.0 314.0,174.4 314.3,175.0 314.5,175.4 314.8,176.0 315.0,176.5 315.2,177.0 315.4,177.5 315.5,177.9 315.7,178.5 315.9,179.0 316.0,179.5 316.1,180.0 316.3,180.5 316.4,181.0 316.5,181.5 316.6,182.0 316.7,182.5 316.8,183.0 316.8,183.5 316.9,184.0 316.9,184.5 317.0,185.0 317.0,185.5 317.1,186.0 317.1,186.5 317.1,187.0 317.1,187.5 317.1,188.0 317.1,188.5 317.1,189.0 317.1,189.5 317.0,190.0 317.0,190.4 316.9,191.0 316.9,191.5 316.8,192.0 316.7,192.5 316.7,193.0 316.6,193.5 316.5,193.8 316.3,194.5 316.2,195.0 316.1,195.5 315.9,196.0 315.7,196.5 315.6,197.0 315.3,197.5 315.1,198.0 314.9,198.5 314.6,199.0 314.3,199.5 314.0,199.9 313.5,200.5 313.0,201.0 312.5,201.4 312.0,201.8 311.6,202.0 311.0,202.3 310.5,202.5 310.0,202.6 M220.5,149.5 221.0,149.0 221.5,148.5 222.0,148.0 222.5,147.6 223.0,147.2 223.3,147.0 224.0,146.5 224.5,146.2 225.0,145.8 225.5,145.5 226.0,145.2 226.4,145.0 227.0,144.7 227.4,144.5 228.0,144.2 228.4,144.0 229.0,143.7 229.4,143.5 230.0,143.2 230.5,143.0 231.0,142.8 231.5,142.6 232.0,142.4 232.5,142.2 233.0,142.0 233.5,141.8 234.0,141.6 234.4,141.5 235.0,141.3 235.5,141.1 236.0,140.9 236.5,140.8 237.0,140.6 237.3,140.5 238.0,140.3 238.5,140.1 238.9,140.0 239.5,139.8 240.0,139.7 240.5,139.5 241.0,139.4 241.5,139.2 242.0,139.1 242.4,139.0 243.0,138.8 243.5,138.7 244.0,138.6 244.4,138.5 245.0,138.4 245.5,138.2 246.0,138.1 246.5,138.0 247.0,137.9 247.5,137.8 248.0,137.7 248.5,137.6 248.9,137.5 249.5,137.4 250.0,137.3 250.5,137.2 251.0,137.1 251.5,137.0 252.0,136.9 252.5,136.8 253.0,136.8 253.5,136.7 254.0,136.6 254.5,136.5 255.0,136.5 255.5,136.4 256.0,136.3 256.5,136.2 257.0,136.2 257.5,136.1 258.0,136.0 258.4,136.0 259.0,135.9 259.5,135.9 260.0,135.8 260.5,135.8 261.0,135.7 261.5,135.7 262.0,135.6 262.5,135.6 263.0,135.5 263.4,135.5 264.0,135.4 264.5,135.4 265.0,135.4 265.5,135.3 266.0,135.3 266.5,135.3 267.0,135.2 267.5,135.2 268.0,135.2 268.5,135.2 269.0,135.2 269.5,135.1 270.0,135.1 270.5,135.1 271.0,135.1 271.5,135.1 272.0,135.1 272.5,135.1 273.0,135.1 273.5,135.1 274.0,135.1 274.5,135.1 275.0,135.1 275.5,135.1 276.0,135.2 276.5,135.2 277.0,135.2 277.5,135.3 278.0,135.3 278.5,135.3 279.0,135.4 279.5,135.4 280.0,135.5 280.5,135.6 281.0,135.6 281.5,135.7 282.0,135.8 282.5,135.9 283.0,136.0 283.5,136.1 284.0,136.2 284.5,136.3 285.0,136.4 285.4,136.5 286.0,136.7 286.5,136.8 287.0,137.0 287.5,137.1 288.0,137.3 288.5,137.5 289.0,137.7 289.5,137.9 290.0,138.2 290.5,138.4 291.0,138.7 291.5,139.0 292.0,139.3 292.3,139.5 292.9,140.0 293.5,140.5 294.0,141.0 294.4,141.5 294.7,142.0 294.9,142.5 295.1,143.0 295.2,143.5 295.3,144.0 295.3,144.5 295.2,145.0 295.1,145.5 294.9,146.0 294.6,146.5 294.3,147.0 294.0,147.4 293.5,148.0 293.0,148.5 292.5,148.9 292.0,149.3 291.6,149.5 291.0,149.9 290.5,150.2 290.0,150.4 289.5,150.7 289.0,150.9 288.7,151.0 288.0,151.3 287.5,151.5 287.0,151.6 286.5,151.8 286.0,151.9 285.5,152.1 285.0,152.2 284.5,152.4 284.0,152.5 283.5,152.6 283.0,152.7 282.5,152.9 282.0,153.0 281.5,153.1 281.0,153.2 280.5,153.3 280.0,153.4 279.5,153.5 279.0,153.6 278.5,153.7 278.0,153.8 277.5,153.9 277.0,154.0 276.5,154.1 276.0,154.2 275.5,154.2 275.0,154.3 274.5,154.4 274.0,154.5 273.5,154.6 273.0,154.7 272.5,154.8 272.0,154.9 271.5,154.9 271.1,155.0 270.5,155.1 270.0,155.2 269.5,155.3 269.0,155.4 268.5,155.5 268.0,155.6 267.5,155.7 267.0,155.8 266.5,155.9 266.0,155.9 265.5,156.0 265.0,156.1 264.5,156.3 264.0,156.4 263.5,156.5 263.0,156.6 262.5,156.7 262.0,156.8 261.5,156.9 261.2,157.0 260.5,157.2 260.0,157.3 259.5,157.4 259.2,157.5 258.5,157.7 258.0,157.8 257.5,157.9 257.0,158.1 256.5,158.2 256.0,158.4 255.5,158.5 255.0,158.7 254.5,158.8 254.0,158.9 253.5,159.1 253.0,159.2 252.5,159.4 252.0,159.5 251.5,159.6 251.0,159.8 250.5,159.9 250.1,160.0 249.5,160.1 249.0,160.3 248.5,160.4 248.0,160.5 247.5,160.6 247.0,160.7 246.5,160.8 246.0,160.9 245.6,161.0 245.0,161.1 244.5,161.2 244.0,161.3 243.5,161.4 243.0,161.4 242.6,161.5 242.0,161.6 241.5,161.7 241.0,161.7 240.5,161.8 240.0,161.8 239.5,161.9 239.0,161.9 238.5,161.9 238.0,161.9 237.5,162.0 237.0,162.0 236.5,162.0 236.0,162.0 235.5,162.0 235.0,162.0 234.5,162.0 234.0,162.0 233.5,162.0 233.0,161.9 232.5,161.9 232.0,161.9 231.5,161.8 231.0,161.8 230.5,161.7 230.0,161.6 229.5,161.5 229.0,161.5 228.5,161.4 228.0,161.3 227.5,161.2 227.0,161.0 226.5,160.9 226.0,160.7 225.5,160.6 225.0,160.4 224.5,160.2 224.0,160.0 223.5,159.8 223.0,159.6 222.5,159.3 222.0,159.0 221.5,158.7 221.0,158.3 220.6,158.0 M310.5,201.1 310.0,201.2 309.5,201.3 309.0,201.4 308.5,201.4 308.0,201.4 307.5,201.4 307.0,201.3 306.5,201.3 306.0,201.2 305.5,201.1 305.0,200.9 304.5,200.8 304.0,200.7 303.6,200.5 303.0,200.3 302.5,200.1 302.0,199.9 301.5,199.6 301.0,199.4 300.5,199.1 300.0,198.8 299.6,198.5 299.0,198.0 298.5,197.6 298.0,197.2 297.5,196.7 297.0,196.2 296.5,195.6 296.1,195.0 295.7,194.5 295.5,194.2 295.0,193.5 294.7,193.0 294.5,192.5 294.2,192.0 294.0,191.5 293.8,191.0 293.6,190.5 293.4,190.0 293.2,189.5 293.0,189.0 292.9,188.5 292.7,188.0 292.6,187.5 292.5,187.0 292.4,186.5 292.3,186.0 292.2,185.5 292.2,185.0 292.1,184.5 292.1,184.0 292.0,183.5 292.0,183.0 292.0,182.5 292.0,182.0 292.0,181.5 292.0,181.0 292.1,180.5 292.1,180.0 292.2,179.5 292.2,179.0 292.3,178.5 292.4,178.0 292.5,177.5 292.6,177.0 292.7,176.5 292.9,176.0 293.0,175.6 293.2,175.0 293.4,174.5 293.5,174.2 293.8,173.5 294.0,173.0 294.3,172.5 294.5,172.1 294.8,171.5 295.0,171.2 295.5,170.5 295.9,170.0 296.3,169.5 296.5,169.3 296.8,169.0 297.0,168.8 297.3,168.5 297.9,168.0 298.5,167.6 298.8,167.5 299.5,167.2 300.0,167.1 300.5,166.9 301.0,166.9 301.5,166.9 302.0,166.9 302.5,166.9 303.0,167.0 303.5,167.1 304.0,167.2 304.5,167.3 305.0,167.5 305.5,167.7 306.0,167.9 306.5,168.2 307.0,168.5 307.5,168.8 307.8,169.0 308.5,169.5 309.0,169.9 309.5,170.4 310.0,170.9 310.5,171.4 311.0,172.0 311.4,172.5 311.8,173.0 312.0,173.3 312.4,174.0 312.7,174.5 313.0,175.0 313.3,175.5 313.5,175.9 313.8,176.5 314.0,177.0 314.2,177.5 314.4,178.0 314.5,178.3 314.8,179.0 314.9,179.5 315.0,179.8 315.2,180.5 315.3,181.0 315.4,181.5 315.5,182.0 315.7,182.5 315.7,183.0 315.8,183.5 315.9,184.0 316.0,184.5 316.0,184.9 316.1,185.5 316.1,186.0 316.1,186.5 316.2,187.0 316.2,187.5 316.2,188.0 316.2,188.5 316.2,189.0 316.1,189.5 316.1,190.0 316.1,190.5 316.0,191.0 316.0,191.5 315.9,192.0 315.8,192.5 315.7,193.0 315.6,193.5 315.5,194.0 315.4,194.5 315.2,195.0 315.1,195.5 314.9,196.0 314.7,196.5 314.5,197.0 314.2,197.5 314.0,197.9 313.7,198.5 313.3,199.0 313.0,199.3 312.5,199.9 312.0,200.3 311.7,200.5 311.0,200.9 310.7,201.0 M242.0,160.5 241.5,160.6 241.0,160.7 240.5,160.7 240.0,160.8 239.5,160.8 239.0,160.8 238.5,160.9 238.0,160.9 237.5,160.9 237.0,160.9 236.5,160.9 236.0,161.0 235.5,160.9 235.0,160.9 234.5,160.9 234.0,160.9 233.5,160.9 233.0,160.8 232.5,160.8 232.0,160.7 231.5,160.7 231.0,160.6 230.5,160.5 230.0,160.4 229.5,160.3 229.0,160.2 228.5,160.1 228.0,160.0 227.5,159.9 227.0,159.7 226.5,159.5 226.0,159.3 225.5,159.1 225.0,158.9 224.5,158.6 224.0,158.3 223.5,158.0 223.0,157.6 222.5,157.2 222.3,157.0 222.0,156.7 221.5,156.0 221.2,155.5 221.1,155.0 220.9,154.5 220.9,154.0 220.9,153.5 221.0,153.0 221.1,152.5 221.2,152.0 221.5,151.5 221.8,151.0 222.0,150.6 222.5,150.0 222.9,149.5 223.4,149.0 224.0,148.5 224.5,148.1 225.0,147.7 225.3,147.5 225.5,147.3 226.0,147.0 226.5,146.7 226.8,146.5 227.5,146.1 228.0,145.8 228.5,145.5 229.0,145.2 229.5,145.0 230.0,144.7 230.5,144.5 231.0,144.3 231.5,144.1 232.0,143.8 232.5,143.6 232.8,143.5 233.5,143.2 234.0,143.0 234.5,142.8 235.0,142.6 235.4,142.5 236.0,142.3 236.5,142.1 237.0,141.9 237.5,141.7 238.0,141.6 238.5,141.4 239.0,141.2 239.5,141.1 240.0,140.9 240.5,140.8 241.0,140.6 241.3,140.5 242.0,140.3 242.5,140.2 243.0,140.0 243.5,139.9 244.0,139.7 244.5,139.6 244.9,139.5 245.5,139.3 246.0,139.2 246.5,139.1 246.9,139.0 247.5,138.9 248.0,138.7 248.5,138.6 249.0,138.5 249.5,138.4 250.0,138.3 250.5,138.2 251.0,138.1 251.5,138.0 252.0,137.9 252.5,137.8 253.0,137.7 253.5,137.6 254.0,137.5 254.5,137.5 255.0,137.4 255.5,137.3 256.0,137.2 256.5,137.1 257.0,137.1 257.5,137.0 258.0,136.9 258.5,136.9 259.0,136.8 259.5,136.7 260.0,136.7 260.5,136.6 261.0,136.6 261.5,136.5 262.0,136.5 262.5,136.4 263.0,136.4 263.5,136.3 264.0,136.3 264.5,136.2 265.0,136.2 265.5,136.1 266.0,136.1 266.5,136.1 267.0,136.0 267.5,136.0 268.0,136.0 268.5,136.0 269.0,135.9 269.5,135.9 270.0,135.9 270.5,135.9 271.0,135.9 271.5,135.9 272.0,135.8 272.5,135.8 273.0,135.8 273.5,135.8 274.0,135.8 274.5,135.9 275.0,135.9 275.5,135.9 276.0,135.9 276.5,135.9 277.0,136.0 277.4,136.0 278.0,136.0 278.5,136.1 279.0,136.1 279.5,136.2 280.0,136.3 280.5,136.3 281.0,136.4 281.5,136.5 282.0,136.6 282.5,136.7 283.0,136.8 283.5,136.9 284.0,137.0 284.5,137.1 285.0,137.3 285.5,137.4 285.8,137.5 286.5,137.7 287.0,137.9 287.5,138.1 288.0,138.3 288.4,138.5 289.0,138.8 289.4,139.0 290.0,139.4 290.5,139.7 290.9,140.0 291.5,140.5 292.0,141.0 292.4,141.5 292.8,142.0 293.0,142.5 293.2,143.0 293.3,143.5 293.3,144.0 293.3,144.5 293.2,145.0 293.0,145.5 292.8,146.0 292.5,146.5 292.1,147.0 291.7,147.5 291.1,148.0 290.5,148.5 290.0,148.8 289.7,149.0 289.0,149.4 288.5,149.7 288.0,149.9 287.5,150.1 287.0,150.4 286.6,150.5 286.0,150.7 285.5,150.9 285.0,151.1 284.5,151.2 284.0,151.4 283.6,151.5 283.0,151.7 282.5,151.8 282.0,151.9 281.7,152.0 281.0,152.2 280.5,152.3 280.0,152.4 279.5,152.5 279.0,152.6 278.5,152.7 278.0,152.8 277.5,152.9 277.0,153.0 276.5,153.1 276.0,153.2 275.5,153.3 275.0,153.4 274.5,153.4 274.1,153.5 273.5,153.6 273.0,153.7 272.5,153.8 272.0,153.9 271.5,153.9 271.1,154.0 270.5,154.1 270.0,154.2 269.5,154.3 269.0,154.4 268.5,154.4 268.1,154.5 267.5,154.6 267.0,154.7 266.5,154.8 266.0,154.9 265.5,155.0 265.0,155.0 264.5,155.1 264.0,155.2 263.5,155.3 263.0,155.4 262.6,155.5 262.0,155.6 261.5,155.7 261.0,155.8 260.5,156.0 260.0,156.1 259.5,156.2 259.0,156.3 258.5,156.4 258.0,156.6 257.5,156.7 257.0,156.8 256.5,157.0 256.0,157.1 255.5,157.3 255.0,157.4 254.7,157.5 254.0,157.7 253.5,157.8 253.0,158.0 252.5,158.1 252.0,158.3 251.5,158.4 251.0,158.6 250.5,158.7 250.0,158.8 249.5,159.0 249.0,159.1 248.5,159.2 248.0,159.4 247.5,159.5 247.0,159.6 246.5,159.7 246.0,159.8 245.5,159.9 245.1,160.0 244.5,160.1 244.0,160.2 243.5,160.3 243.0,160.4 242.5,160.5 242.2,160.5 M308.5,200.0 308.1,200.0 307.5,200.0 307.0,199.9 306.5,199.8 306.0,199.7 305.5,199.6 305.0,199.4 304.5,199.3 304.0,199.1 303.5,198.9 303.0,198.7 302.5,198.5 302.0,198.3 301.5,198.0 301.0,197.7 300.7,197.5 300.0,197.0 299.5,196.7 299.0,196.2 298.7,196.0 298.5,195.8 298.2,195.5 298.0,195.3 297.7,195.0 297.5,194.7 297.0,194.1 296.6,193.5 296.2,193.0 296.0,192.6 295.6,192.0 295.4,191.5 295.1,191.0 294.9,190.5 294.7,190.0 294.5,189.6 294.3,189.0 294.1,188.5 294.0,188.0 293.8,187.5 293.7,187.0 293.6,186.5 293.5,186.0 293.4,185.5 293.4,185.0 293.3,184.5 293.3,184.0 293.2,183.5 293.2,183.0 293.2,182.5 293.2,182.0 293.2,181.5 293.3,181.0 293.3,180.5 293.4,180.0 293.4,179.5 293.5,179.1 293.6,178.5 293.7,178.0 293.8,177.5 294.0,177.0 294.1,176.5 294.3,176.0 294.5,175.5 294.7,175.0 294.9,174.5 295.2,174.0 295.5,173.5 295.8,173.0 296.0,172.7 296.5,172.0 296.9,171.5 297.4,171.0 298.0,170.5 298.5,170.1 299.0,169.8 299.5,169.6 300.0,169.4 300.5,169.2 301.0,169.1 301.4,169.0 302.0,168.9 302.5,168.9 303.0,169.0 303.4,169.0 304.0,169.1 304.5,169.2 305.0,169.4 305.4,169.5 306.0,169.8 306.5,170.0 307.0,170.3 307.3,170.5 308.0,171.0 308.5,171.4 309.0,171.8 309.2,172.0 309.5,172.3 309.7,172.5 310.0,172.8 310.5,173.4 311.0,174.0 311.3,174.5 311.7,175.0 312.0,175.5 312.3,176.0 312.5,176.4 312.8,177.0 313.0,177.5 313.2,178.0 313.4,178.5 313.6,179.0 313.8,179.5 314.0,180.0 314.1,180.5 314.3,181.0 314.4,181.5 314.5,181.8 314.7,182.5 314.8,183.0 314.8,183.5 314.9,184.0 315.0,184.5 315.1,185.0 315.1,185.5 315.2,186.0 315.2,186.5 315.2,187.0 315.3,187.5 315.3,188.0 315.3,188.5 315.3,189.0 315.2,189.5 315.2,190.0 315.2,190.5 315.1,191.0 315.1,191.5 315.0,191.9 314.9,192.5 314.8,193.0 314.7,193.5 314.6,194.0 314.4,194.5 314.3,195.0 314.1,195.5 313.9,196.0 313.7,196.5 313.5,196.8 313.1,197.5 312.7,198.0 312.5,198.2 312.2,198.5 312.0,198.7 311.7,199.0 311.0,199.4 310.5,199.7 310.0,199.8 309.5,199.9 309.0,200.0 308.5,200.0 M241.5,159.5 241.0,159.6 240.5,159.7 240.0,159.7 239.5,159.8 239.0,159.8 238.5,159.8 238.0,159.9 237.5,159.9 237.0,159.9 236.5,159.9 236.0,159.9 235.5,159.9 235.0,159.9 234.5,159.8 234.0,159.8 233.5,159.8 233.0,159.7 232.5,159.7 232.0,159.6 231.5,159.5 231.0,159.4 230.5,159.3 230.0,159.2 229.5,159.1 229.2,159.0 228.5,158.8 228.0,158.6 227.7,158.5 227.0,158.2 226.6,158.0 226.0,157.7 225.7,157.5 225.0,157.0 224.5,156.5 224.0,156.0 223.7,155.5 223.5,155.1 223.3,154.5 223.2,154.0 223.2,153.5 223.2,153.0 223.4,152.5 223.5,152.1 223.8,151.5 224.0,151.2 224.5,150.5 224.9,150.0 225.4,149.5 226.0,149.0 226.5,148.6 227.0,148.2 227.3,148.0 228.0,147.5 228.5,147.2 228.8,147.0 229.5,146.6 230.0,146.4 230.5,146.1 231.0,145.8 231.5,145.6 232.0,145.4 232.5,145.1 232.8,145.0 233.5,144.7 234.0,144.5 234.5,144.3 235.0,144.1 235.5,143.9 236.0,143.7 236.5,143.5 237.0,143.3 237.5,143.1 237.9,143.0 238.5,142.8 239.0,142.6 239.5,142.4 240.0,142.2 240.5,142.1 241.0,141.9 241.5,141.7 242.0,141.6 242.5,141.4 243.0,141.3 243.5,141.1 243.9,141.0 244.5,140.8 245.0,140.7 245.5,140.5 246.0,140.4 246.5,140.2 247.0,140.1 247.4,140.0 248.0,139.8 248.5,139.7 249.0,139.6 249.4,139.5 250.0,139.3 250.5,139.2 251.0,139.1 251.5,139.0 252.0,138.9 252.5,138.8 253.0,138.7 253.5,138.6 254.0,138.5 254.5,138.4 255.0,138.3 255.5,138.2 256.0,138.1 256.5,138.1 256.9,138.0 257.5,137.9 258.0,137.8 258.5,137.7 259.0,137.7 259.5,137.6 260.0,137.5 260.4,137.5 261.0,137.4 261.5,137.4 262.0,137.3 262.5,137.2 263.0,137.2 263.5,137.1 264.0,137.1 264.5,137.0 265.0,137.0 265.5,137.0 266.0,136.9 266.5,136.9 267.0,136.8 267.5,136.8 268.0,136.8 268.5,136.7 269.0,136.7 269.5,136.7 270.0,136.7 270.5,136.6 271.0,136.6 271.5,136.6 272.0,136.6 272.5,136.6 273.0,136.6 273.5,136.6 274.0,136.6 274.5,136.6 275.0,136.6 275.5,136.6 276.0,136.6 276.5,136.7 277.0,136.7 277.5,136.7 278.0,136.8 278.5,136.8 279.0,136.9 279.5,136.9 279.9,137.0 280.5,137.1 281.0,137.2 281.5,137.2 282.0,137.3 282.5,137.5 283.0,137.6 283.5,137.7 284.0,137.8 284.5,138.0 285.0,138.1 285.5,138.3 286.0,138.5 286.5,138.7 287.0,138.9 287.5,139.2 288.0,139.4 288.5,139.7 288.9,140.0 289.5,140.4 290.0,140.9 290.5,141.4 290.9,142.0 291.2,142.5 291.4,143.0 291.5,143.5 291.5,144.0 291.5,144.5 291.4,145.0 291.2,145.5 291.0,145.8 290.5,146.5 290.1,147.0 289.5,147.5 289.0,147.9 288.5,148.3 288.1,148.5 287.5,148.9 287.2,149.0 286.5,149.3 286.2,149.5 285.5,149.8 285.0,150.0 284.5,150.2 284.0,150.3 283.5,150.5 283.0,150.6 282.5,150.8 282.0,150.9 281.5,151.1 281.0,151.2 280.5,151.3 280.0,151.4 279.7,151.5 279.0,151.7 278.5,151.8 278.0,151.9 277.5,152.0 277.0,152.1 276.5,152.1 276.0,152.2 275.5,152.3 275.0,152.4 274.5,152.5 274.0,152.6 273.5,152.7 273.0,152.7 272.5,152.8 272.0,152.9 271.5,153.0 271.0,153.1 270.5,153.1 270.0,153.2 269.5,153.3 269.0,153.4 268.5,153.4 268.0,153.5 267.5,153.6 267.0,153.7 266.5,153.7 266.0,153.8 265.5,153.9 265.0,154.0 264.5,154.0 264.0,154.1 263.5,154.2 263.0,154.3 262.5,154.4 262.0,154.5 261.5,154.6 261.0,154.7 260.5,154.8 260.0,154.9 259.5,155.0 259.0,155.1 258.5,155.2 258.0,155.3 257.5,155.4 257.2,155.5 256.5,155.7 256.0,155.8 255.5,156.0 255.0,156.1 254.5,156.2 254.0,156.4 253.7,156.5 253.0,156.7 252.5,156.9 252.0,157.0 251.5,157.2 251.0,157.3 250.5,157.5 250.0,157.6 249.5,157.8 249.0,157.9 248.7,158.0 248.0,158.2 247.5,158.3 247.0,158.4 246.5,158.6 246.0,158.7 245.5,158.8 245.0,158.9 244.6,159.0 244.0,159.1 243.5,159.2 243.0,159.3 242.5,159.4 242.0,159.5 241.5,159.5 M309.5,198.6 309.0,198.6 308.5,198.6 308.0,198.6 307.5,198.5 307.0,198.5 306.5,198.3 306.0,198.2 305.5,198.1 305.0,197.9 304.5,197.7 304.0,197.5 303.5,197.3 303.0,197.1 302.5,196.9 302.0,196.6 301.5,196.3 301.0,196.0 300.5,195.7 300.0,195.3 299.7,195.0 299.1,194.5 298.6,194.0 298.2,193.5 297.8,193.0 297.5,192.6 297.1,192.0 296.8,191.5 296.5,191.0 296.2,190.5 296.0,190.0 295.8,189.5 295.6,189.0 295.4,188.5 295.2,188.0 295.1,187.5 295.0,187.2 294.8,186.5 294.7,186.0 294.6,185.5 294.6,185.0 294.5,184.5 294.5,184.0 294.4,183.5 294.4,183.0 294.4,182.5 294.4,182.0 294.5,181.5 294.5,181.0 294.6,180.5 294.6,180.0 294.7,179.5 294.8,179.0 294.9,178.5 295.1,178.0 295.2,177.5 295.4,177.0 295.6,176.5 295.8,176.0 296.0,175.6 296.3,175.0 296.5,174.7 297.0,174.0 297.4,173.5 297.9,173.0 298.4,172.5 299.0,172.0 299.5,171.7 299.9,171.5 300.5,171.2 301.0,171.0 301.5,170.9 302.0,170.8 302.5,170.8 303.0,170.8 303.5,170.8 304.0,170.9 304.5,171.0 305.0,171.1 305.5,171.3 306.0,171.5 306.5,171.8 306.9,172.0 307.5,172.4 308.0,172.7 308.3,173.0 308.9,173.5 309.4,174.0 309.8,174.5 310.2,175.0 310.5,175.4 310.9,176.0 311.3,176.5 311.5,176.9 311.8,177.5 312.0,177.9 312.3,178.5 312.5,178.9 312.7,179.5 312.9,180.0 313.1,180.5 313.3,181.0 313.4,181.5 313.5,181.8 313.7,182.5 313.8,183.0 313.9,183.5 314.0,184.0 314.1,184.5 314.1,185.0 314.2,185.5 314.3,186.0 314.3,186.5 314.4,187.0 314.4,187.5 314.4,188.0 314.4,188.5 314.4,189.0 314.4,189.5 314.4,190.0 314.3,190.5 314.3,191.0 314.2,191.5 314.1,192.0 314.0,192.5 313.9,193.0 313.8,193.5 313.7,194.0 313.5,194.5 313.3,195.0 313.1,195.5 312.8,196.0 312.5,196.5 312.1,197.0 311.6,197.5 311.0,198.0 310.5,198.3 310.0,198.4 309.5,198.6 M241.0,158.5 240.5,158.6 240.0,158.6 239.5,158.7 239.0,158.7 238.5,158.8 238.0,158.8 237.5,158.8 237.0,158.8 236.5,158.8 236.0,158.8 235.5,158.8 235.0,158.8 234.5,158.7 234.0,158.7 233.5,158.6 233.0,158.6 232.6,158.5 232.0,158.4 231.5,158.3 231.0,158.2 230.5,158.0 230.0,157.9 229.5,157.7 229.0,157.5 228.5,157.3 228.0,157.0 227.5,156.7 227.2,156.5 226.6,156.0 226.2,155.5 226.0,155.2 225.7,154.5 225.5,154.0 225.5,153.5 225.6,153.0 225.7,152.5 225.9,152.0 226.1,151.5 226.5,151.0 226.9,150.5 227.4,150.0 228.0,149.5 228.5,149.1 229.0,148.7 229.3,148.5 230.0,148.1 230.5,147.8 231.0,147.5 231.5,147.2 232.0,147.0 232.5,146.7 233.0,146.5 233.5,146.3 234.0,146.1 234.5,145.8 235.0,145.6 235.3,145.5 236.0,145.2 236.5,145.0 237.0,144.8 237.5,144.6 237.9,144.5 238.5,144.3 239.0,144.1 239.5,143.9 240.0,143.7 240.5,143.5 241.0,143.4 241.5,143.2 242.0,143.0 242.5,142.8 243.0,142.7 243.4,142.5 244.0,142.3 244.5,142.1 244.9,142.0 245.5,141.8 246.0,141.6 246.5,141.5 247.0,141.3 247.5,141.2 248.0,141.0 248.5,140.9 249.0,140.7 249.5,140.6 249.9,140.5 250.5,140.3 251.0,140.2 251.5,140.1 251.8,140.0 252.5,139.8 253.0,139.7 253.5,139.6 254.0,139.5 254.5,139.4 255.0,139.3 255.5,139.2 256.0,139.1 256.5,139.0 257.0,138.9 257.5,138.8 258.0,138.7 258.5,138.6 259.0,138.6 259.5,138.5 260.0,138.4 260.5,138.3 261.0,138.3 261.5,138.2 262.0,138.2 262.5,138.1 263.0,138.0 263.3,138.0 264.0,137.9 264.5,137.9 265.0,137.8 265.5,137.8 266.0,137.7 266.5,137.7 267.0,137.6 267.5,137.6 268.0,137.6 268.5,137.5 269.0,137.5 269.5,137.5 270.0,137.4 270.5,137.4 271.0,137.4 271.5,137.4 272.0,137.4 272.5,137.3 273.0,137.3 273.5,137.3 274.0,137.3 274.5,137.3 275.0,137.3 275.5,137.4 276.0,137.4 276.5,137.4 277.0,137.4 277.5,137.5 277.9,137.5 278.5,137.6 279.0,137.6 279.5,137.7 280.0,137.7 280.5,137.8 281.0,137.9 281.4,138.0 282.0,138.1 282.5,138.2 283.0,138.4 283.4,138.5 284.0,138.7 284.5,138.8 284.9,139.0 285.5,139.2 286.0,139.5 286.5,139.7 287.0,140.0 287.5,140.3 288.0,140.7 288.4,141.0 288.8,141.5 289.2,142.0 289.5,142.5 289.7,143.0 289.8,143.5 289.8,144.0 289.8,144.5 289.6,145.0 289.4,145.5 289.0,146.0 288.6,146.5 288.1,147.0 287.5,147.5 287.0,147.8 286.7,148.0 286.0,148.4 285.5,148.6 285.0,148.9 284.7,149.0 284.0,149.3 283.5,149.5 283.0,149.6 282.5,149.8 282.0,150.0 281.5,150.1 281.0,150.2 280.5,150.4 280.0,150.5 279.5,150.6 279.0,150.7 278.5,150.8 278.0,150.9 277.7,151.0 277.0,151.1 276.5,151.2 276.0,151.3 275.5,151.4 275.0,151.5 274.5,151.6 274.0,151.7 273.5,151.7 273.0,151.8 272.5,151.9 272.0,152.0 271.5,152.0 271.0,152.1 270.5,152.2 270.0,152.3 269.5,152.3 269.0,152.4 268.5,152.5 268.1,152.5 267.5,152.6 267.0,152.7 266.5,152.7 266.0,152.8 265.5,152.8 265.0,152.9 264.5,153.0 264.0,153.0 263.5,153.1 263.0,153.2 262.5,153.3 262.0,153.3 261.5,153.4 261.0,153.5 260.5,153.6 260.0,153.6 259.5,153.7 259.0,153.8 258.5,153.9 258.0,154.0 257.5,154.1 257.0,154.2 256.5,154.3 256.0,154.5 255.5,154.6 255.0,154.7 254.5,154.9 254.0,155.0 253.5,155.2 253.0,155.3 252.5,155.5 252.0,155.6 251.5,155.8 251.0,156.0 250.5,156.1 250.0,156.3 249.5,156.5 249.0,156.6 248.5,156.8 248.0,156.9 247.5,157.1 247.0,157.2 246.5,157.4 246.0,157.5 245.5,157.6 245.0,157.8 244.5,157.9 244.0,158.0 243.5,158.1 243.0,158.2 242.5,158.3 242.0,158.4 241.5,158.5 241.1,158.5 M310.0,197.1 309.5,197.2 309.0,197.3 308.5,197.3 308.0,197.2 307.5,197.2 307.0,197.0 306.5,196.9 306.0,196.7 305.5,196.6 305.0,196.4 304.5,196.2 304.1,196.0 303.5,195.8 303.0,195.5 302.5,195.2 302.1,195.0 301.5,194.6 301.0,194.3 300.6,194.0 300.0,193.5 299.5,193.0 299.1,192.5 298.7,192.0 298.3,191.5 298.0,191.1 297.6,190.5 297.4,190.0 297.1,189.5 296.9,189.0 296.7,188.5 296.5,188.0 296.3,187.5 296.2,187.0 296.1,186.5 295.9,186.0 295.8,185.5 295.8,185.0 295.7,184.5 295.7,184.0 295.6,183.5 295.6,183.0 295.6,182.5 295.6,182.0 295.7,181.5 295.7,181.0 295.8,180.5 295.9,180.0 296.0,179.6 296.1,179.0 296.3,178.5 296.5,178.0 296.7,177.5 296.9,177.0 297.2,176.5 297.5,176.0 297.8,175.5 298.0,175.2 298.5,174.6 299.0,174.2 299.5,173.8 299.9,173.5 300.5,173.2 300.9,173.0 301.5,172.8 302.0,172.7 302.5,172.6 303.0,172.6 303.5,172.6 304.0,172.6 304.5,172.7 305.0,172.8 305.5,173.0 306.0,173.2 306.5,173.5 307.0,173.8 307.3,174.0 308.0,174.5 308.5,175.0 309.0,175.5 309.5,176.0 309.8,176.5 310.2,177.0 310.5,177.4 310.8,178.0 311.0,178.3 311.4,179.0 311.6,179.5 311.8,180.0 312.0,180.4 312.2,181.0 312.4,181.5 312.5,181.8 312.7,182.5 312.8,183.0 313.0,183.5 313.1,184.0 313.2,184.5 313.3,185.0 313.3,185.5 313.4,186.0 313.5,186.5 313.5,187.0 313.5,187.5 313.6,188.0 313.6,188.5 313.6,189.0 313.6,189.5 313.5,190.0 313.5,190.5 313.5,191.0 313.4,191.5 313.3,192.0 313.2,192.5 313.1,193.0 312.9,193.5 312.8,194.0 312.5,194.5 312.3,195.0 312.0,195.5 311.6,196.0 311.1,196.5 310.5,196.9 310.2,197.0 M240.0,157.6 239.5,157.6 239.0,157.7 238.5,157.7 238.0,157.7 237.5,157.7 237.0,157.7 236.5,157.7 236.0,157.7 235.5,157.7 235.0,157.7 234.5,157.6 234.0,157.5 233.5,157.5 233.0,157.4 232.5,157.2 232.0,157.1 231.6,157.0 231.0,156.8 230.5,156.6 230.0,156.3 229.5,156.0 229.0,155.6 228.5,155.1 228.1,154.5 227.9,154.0 227.8,153.5 227.9,153.0 228.0,152.5 228.2,152.0 228.5,151.6 228.9,151.0 229.4,150.5 230.0,150.0 230.5,149.6 231.0,149.3 231.5,149.0 232.0,148.7 232.3,148.5 233.0,148.2 233.3,148.0 234.0,147.7 234.4,147.5 235.0,147.3 235.5,147.1 236.0,146.9 236.5,146.7 236.9,146.5 237.5,146.3 238.0,146.1 238.3,146.0 239.0,145.7 239.5,145.6 240.0,145.4 240.5,145.2 241.0,145.0 241.5,144.8 242.0,144.6 242.4,144.5 243.0,144.3 243.5,144.1 244.0,143.9 244.5,143.7 245.0,143.5 245.5,143.3 246.0,143.1 246.3,143.0 247.0,142.7 247.5,142.6 248.0,142.4 248.5,142.2 249.0,142.0 249.5,141.9 250.0,141.7 250.5,141.5 251.0,141.4 251.5,141.2 252.0,141.1 252.5,140.9 253.0,140.8 253.5,140.7 254.0,140.5 254.5,140.4 255.0,140.3 255.5,140.2 256.0,140.1 256.3,140.0 257.0,139.9 257.5,139.8 258.0,139.7 258.5,139.6 258.9,139.5 259.5,139.4 260.0,139.3 260.5,139.2 261.0,139.2 261.5,139.1 262.0,139.0 262.5,138.9 263.0,138.9 263.5,138.8 264.0,138.8 264.5,138.7 265.0,138.6 265.5,138.6 266.0,138.5 266.4,138.5 267.0,138.4 267.5,138.4 268.0,138.4 268.5,138.3 269.0,138.3 269.5,138.2 270.0,138.2 270.5,138.2 271.0,138.1 271.5,138.1 272.0,138.1 272.5,138.1 273.0,138.1 273.5,138.1 274.0,138.1 274.5,138.1 275.0,138.1 275.5,138.1 276.0,138.1 276.5,138.1 277.0,138.1 277.5,138.2 278.0,138.2 278.5,138.3 279.0,138.3 279.5,138.4 280.0,138.5 280.5,138.6 281.0,138.7 281.5,138.8 282.0,138.9 282.4,139.0 283.0,139.2 283.5,139.4 283.9,139.5 284.5,139.8 285.0,140.0 285.5,140.3 285.9,140.5 286.5,140.9 287.0,141.3 287.5,141.9 287.9,142.5 288.1,143.0 288.2,143.5 288.2,144.0 288.1,144.5 288.0,144.9 287.7,145.5 287.5,145.7 287.3,146.0 287.0,146.3 286.5,146.8 286.2,147.0 285.5,147.5 285.0,147.7 284.5,148.0 284.0,148.2 283.5,148.5 283.0,148.7 282.5,148.8 282.0,149.0 281.5,149.2 281.0,149.3 280.5,149.5 280.0,149.6 279.5,149.7 279.0,149.8 278.5,149.9 278.0,150.0 277.5,150.2 277.0,150.3 276.5,150.3 276.0,150.4 275.6,150.5 275.0,150.6 274.5,150.7 274.0,150.8 273.5,150.8 273.0,150.9 272.5,151.0 272.0,151.1 271.5,151.1 271.0,151.2 270.5,151.3 270.0,151.3 269.5,151.4 269.0,151.4 268.5,151.5 268.0,151.6 267.5,151.6 267.0,151.7 266.5,151.7 266.0,151.8 265.5,151.8 265.0,151.9 264.5,151.9 264.0,152.0 263.5,152.0 263.0,152.1 262.5,152.1 262.0,152.2 261.5,152.3 261.0,152.3 260.5,152.4 260.0,152.4 259.5,152.5 259.0,152.5 258.5,152.6 258.0,152.7 257.5,152.8 257.0,152.9 256.5,152.9 256.2,153.0 255.5,153.1 255.0,153.3 254.5,153.4 254.0,153.5 253.5,153.6 253.0,153.8 252.5,153.9 252.0,154.1 251.5,154.3 251.0,154.5 250.5,154.6 250.0,154.8 249.5,155.0 249.0,155.2 248.5,155.4 248.2,155.5 247.5,155.7 247.0,155.9 246.5,156.1 246.0,156.2 245.5,156.4 245.1,156.5 244.5,156.7 244.0,156.8 243.5,156.9 243.0,157.1 242.5,157.2 242.0,157.3 241.5,157.3 241.0,157.4 240.5,157.5 240.0,157.6 M310.0,195.8 309.5,195.9 309.0,196.0 308.5,195.9 308.0,195.9 307.5,195.8 307.0,195.6 306.7,195.5 306.0,195.2 305.5,195.0 305.0,194.8 304.5,194.6 304.0,194.4 303.5,194.1 303.0,193.9 302.5,193.6 302.0,193.3 301.6,193.0 301.0,192.5 300.5,192.1 300.0,191.6 299.5,191.0 299.1,190.5 298.8,190.0 298.5,189.5 298.2,189.0 298.0,188.5 297.8,188.0 297.6,187.5 297.4,187.0 297.3,186.5 297.2,186.0 297.1,185.5 297.0,185.2 296.9,184.5 296.9,184.0 296.8,183.5 296.8,183.0 296.8,182.5 296.9,182.0 296.9,181.5 297.0,181.0 297.1,180.5 297.2,180.0 297.4,179.5 297.5,179.1 297.7,178.5 298.0,178.0 298.2,177.5 298.5,177.1 298.9,176.5 299.4,176.0 299.9,175.5 300.5,175.1 301.0,174.8 301.5,174.6 301.8,174.5 302.5,174.3 303.0,174.3 303.5,174.3 304.0,174.3 304.5,174.4 304.9,174.5 305.5,174.7 306.0,174.9 306.5,175.2 307.0,175.5 307.5,175.9 308.0,176.3 308.5,176.8 309.0,177.4 309.5,178.0 309.8,178.5 310.0,178.8 310.4,179.5 310.7,180.0 310.9,180.5 311.2,181.0 311.4,181.5 311.5,181.8 311.7,182.5 311.9,183.0 312.0,183.4 312.2,184.0 312.3,184.5 312.4,185.0 312.5,185.5 312.6,186.0 312.6,186.5 312.7,187.0 312.7,187.5 312.8,188.0 312.8,188.5 312.8,189.0 312.8,189.5 312.8,190.0 312.7,190.5 312.7,191.0 312.6,191.5 312.5,191.9 312.4,192.5 312.2,193.0 312.0,193.5 311.8,194.0 311.5,194.5 311.1,195.0 310.5,195.5 310.0,195.8 M239.5,156.5 239.0,156.6 238.5,156.6 238.0,156.6 237.5,156.6 237.0,156.6 236.5,156.6 236.0,156.6 235.5,156.5 235.2,156.5 234.5,156.4 234.0,156.3 233.5,156.2 233.0,156.0 232.5,155.8 232.0,155.6 231.5,155.3 231.1,155.0 230.6,154.5 230.4,154.0 230.2,153.5 230.2,153.0 230.4,152.5 230.6,152.0 231.0,151.5 231.5,151.0 232.0,150.6 232.5,150.2 232.9,150.0 233.5,149.6 233.8,149.5 234.5,149.1 234.8,149.0 235.5,148.7 236.0,148.5 236.5,148.3 237.0,148.2 237.5,148.0 238.0,147.8 238.5,147.7 239.0,147.5 239.5,147.4 240.0,147.2 240.5,147.1 241.0,146.9 241.5,146.7 242.0,146.6 242.5,146.4 243.0,146.2 243.5,146.0 244.0,145.8 244.5,145.6 244.8,145.5 245.5,145.2 245.9,145.0 246.5,144.7 247.0,144.5 247.5,144.3 248.0,144.0 248.5,143.8 249.0,143.6 249.5,143.4 250.0,143.1 250.3,143.0 251.0,142.7 251.5,142.5 252.0,142.4 252.5,142.2 253.0,142.0 253.5,141.8 254.0,141.7 254.5,141.5 255.0,141.4 255.5,141.2 256.0,141.1 256.4,141.0 257.0,140.9 257.5,140.7 258.0,140.6 258.5,140.5 259.0,140.4 259.5,140.3 260.0,140.2 260.5,140.1 261.0,140.1 261.3,140.0 262.0,139.9 262.5,139.8 263.0,139.7 263.5,139.7 264.0,139.6 264.5,139.5 264.9,139.5 265.5,139.4 266.0,139.4 266.5,139.3 267.0,139.3 267.5,139.2 268.0,139.2 268.5,139.1 269.0,139.1 269.5,139.0 269.9,139.0 270.5,139.0 271.0,138.9 271.5,138.9 272.0,138.9 272.5,138.8 273.0,138.8 273.5,138.8 274.0,138.8 274.5,138.8 275.0,138.8 275.5,138.8 276.0,138.8 276.5,138.8 277.0,138.8 277.5,138.9 278.0,138.9 278.5,139.0 279.0,139.0 279.5,139.1 280.0,139.2 280.5,139.3 281.0,139.4 281.3,139.5 282.0,139.7 282.5,139.8 282.9,140.0 283.5,140.2 284.0,140.5 284.5,140.8 284.9,141.0 285.5,141.5 286.0,142.0 286.4,142.5 286.5,142.8 286.7,143.5 286.7,144.0 286.6,144.5 286.4,145.0 286.1,145.5 285.6,146.0 285.0,146.5 284.5,146.9 284.0,147.2 283.5,147.4 283.0,147.7 282.5,147.9 282.1,148.0 281.5,148.2 281.0,148.4 280.7,148.5 280.0,148.7 279.5,148.8 279.0,148.9 278.5,149.1 278.0,149.2 277.5,149.3 277.0,149.4 276.5,149.5 276.0,149.6 275.5,149.6 275.0,149.7 274.5,149.8 274.0,149.9 273.5,150.0 273.2,150.0 272.5,150.1 272.0,150.2 271.5,150.2 271.0,150.3 270.5,150.4 270.0,150.4 269.5,150.5 269.1,150.5 268.5,150.6 268.0,150.6 267.5,150.7 267.0,150.7 266.5,150.8 266.0,150.8 265.5,150.8 265.0,150.9 264.5,150.9 264.0,151.0 263.5,151.0 263.0,151.0 262.5,151.1 262.0,151.1 261.5,151.1 261.0,151.2 260.5,151.2 260.0,151.2 259.5,151.3 259.0,151.3 258.5,151.3 258.0,151.4 257.5,151.4 257.0,151.4 256.5,151.5 256.0,151.5 255.5,151.6 255.0,151.7 254.5,151.7 254.0,151.8 253.5,151.9 253.1,152.0 252.5,152.2 252.0,152.3 251.5,152.4 251.0,152.6 250.5,152.8 250.0,153.0 249.5,153.2 249.0,153.4 248.5,153.7 248.0,153.9 247.5,154.1 247.0,154.4 246.7,154.5 246.0,154.8 245.5,155.0 245.0,155.2 244.5,155.4 244.1,155.5 243.5,155.7 243.0,155.8 242.5,156.0 242.0,156.1 241.5,156.2 241.0,156.3 240.5,156.4 240.0,156.4 239.5,156.5 M309.5,194.6 309.0,194.7 308.5,194.6 308.0,194.5 307.5,194.4 307.0,194.2 306.6,194.0 306.0,193.7 305.6,193.5 305.0,193.2 304.5,193.0 304.0,192.7 303.5,192.5 303.0,192.2 302.7,192.0 302.0,191.5 301.5,191.1 301.0,190.7 300.5,190.1 300.0,189.5 299.7,189.0 299.5,188.7 299.1,188.0 298.9,187.5 298.7,187.0 298.5,186.5 298.4,186.0 298.3,185.5 298.2,185.0 298.1,184.5 298.1,184.0 298.0,183.5 298.0,183.0 298.1,182.5 298.1,182.0 298.2,181.5 298.3,181.0 298.4,180.5 298.5,180.2 298.8,179.5 299.0,179.0 299.3,178.5 299.5,178.2 300.0,177.6 300.5,177.1 301.0,176.7 301.4,176.5 302.0,176.2 302.5,176.1 302.9,176.0 303.5,176.0 304.0,176.0 304.5,176.1 305.0,176.2 305.5,176.4 306.0,176.6 306.5,176.9 307.0,177.2 307.3,177.5 307.9,178.0 308.3,178.5 308.7,179.0 309.0,179.3 309.5,180.0 309.8,180.5 310.0,180.9 310.3,181.5 310.5,182.0 310.7,182.5 310.9,183.0 311.1,183.5 311.3,184.0 311.4,184.5 311.5,184.9 311.6,185.5 311.7,186.0 311.8,186.5 311.9,187.0 312.0,187.5 312.0,188.0 312.0,188.5 312.0,189.0 312.0,189.5 312.0,190.0 312.0,190.5 311.9,191.0 311.8,191.5 311.7,192.0 311.5,192.5 311.3,193.0 311.0,193.5 310.6,194.0 310.0,194.4 309.5,194.6 M241.0,155.1 240.5,155.2 240.0,155.3 239.5,155.3 239.0,155.4 238.5,155.4 238.0,155.5 237.5,155.5 237.0,155.5 236.5,155.4 236.0,155.4 235.5,155.3 235.0,155.2 234.5,155.0 234.0,154.8 233.5,154.5 233.0,154.0 232.7,153.5 232.7,153.0 232.9,152.5 233.2,152.0 233.5,151.7 234.0,151.3 234.4,151.0 235.0,150.7 235.3,150.5 236.0,150.2 236.5,150.0 237.0,149.9 237.5,149.7 238.0,149.6 238.5,149.4 239.0,149.3 239.5,149.2 240.0,149.1 240.5,149.0 240.8,149.0 241.5,148.9 242.0,148.8 242.5,148.8 243.0,148.7 243.5,148.6 244.0,148.6 244.4,148.5 245.0,148.4 245.5,148.3 246.0,148.2 246.5,148.0 247.0,147.8 247.4,147.5 248.0,147.0 248.5,146.6 249.0,146.2 249.5,145.8 249.8,145.5 250.5,145.0 251.0,144.6 251.5,144.3 252.0,144.0 252.5,143.7 253.0,143.5 253.5,143.2 254.0,143.0 254.5,142.8 255.0,142.6 255.3,142.5 256.0,142.3 256.5,142.1 256.8,142.0 257.5,141.8 258.0,141.7 258.5,141.5 259.0,141.4 259.5,141.3 260.0,141.2 260.5,141.1 260.9,141.0 261.5,140.9 262.0,140.8 262.5,140.7 263.0,140.6 263.5,140.5 263.8,140.5 264.5,140.4 265.0,140.3 265.5,140.3 266.0,140.2 266.5,140.1 267.0,140.1 267.5,140.0 267.9,140.0 268.5,139.9 269.0,139.9 269.5,139.8 270.0,139.8 270.5,139.7 271.0,139.7 271.5,139.7 272.0,139.6 272.5,139.6 273.0,139.6 273.5,139.5 274.0,139.5 274.5,139.5 274.9,139.5 275.5,139.5 276.0,139.5 276.5,139.5 277.0,139.5 277.5,139.6 278.0,139.6 278.5,139.7 279.0,139.7 279.5,139.8 280.0,139.9 280.3,140.0 281.0,140.2 281.5,140.3 282.0,140.5 282.5,140.7 283.0,140.9 283.5,141.2 283.9,141.5 284.5,142.0 284.9,142.5 285.2,143.0 285.3,143.5 285.3,144.0 285.1,144.5 284.9,145.0 284.5,145.5 284.0,145.9 283.5,146.3 283.2,146.5 282.5,146.9 282.2,147.0 281.5,147.3 281.0,147.5 280.5,147.7 280.0,147.8 279.5,147.9 279.0,148.1 278.5,148.2 278.0,148.3 277.5,148.4 277.0,148.5 276.5,148.6 276.0,148.7 275.5,148.8 275.0,148.9 274.5,148.9 274.0,149.0 273.5,149.1 273.0,149.1 272.5,149.2 272.0,149.3 271.5,149.3 271.0,149.4 270.5,149.5 270.1,149.5 269.5,149.6 269.0,149.6 268.5,149.7 268.0,149.7 267.5,149.7 267.0,149.8 266.5,149.8 266.0,149.9 265.5,149.9 265.0,149.9 264.5,149.9 264.0,150.0 263.5,150.0 263.0,150.0 262.5,150.0 262.0,150.0 261.5,150.0 261.0,150.0 260.5,150.0 260.0,150.0 259.5,150.0 259.0,150.0 258.5,150.0 258.0,150.0 257.5,150.0 257.0,150.0 256.5,150.0 256.0,149.9 255.5,149.9 255.0,149.9 254.5,149.9 254.0,149.9 253.5,149.9 253.0,149.9 252.5,149.9 252.0,149.9 251.5,149.9 251.0,149.9 250.5,150.0 250.0,150.1 249.5,150.2 249.0,150.4 248.5,150.6 248.0,150.9 247.5,151.3 247.0,151.8 246.8,152.0 246.5,152.2 246.2,152.5 245.5,153.0 245.0,153.3 244.5,153.6 244.0,153.9 243.5,154.2 243.0,154.4 242.5,154.6 242.0,154.8 241.5,154.9 241.2,155.0 M310.0,193.0 309.5,193.3 309.0,193.4 308.5,193.3 308.0,193.2 307.6,193.0 307.0,192.7 306.7,192.5 306.0,192.1 305.5,191.8 305.0,191.6 304.5,191.3 304.0,191.0 303.5,190.8 303.1,190.5 302.5,190.1 302.0,189.7 301.8,189.5 301.5,189.2 301.3,189.0 301.0,188.7 300.5,188.0 300.2,187.5 300.0,187.0 299.8,186.5 299.6,186.0 299.5,185.5 299.4,185.0 299.3,184.5 299.3,184.0 299.2,183.5 299.3,183.0 299.3,182.5 299.4,182.0 299.5,181.5 299.6,181.0 299.8,180.5 300.0,180.1 300.4,179.5 300.8,179.0 301.0,178.7 301.3,178.5 302.0,178.0 302.5,177.8 303.0,177.7 303.5,177.7 304.0,177.7 304.5,177.7 305.0,177.9 305.5,178.1 306.0,178.3 306.5,178.7 306.9,179.0 307.5,179.5 307.9,180.0 308.3,180.5 308.7,181.0 309.0,181.4 309.3,182.0 309.5,182.3 309.9,183.0 310.0,183.3 310.3,184.0 310.5,184.5 310.6,185.0 310.8,185.5 310.9,186.0 311.0,186.3 311.1,187.0 311.2,187.5 311.3,188.0 311.3,188.5 311.3,189.0 311.3,189.5 311.3,190.0 311.2,190.5 311.1,191.0 311.0,191.5 310.8,192.0 310.5,192.5 310.0,193.0 M270.5,148.6 270.0,148.6 269.5,148.7 269.0,148.7 268.5,148.8 268.0,148.8 267.5,148.8 267.0,148.9 266.5,148.9 266.0,148.9 265.5,148.9 265.0,148.9 264.5,149.0 264.0,149.0 263.5,149.0 263.0,149.0 262.5,148.9 262.0,148.9 261.5,148.9 261.0,148.9 260.5,148.8 260.0,148.8 259.5,148.8 259.0,148.7 258.5,148.6 258.0,148.6 257.6,148.5 257.0,148.4 256.5,148.3 256.0,148.1 255.6,148.0 255.0,147.7 254.5,147.5 254.0,147.1 253.7,146.5 253.7,146.0 253.9,145.5 254.2,145.0 254.5,144.8 254.8,144.5 255.5,144.0 256.0,143.7 256.4,143.5 257.0,143.2 257.5,143.0 258.0,142.8 258.5,142.6 258.9,142.5 259.5,142.3 260.0,142.2 260.5,142.1 261.0,141.9 261.5,141.8 262.0,141.7 262.5,141.6 263.0,141.5 263.5,141.4 264.0,141.4 264.5,141.3 265.0,141.2 265.5,141.1 266.0,141.1 266.5,141.0 267.0,141.0 267.5,140.9 268.0,140.8 268.5,140.8 269.0,140.7 269.5,140.7 270.0,140.6 270.5,140.6 271.0,140.5 271.5,140.5 272.0,140.4 272.5,140.4 273.0,140.3 273.5,140.3 274.0,140.3 274.5,140.2 275.0,140.2 275.5,140.2 276.0,140.2 276.5,140.2 277.0,140.2 277.5,140.3 278.0,140.3 278.5,140.4 279.0,140.4 279.5,140.5 280.0,140.6 280.5,140.8 281.0,140.9 281.5,141.1 282.0,141.4 282.5,141.6 283.0,142.0 283.5,142.5 283.8,143.0 283.9,143.5 283.9,144.0 283.7,144.5 283.5,144.8 283.0,145.4 282.5,145.8 282.1,146.0 281.5,146.3 281.1,146.5 280.5,146.8 280.0,146.9 279.5,147.1 279.0,147.2 278.5,147.3 278.0,147.5 277.5,147.6 277.0,147.7 276.5,147.7 276.0,147.8 275.5,147.9 275.0,148.0 274.5,148.1 274.0,148.1 273.5,148.2 273.0,148.3 272.5,148.3 272.0,148.4 271.5,148.4 271.0,148.5 270.5,148.6 M239.0,154.1 238.5,154.1 238.0,154.2 237.5,154.1 237.0,154.1 236.6,154.0 236.0,153.7 235.7,153.5 235.5,153.0 235.7,152.5 236.0,152.2 236.3,152.0 237.0,151.7 237.4,151.5 238.0,151.3 238.5,151.3 239.0,151.2 239.5,151.2 240.0,151.2 240.5,151.2 241.0,151.4 241.4,151.5 241.9,152.0 241.9,152.5 241.5,153.0 241.0,153.4 240.5,153.6 240.0,153.8 239.5,154.0 239.0,154.1 M309.0,192.1 308.5,192.0 308.0,191.8 307.6,191.5 307.0,191.1 306.5,190.7 306.0,190.3 305.5,190.0 305.0,189.7 304.5,189.5 304.0,189.2 303.6,189.0 303.0,188.6 302.5,188.2 302.3,188.0 302.0,187.7 301.8,187.5 301.5,187.1 301.2,186.5 301.0,186.1 300.8,185.5 300.6,185.0 300.5,184.5 300.5,184.1 300.5,183.5 300.5,183.1 300.6,182.5 300.7,182.0 300.9,181.5 301.1,181.0 301.5,180.5 302.0,180.0 302.5,179.7 303.0,179.5 303.5,179.4 304.0,179.4 304.5,179.5 305.0,179.7 305.5,179.9 306.0,180.2 306.4,180.5 306.9,181.0 307.4,181.5 307.8,182.0 308.2,182.5 308.5,182.9 308.9,183.5 309.2,184.0 309.4,184.5 309.7,185.0 309.9,185.5 310.0,185.8 310.2,186.5 310.4,187.0 310.5,187.5 310.5,188.0 310.6,188.5 310.6,189.0 310.6,189.5 310.6,190.0 310.5,190.3 310.3,191.0 310.0,191.5 309.5,192.0 309.0,192.1 M271.5,147.5 271.0,147.6 270.5,147.6 270.0,147.7 269.5,147.7 269.0,147.8 268.5,147.8 268.0,147.9 267.5,147.9 267.0,147.9 266.5,148.0 266.0,148.0 265.5,148.0 265.0,148.0 264.5,148.0 264.0,148.0 263.5,147.9 263.0,147.9 262.5,147.9 262.0,147.8 261.5,147.8 261.0,147.7 260.5,147.6 260.0,147.5 259.5,147.4 259.0,147.2 258.5,147.0 258.0,146.7 257.7,146.5 257.5,146.2 257.3,145.5 257.5,145.0 257.9,144.5 258.5,144.1 259.0,143.8 259.5,143.6 260.0,143.4 260.5,143.2 261.0,143.0 261.5,142.9 262.0,142.7 262.5,142.6 262.9,142.5 263.5,142.4 264.0,142.3 264.5,142.2 265.0,142.1 265.5,142.0 265.8,142.0 266.5,141.9 267.0,141.8 267.5,141.8 268.0,141.7 268.5,141.7 269.0,141.6 269.5,141.6 270.0,141.5 270.5,141.4 271.0,141.4 271.5,141.3 272.0,141.3 272.5,141.2 273.0,141.1 273.5,141.1 274.0,141.0 274.4,141.0 275.0,141.0 275.5,140.9 276.0,140.9 276.5,140.9 277.0,140.9 277.5,140.9 278.0,141.0 278.5,141.1 279.0,141.1 279.5,141.2 280.0,141.4 280.4,141.5 281.0,141.8 281.4,142.0 282.0,142.4 282.4,143.0 282.6,143.5 282.6,144.0 282.3,144.5 282.0,144.9 281.5,145.3 281.2,145.5 280.5,145.8 280.1,146.0 279.5,146.2 279.0,146.4 278.5,146.5 278.0,146.6 277.5,146.7 277.0,146.8 276.5,146.9 276.0,146.9 275.6,147.0 275.0,147.1 274.5,147.1 274.0,147.2 273.5,147.3 273.0,147.3 272.5,147.4 272.0,147.5 271.6,147.5 M309.5,190.5 309.0,190.8 308.5,190.6 308.0,190.2 307.5,189.6 307.0,189.0 306.6,188.5 306.1,188.0 305.5,187.7 305.0,187.5 304.5,187.4 304.0,187.2 303.6,187.0 303.0,186.6 302.5,186.0 302.2,185.5 302.0,185.0 301.9,184.5 301.8,184.0 301.8,183.5 301.9,183.0 302.0,182.7 302.4,182.0 302.9,181.5 303.5,181.3 304.0,181.3 304.5,181.4 305.0,181.7 305.5,182.0 306.0,182.5 306.4,183.0 306.9,183.5 307.3,184.0 307.5,184.3 307.7,184.5 308.0,184.8 308.5,185.4 308.9,186.0 309.2,186.5 309.5,187.0 309.7,187.5 309.8,188.0 309.9,188.5 309.9,189.0 309.9,189.5 309.8,190.0 309.5,190.5 M266.5,147.0 266.0,147.0 265.5,147.0 265.0,147.0 264.5,147.0 264.0,146.9 263.5,146.9 263.0,146.8 262.5,146.7 262.0,146.6 261.5,146.4 261.0,146.1 260.5,145.6 260.5,145.0 260.9,144.5 261.5,144.1 262.0,143.9 262.5,143.7 263.0,143.5 263.5,143.4 264.0,143.3 264.5,143.2 265.0,143.1 265.5,143.0 266.0,142.9 266.5,142.9 267.0,142.8 267.5,142.8 268.0,142.7 268.5,142.7 269.0,142.6 269.5,142.6 270.0,142.5 270.5,142.5 271.0,142.4 271.5,142.3 272.0,142.3 272.5,142.2 273.0,142.1 273.4,142.0 274.0,141.9 274.5,141.8 275.0,141.7 275.5,141.7 276.0,141.6 276.5,141.6 277.0,141.6 277.5,141.6 278.0,141.7 278.5,141.7 279.0,141.8 279.5,142.0 280.0,142.2 280.5,142.4 281.0,142.9 281.3,143.5 281.2,144.0 281.0,144.3 280.5,144.8 280.2,145.0 279.5,145.3 279.0,145.5 278.5,145.6 278.0,145.7 277.5,145.8 277.0,145.9 276.5,146.0 276.1,146.0 275.5,146.1 275.0,146.1 274.5,146.1 274.0,146.2 273.5,146.2 273.0,146.3 272.5,146.4 272.0,146.4 271.5,146.5 271.0,146.6 270.5,146.6 270.0,146.7 269.5,146.8 269.0,146.8 268.5,146.9 268.0,146.9 267.5,147.0 267.0,147.0 266.6,147.0 M269.0,145.6 268.5,145.7 268.0,145.8 267.5,145.8 267.0,145.9 266.5,145.9 266.0,145.9 265.5,145.9 265.0,145.8 264.5,145.7 264.0,145.6 263.6,145.0 264.0,144.7 264.5,144.4 265.0,144.2 265.5,144.1 266.0,144.0 266.5,144.0 267.0,143.9 267.5,143.9 268.0,143.9 268.5,143.9 269.0,143.9 269.5,144.0 269.9,144.0 270.5,144.1 271.0,144.2 271.5,144.3 272.0,144.3 272.3,144.0 273.0,143.7 273.3,143.5 274.0,143.2 274.3,143.0 275.0,142.8 275.5,142.6 275.8,142.5 276.5,142.4 277.0,142.3 277.5,142.3 278.0,142.4 278.5,142.4 279.0,142.6 279.5,142.8 280.0,143.5 279.9,144.0 279.5,144.3 279.2,144.5 278.5,144.8 278.0,144.9 277.5,144.9 277.0,145.0 276.5,145.0 276.0,145.0 275.5,144.9 275.0,144.9 274.5,144.8 274.0,144.7 273.5,144.7 273.0,144.6 272.5,144.5 272.0,144.5 271.5,144.6 271.0,144.8 270.5,145.1 270.0,145.2 269.5,145.4 269.0,145.6 M278.0,143.8 277.5,143.9 277.0,143.6 277.5,143.3 278.0,143.3 278.5,143.5 278.0,143.8" fill="none" stroke="#1a1a1a" stroke-width="0.8" stroke-linejoin="round"/>
<path d="M270.3,130.0h1.1v1.1h-1.1zM269.0,128.0h1.1v1.1h-1.1zM305.6,141.5h1.1v1.1h-1.1zM276.8,131.5h1.1v1.1h-1.1zM303.2,214.1h1.1v1.1h-1.1zM226.7,136.4h1.1v1.1h-1.1zM321.7,157.2h1.1v1.1h-1.1zM328.1,176.2h1.1v1.1h-1.1zM309.6,161.1h1.1v1.1h-1.1zM221.4,130.5h1.1v1.1h-1.1zM315.6,207.9h1.1v1.1h-1.1zM323.1,199.8h1.1v1.1h-1.1zM275.4,177.9h1.1v1.1h-1.1zM288.4,194.0h1.1v1.1h-1.1zM321.2,192.5h1.1v1.1h-1.1zM320.0,212.4h1.1v1.1h-1.1zM240.4,173.7h1.1v1.1h-1.1zM325.2,163.3h1.1v1.1h-1.1zM284.3,128.5h1.1v1.1h-1.1zM301.9,135.0h1.1v1.1h-1.1zM313.0,159.0h1.1v1.1h-1.1zM243.2,167.0h1.1v1.1h-1.1zM300.3,211.2h1.1v1.1h-1.1zM265.0,169.7h1.1v1.1h-1.1zM302.0,214.0h1.1v1.1h-1.1zM302.3,217.3h1.1v1.1h-1.1zM314.0,143.9h1.1v1.1h-1.1zM315.0,163.7h1.1v1.1h-1.1zM255.5,170.5h1.1v1.1h-1.1zM288.4,190.3h1.1v1.1h-1.1zM311.1,207.8h1.1v1.1h-1.1zM291.1,133.9h1.1v1.1h-1.1zM283.4,203.2h1.1v1.1h-1.1zM290.6,201.6h1.1v1.1h-1.1zM274.7,159.2h1.1v1.1h-1.1zM240.3,170.3h1.1v1.1h-1.1zM296.8,134.5h1.1v1.1h-1.1zM321.0,152.7h1.1v1.1h-1.1zM287.8,132.3h1.1v1.1h-1.1zM323.4,145.5h1.1v1.1h-1.1zM289.6,202.1h1.1v1.1h-1.1zM291.7,204.9h1.1v1.1h-1.1zM240.4,172.7h1.1v1.1h-1.1zM310.5,161.4h1.1v1.1h-1.1zM319.8,195.8h1.1v1.1h-1.1zM315.5,205.5h1.1v1.1h-1.1zM317.5,204.6h1.1v1.1h-1.1zM273.3,159.7h1.1v1.1h-1.1zM286.2,175.6h1.1v1.1h-1.1zM286.2,195.2h1.1v1.1h-1.1zM306.1,156.9h1.1v1.1h-1.1zM322.2,191.1h1.1v1.1h-1.1zM262.9,166.4h1.1v1.1h-1.1zM310.3,151.6h1.1v1.1h-1.1zM323.4,173.0h1.1v1.1h-1.1zM309.9,139.1h1.1v1.1h-1.1zM245.5,166.0h1.1v1.1h-1.1zM311.9,144.6h1.1v1.1h-1.1zM261.1,169.5h1.1v1.1h-1.1zM268.6,165.3h1.1v1.1h-1.1zM288.6,131.5h1.1v1.1h-1.1zM275.7,169.4h1.1v1.1h-1.1zM265.1,125.5h1.1v1.1h-1.1zM263.0,162.7h1.1v1.1h-1.1zM240.0,132.7h1.1v1.1h-1.1zM291.1,132.4h1.1v1.1h-1.1zM245.6,166.1h1.1v1.1h-1.1zM321.8,188.9h1.1v1.1h-1.1zM305.8,154.2h1.1v1.1h-1.1zM225.6,166.9h1.1v1.1h-1.1zM282.1,160.2h1.1v1.1h-1.1zM294.0,206.5h1.1v1.1h-1.1zM269.9,131.8h1.1v1.1h-1.1zM249.6,165.6h1.1v1.1h-1.1zM283.9,163.0h1.1v1.1h-1.1zM314.7,140.2h1.1v1.1h-1.1zM307.2,142.1h1.1v1.1h-1.1zM242.7,130.0h1.1v1.1h-1.1zM273.4,128.6h1.1v1.1h-1.1zM304.4,150.9h1.1v1.1h-1.1zM300.9,134.4h1.1v1.1h-1.1zM311.2,146.3h1.1v1.1h-1.1zM249.5,132.5h1.1v1.1h-1.1zM323.7,178.3h1.1v1.1h-1.1zM275.6,159.0h1.1v1.1h-1.1zM323.0,171.3h1.1v1.1h-1.1zM295.3,211.5h1.1v1.1h-1.1zM301.1,138.3h1.1v1.1h-1.1zM239.8,133.6h1.1v1.1h-1.1zM228.7,172.2h1.1v1.1h-1.1zM299.0,137.2h1.1v1.1h-1.1zM262.8,170.0h1.1v1.1h-1.1zM306.1,136.8h1.1v1.1h-1.1zM318.4,212.7h1.1v1.1h-1.1zM286.2,199.4h1.1v1.1h-1.1zM317.9,171.8h1.1v1.1h-1.1zM297.3,204.0h1.1v1.1h-1.1zM312.9,165.0h1.1v1.1h-1.1zM320.2,147.7h1.1v1.1h-1.1zM254.0,166.8h1.1v1.1h-1.1zM286.0,162.6h1.1v1.1h-1.1zM292.1,200.8h1.1v1.1h-1.1zM265.3,127.3h1.1v1.1h-1.1zM286.4,176.6h1.1v1.1h-1.1zM243.3,172.4h1.1v1.1h-1.1zM280.5,132.1h1.1v1.1h-1.1zM316.2,166.0h1.1v1.1h-1.1zM318.5,141.9h1.1v1.1h-1.1zM322.7,170.3h1.1v1.1h-1.1zM255.9,130.9h1.1v1.1h-1.1zM287.2,201.6h1.1v1.1h-1.1zM307.4,133.0h1.1v1.1h-1.1zM321.9,195.5h1.1v1.1h-1.1zM303.7,153.5h1.1v1.1h-1.1zM312.6,208.8h1.1v1.1h-1.1zM295.1,133.0h1.1v1.1h-1.1zM317.2,154.7h1.1v1.1h-1.1zM317.8,211.6h1.1v1.1h-1.1zM324.3,189.6h1.1v1.1h-1.1zM237.2,133.2h1.1v1.1h-1.1zM281.4,184.7h1.1v1.1h-1.1zM253.5,131.0h1.1v1.1h-1.1zM289.1,192.6h1.1v1.1h-1.1zM279.8,159.5h1.1v1.1h-1.1zM268.9,125.9h1.1v1.1h-1.1zM278.0,171.6h1.1v1.1h-1.1zM321.6,141.6h1.1v1.1h-1.1zM321.9,210.2h1.1v1.1h-1.1zM224.9,135.1h1.1v1.1h-1.1zM291.2,204.1h1.1v1.1h-1.1zM321.9,150.6h1.1v1.1h-1.1zM305.8,148.4h1.1v1.1h-1.1zM317.8,138.0h1.1v1.1h-1.1zM308.5,210.4h1.1v1.1h-1.1zM317.3,203.2h1.1v1.1h-1.1zM326.8,184.3h1.1v1.1h-1.1zM224.0,136.7h1.1v1.1h-1.1zM319.1,174.3h1.1v1.1h-1.1zM284.6,195.9h1.1v1.1h-1.1zM302.3,136.6h1.1v1.1h-1.1zM279.1,179.4h1.1v1.1h-1.1zM237.9,131.4h1.1v1.1h-1.1zM315.9,203.8h1.1v1.1h-1.1zM279.3,182.3h1.1v1.1h-1.1zM310.0,146.5h1.1v1.1h-1.1zM314.6,167.2h1.1v1.1h-1.1zM284.4,162.2h1.1v1.1h-1.1zM288.3,197.0h1.1v1.1h-1.1zM239.7,133.7h1.1v1.1h-1.1zM327.7,196.9h1.1v1.1h-1.1zM225.8,132.3h1.1v1.1h-1.1zM323.2,193.3h1.1v1.1h-1.1zM263.9,132.0h1.1v1.1h-1.1zM235.9,135.4h1.1v1.1h-1.1zM313.3,158.5h1.1v1.1h-1.1zM310.7,152.1h1.1v1.1h-1.1zM304.3,215.5h1.1v1.1h-1.1zM320.2,189.4h1.1v1.1h-1.1zM236.5,171.2h1.1v1.1h-1.1zM300.0,132.7h1.1v1.1h-1.1zM224.3,140.1h1.1v1.1h-1.1zM305.1,147.2h1.1v1.1h-1.1zM312.7,154.5h1.1v1.1h-1.1zM279.9,194.9h1.1v1.1h-1.1zM308.6,152.7h1.1v1.1h-1.1zM262.9,165.0h1.1v1.1h-1.1zM317.5,169.8h1.1v1.1h-1.1zM237.4,134.9h1.1v1.1h-1.1zM306.7,134.1h1.1v1.1h-1.1zM221.7,135.0h1.1v1.1h-1.1zM309.8,207.6h1.1v1.1h-1.1zM277.5,163.1h1.1v1.1h-1.1zM278.0,189.6h1.1v1.1h-1.1zM283.2,200.7h1.1v1.1h-1.1zM240.9,129.3h1.1v1.1h-1.1zM289.1,195.7h1.1v1.1h-1.1zM287.8,172.4h1.1v1.1h-1.1zM261.1,169.4h1.1v1.1h-1.1zM289.2,129.6h1.1v1.1h-1.1zM245.5,168.8h1.1v1.1h-1.1zM280.5,128.0h1.1v1.1h-1.1zM259.4,127.3h1.1v1.1h-1.1zM326.7,175.6h1.1v1.1h-1.1zM287.0,171.4h1.1v1.1h-1.1zM280.5,164.1h1.1v1.1h-1.1zM269.2,161.8h1.1v1.1h-1.1zM280.5,160.1h1.1v1.1h-1.1zM299.4,211.2h1.1v1.1h-1.1zM222.9,168.0h1.1v1.1h-1.1zM319.3,198.0h1.1v1.1h-1.1zM295.0,202.6h1.1v1.1h-1.1zM253.0,172.4h1.1v1.1h-1.1zM248.3,173.3h1.1v1.1h-1.1zM309.7,150.3h1.1v1.1h-1.1zM267.4,126.9h1.1v1.1h-1.1zM313.9,154.3h1.1v1.1h-1.1zM261.8,163.0h1.1v1.1h-1.1zM320.7,214.9h1.1v1.1h-1.1zM285.3,132.7h1.1v1.1h-1.1zM312.5,145.3h1.1v1.1h-1.1zM318.8,151.2h1.1v1.1h-1.1zM282.7,159.3h1.1v1.1h-1.1zM261.3,162.2h1.1v1.1h-1.1zM324.3,173.5h1.1v1.1h-1.1zM313.5,160.5h1.1v1.1h-1.1zM253.6,132.2h1.1v1.1h-1.1zM281.7,162.3h1.1v1.1h-1.1zM283.4,126.5h1.1v1.1h-1.1zM277.0,169.0h1.1v1.1h-1.1zM312.2,206.7h1.1v1.1h-1.1zM229.9,132.5h1.1v1.1h-1.1zM266.4,168.9h1.1v1.1h-1.1zM276.8,178.7h1.1v1.1h-1.1zM289.3,213.8h1.1v1.1h-1.1zM286.7,203.8h1.1v1.1h-1.1zM324.2,204.9h1.1v1.1h-1.1zM312.3,206.7h1.1v1.1h-1.1zM316.2,203.3h1.1v1.1h-1.1zM308.4,142.5h1.1v1.1h-1.1zM242.4,172.8h1.1v1.1h-1.1zM317.6,157.9h1.1v1.1h-1.1zM240.7,166.2h1.1v1.1h-1.1zM275.5,131.5h1.1v1.1h-1.1zM246.8,169.4h1.1v1.1h-1.1zM311.0,141.5h1.1v1.1h-1.1zM324.4,191.4h1.1v1.1h-1.1zM295.1,202.5h1.1v1.1h-1.1zM288.8,192.2h1.1v1.1h-1.1zM287.2,133.0h1.1v1.1h-1.1zM285.6,131.8h1.1v1.1h-1.1zM288.8,203.9h1.1v1.1h-1.1zM285.0,198.2h1.1v1.1h-1.1zM311.0,206.8h1.1v1.1h-1.1zM284.7,131.3h1.1v1.1h-1.1zM318.9,173.0h1.1v1.1h-1.1zM319.4,206.4h1.1v1.1h-1.1zM280.5,173.2h1.1v1.1h-1.1zM263.6,164.6h1.1v1.1h-1.1zM248.2,126.0h1.1v1.1h-1.1zM266.1,169.0h1.1v1.1h-1.1zM249.0,125.6h1.1v1.1h-1.1zM322.0,173.8h1.1v1.1h-1.1zM319.8,212.6h1.1v1.1h-1.1zM312.5,145.0h1.1v1.1h-1.1zM297.4,213.0h1.1v1.1h-1.1zM221.0,168.5h1.1v1.1h-1.1zM311.1,207.4h1.1v1.1h-1.1zM238.1,170.9h1.1v1.1h-1.1zM305.0,146.2h1.1v1.1h-1.1zM274.5,161.3h1.1v1.1h-1.1zM282.6,179.4h1.1v1.1h-1.1zM259.4,165.4h1.1v1.1h-1.1zM226.2,167.9h1.1v1.1h-1.1zM321.2,178.5h1.1v1.1h-1.1zM221.1,171.5h1.1v1.1h-1.1zM288.9,166.3h1.1v1.1h-1.1zM318.7,176.7h1.1v1.1h-1.1zM292.8,199.8h1.1v1.1h-1.1zM260.9,166.7h1.1v1.1h-1.1zM253.8,128.0h1.1v1.1h-1.1zM297.4,216.7h1.1v1.1h-1.1zM222.9,166.5h1.1v1.1h-1.1zM283.5,163.1h1.1v1.1h-1.1zM276.3,127.7h1.1v1.1h-1.1zM301.2,131.4h1.1v1.1h-1.1zM257.8,131.1h1.1v1.1h-1.1zM299.2,130.1h1.1v1.1h-1.1zM221.2,168.2h1.1v1.1h-1.1zM283.5,132.3h1.1v1.1h-1.1zM297.9,133.8h1.1v1.1h-1.1zM233.1,167.2h1.1v1.1h-1.1zM310.9,155.2h1.1v1.1h-1.1zM305.3,140.3h1.1v1.1h-1.1zM322.3,182.3h1.1v1.1h-1.1zM274.1,160.6h1.1v1.1h-1.1zM255.8,130.4h1.1v1.1h-1.1zM297.4,136.7h1.1v1.1h-1.1zM322.6,172.7h1.1v1.1h-1.1zM322.2,197.7h1.1v1.1h-1.1zM316.6,162.0h1.1v1.1h-1.1zM295.5,135.1h1.1v1.1h-1.1zM323.9,177.5h1.1v1.1h-1.1zM306.6,152.4h1.1v1.1h-1.1zM297.9,214.4h1.1v1.1h-1.1zM227.1,166.2h1.1v1.1h-1.1zM261.7,170.0h1.1v1.1h-1.1zM257.2,164.7h1.1v1.1h-1.1zM278.0,128.8h1.1v1.1h-1.1zM278.5,126.9h1.1v1.1h-1.1zM260.5,129.8h1.1v1.1h-1.1zM226.6,135.3h1.1v1.1h-1.1zM306.2,137.2h1.1v1.1h-1.1zM279.0,159.5h1.1v1.1h-1.1zM238.5,126.5h1.1v1.1h-1.1zM246.2,168.1h1.1v1.1h-1.1zM236.5,173.5h1.1v1.1h-1.1zM303.0,216.0h1.1v1.1h-1.1zM266.0,166.5h1.1v1.1h-1.1zM286.1,199.3h1.1v1.1h-1.1zM281.8,168.0h1.1v1.1h-1.1zM312.5,208.4h1.1v1.1h-1.1zM320.3,138.9h1.1v1.1h-1.1zM284.1,187.0h1.1v1.1h-1.1zM221.6,166.8h1.1v1.1h-1.1zM312.3,153.7h1.1v1.1h-1.1zM284.5,132.2h1.1v1.1h-1.1zM320.8,185.2h1.1v1.1h-1.1zM283.7,191.7h1.1v1.1h-1.1zM315.2,160.9h1.1v1.1h-1.1zM265.2,162.9h1.1v1.1h-1.1zM313.7,152.5h1.1v1.1h-1.1zM265.0,168.6h1.1v1.1h-1.1zM226.0,175.2h1.1v1.1h-1.1zM318.9,160.8h1.1v1.1h-1.1zM303.5,207.5h1.1v1.1h-1.1zM279.6,166.2h1.1v1.1h-1.1zM260.2,167.9h1.1v1.1h-1.1zM293.6,129.1h1.1v1.1h-1.1zM298.6,211.8h1.1v1.1h-1.1zM288.0,162.8h1.1v1.1h-1.1zM272.1,131.3h1.1v1.1h-1.1zM293.5,208.5h1.1v1.1h-1.1zM302.6,211.8h1.1v1.1h-1.1zM311.9,146.0h1.1v1.1h-1.1zM315.5,139.1h1.1v1.1h-1.1zM320.8,171.6h1.1v1.1h-1.1zM302.9,215.2h1.1v1.1h-1.1zM303.0,136.5h1.1v1.1h-1.1zM310.1,149.2h1.1v1.1h-1.1zM295.6,207.1h1.1v1.1h-1.1zM288.1,166.2h1.1v1.1h-1.1zM249.9,132.1h1.1v1.1h-1.1zM253.4,173.7h1.1v1.1h-1.1zM273.3,125.6h1.1v1.1h-1.1zM286.2,165.0h1.1v1.1h-1.1zM249.4,167.4h1.1v1.1h-1.1zM292.9,132.2h1.1v1.1h-1.1zM321.1,192.1h1.1v1.1h-1.1zM295.7,131.9h1.1v1.1h-1.1zM320.3,168.0h1.1v1.1h-1.1zM268.2,169.3h1.1v1.1h-1.1zM278.1,128.2h1.1v1.1h-1.1zM273.1,163.0h1.1v1.1h-1.1zM300.9,211.0h1.1v1.1h-1.1zM254.3,130.4h1.1v1.1h-1.1zM300.7,134.5h1.1v1.1h-1.1zM316.5,208.1h1.1v1.1h-1.1zM289.8,205.2h1.1v1.1h-1.1zM229.5,130.9h1.1v1.1h-1.1zM284.8,175.4h1.1v1.1h-1.1zM258.0,168.1h1.1v1.1h-1.1zM254.8,132.4h1.1v1.1h-1.1zM242.3,166.4h1.1v1.1h-1.1zM262.0,128.6h1.1v1.1h-1.1zM315.3,138.7h1.1v1.1h-1.1zM310.4,146.7h1.1v1.1h-1.1zM316.4,205.8h1.1v1.1h-1.1zM311.7,132.1h1.1v1.1h-1.1zM284.0,201.1h1.1v1.1h-1.1zM306.1,153.1h1.1v1.1h-1.1zM239.0,174.9h1.1v1.1h-1.1zM271.6,127.9h1.1v1.1h-1.1zM263.2,161.6h1.1v1.1h-1.1zM313.8,148.7h1.1v1.1h-1.1zM257.9,129.9h1.1v1.1h-1.1zM229.2,133.3h1.1v1.1h-1.1zM304.9,145.8h1.1v1.1h-1.1zM317.5,150.1h1.1v1.1h-1.1zM310.7,160.7h1.1v1.1h-1.1zM296.5,126.6h1.1v1.1h-1.1zM329.6,180.5h1.1v1.1h-1.1zM285.0,167.8h1.1v1.1h-1.1zM298.6,206.4h1.1v1.1h-1.1zM317.1,203.5h1.1v1.1h-1.1zM298.8,133.6h1.1v1.1h-1.1zM225.4,167.3h1.1v1.1h-1.1zM312.0,208.7h1.1v1.1h-1.1zM233.7,136.4h1.1v1.1h-1.1zM255.8,129.9h1.1v1.1h-1.1zM223.7,136.0h1.1v1.1h-1.1z" fill="#000"/>
<path d="M220.5,136 L223.5,136.5 L224,170 L220.5,171 Z" fill="#222"/>
<path d="M221,137.5 C240,136 262,134 285,133.2 C292,133 297,135 299,139" fill="none" stroke="#111" stroke-width="1.6" stroke-opacity="0.85"/>
<path d="M221,139.5 C240,138 262,136.3 285,135.5 C291,135.3 295,137 297,140" fill="none" stroke="#333" stroke-width="0.9" stroke-opacity="0.7"/>
<path d="M272.3,133.4h1.1v1.1h-1.1zM224.0,135.2h1.1v1.1h-1.1zM287.0,130.9h1.1v1.1h-1.1zM263.8,133.6h1.1v1.1h-1.1zM241.1,133.3h1.1v1.1h-1.1zM240.0,135.3h1.1v1.1h-1.1zM250.5,135.1h1.1v1.1h-1.1zM227.8,134.4h1.1v1.1h-1.1zM241.0,133.3h1.1v1.1h-1.1zM233.1,131.1h1.1v1.1h-1.1zM245.3,133.6h1.1v1.1h-1.1zM280.3,131.7h1.1v1.1h-1.1zM237.4,136.3h1.1v1.1h-1.1zM288.2,132.0h1.1v1.1h-1.1zM235.8,133.0h1.1v1.1h-1.1zM265.7,133.4h1.1v1.1h-1.1zM265.4,132.0h1.1v1.1h-1.1zM268.3,135.5h1.1v1.1h-1.1zM277.6,131.5h1.1v1.1h-1.1zM254.4,130.9h1.1v1.1h-1.1zM243.0,136.1h1.1v1.1h-1.1zM229.9,133.8h1.1v1.1h-1.1zM276.6,133.1h1.1v1.1h-1.1zM247.4,133.9h1.1v1.1h-1.1zM232.8,133.1h1.1v1.1h-1.1zM237.0,132.7h1.1v1.1h-1.1zM268.9,132.2h1.1v1.1h-1.1zM259.8,133.5h1.1v1.1h-1.1zM291.0,132.5h1.1v1.1h-1.1zM264.4,134.2h1.1v1.1h-1.1zM243.9,132.0h1.1v1.1h-1.1zM240.0,133.7h1.1v1.1h-1.1zM290.9,130.4h1.1v1.1h-1.1zM276.0,133.2h1.1v1.1h-1.1zM281.1,129.3h1.1v1.1h-1.1zM222.5,135.9h1.1v1.1h-1.1zM237.3,133.8h1.1v1.1h-1.1zM241.6,133.3h1.1v1.1h-1.1zM264.8,135.3h1.1v1.1h-1.1zM257.0,133.0h1.1v1.1h-1.1zM235.1,134.8h1.1v1.1h-1.1zM282.2,131.5h1.1v1.1h-1.1zM238.2,134.0h1.1v1.1h-1.1zM269.9,133.1h1.1v1.1h-1.1zM234.9,136.9h1.1v1.1h-1.1zM245.0,135.6h1.1v1.1h-1.1zM253.1,133.1h1.1v1.1h-1.1zM277.5,132.5h1.1v1.1h-1.1zM237.5,136.7h1.1v1.1h-1.1zM256.3,136.5h1.1v1.1h-1.1zM267.4,130.3h1.1v1.1h-1.1zM253.5,135.4h1.1v1.1h-1.1zM273.4,132.0h1.1v1.1h-1.1zM282.6,131.4h1.1v1.1h-1.1zM222.7,136.2h1.1v1.1h-1.1zM265.5,131.6h1.1v1.1h-1.1zM270.4,133.2h1.1v1.1h-1.1zM284.2,132.2h1.1v1.1h-1.1zM228.3,134.5h1.1v1.1h-1.1zM241.5,135.9h1.1v1.1h-1.1zM239.6,134.2h1.1v1.1h-1.1zM287.5,131.3h1.1v1.1h-1.1zM233.2,135.7h1.1v1.1h-1.1zM228.4,137.2h1.1v1.1h-1.1zM230.1,136.4h1.1v1.1h-1.1zM291.1,130.1h1.1v1.1h-1.1zM226.4,134.4h1.1v1.1h-1.1zM225.5,135.3h1.1v1.1h-1.1zM250.2,135.1h1.1v1.1h-1.1zM245.9,133.1h1.1v1.1h-1.1zM261.6,132.8h1.1v1.1h-1.1zM254.9,130.4h1.1v1.1h-1.1zM247.8,134.4h1.1v1.1h-1.1zM266.9,133.4h1.1v1.1h-1.1zM245.1,136.6h1.1v1.1h-1.1zM257.1,133.8h1.1v1.1h-1.1zM279.2,134.5h1.1v1.1h-1.1zM279.4,129.8h1.1v1.1h-1.1zM274.6,131.4h1.1v1.1h-1.1zM270.4,133.1h1.1v1.1h-1.1zM249.6,133.5h1.1v1.1h-1.1zM259.9,131.8h1.1v1.1h-1.1zM257.8,135.2h1.1v1.1h-1.1zM282.6,131.4h1.1v1.1h-1.1zM238.2,136.0h1.1v1.1h-1.1zM250.6,133.2h1.1v1.1h-1.1zM257.7,137.0h1.1v1.1h-1.1zM240.0,133.9h1.1v1.1h-1.1zM259.0,134.0h1.1v1.1h-1.1zM249.4,136.4h1.1v1.1h-1.1zM271.4,132.6h1.1v1.1h-1.1zM222.7,135.8h1.1v1.1h-1.1zM248.2,133.1h1.1v1.1h-1.1zM252.8,132.3h1.1v1.1h-1.1zM248.3,134.1h1.1v1.1h-1.1zM251.0,133.8h1.1v1.1h-1.1zM241.5,136.0h1.1v1.1h-1.1zM266.8,134.5h1.1v1.1h-1.1zM231.8,136.1h1.1v1.1h-1.1zM279.0,129.0h1.1v1.1h-1.1zM253.6,136.0h1.1v1.1h-1.1zM244.5,133.7h1.1v1.1h-1.1zM230.2,134.6h1.1v1.1h-1.1zM278.1,133.2h1.1v1.1h-1.1zM285.7,134.7h1.1v1.1h-1.1zM241.4,132.8h1.1v1.1h-1.1zM232.5,135.9h1.1v1.1h-1.1zM267.3,128.6h1.1v1.1h-1.1zM264.1,130.8h1.1v1.1h-1.1zM278.3,130.6h1.1v1.1h-1.1z" fill="#111"/>
<path d="M283.1,194.0h1.1v1.1h-1.1zM288.2,209.8h1.1v1.1h-1.1zM268.2,191.1h1.1v1.1h-1.1zM261.1,195.4h1.1v1.1h-1.1zM234.6,182.7h1.1v1.1h-1.1zM274.6,195.9h1.1v1.1h-1.1zM271.0,204.2h1.1v1.1h-1.1zM243.6,183.4h1.1v1.1h-1.1zM294.1,195.1h1.1v1.1h-1.1zM225.6,185.1h1.1v1.1h-1.1zM271.8,204.5h1.1v1.1h-1.1zM233.6,173.5h1.1v1.1h-1.1zM269.1,213.1h1.1v1.1h-1.1zM260.6,199.3h1.1v1.1h-1.1zM253.7,183.0h1.1v1.1h-1.1zM242.6,187.1h1.1v1.1h-1.1zM292.5,197.8h1.1v1.1h-1.1zM277.7,204.1h1.1v1.1h-1.1zM278.9,205.2h1.1v1.1h-1.1zM233.3,180.7h1.1v1.1h-1.1zM268.7,196.5h1.1v1.1h-1.1zM272.6,195.4h1.1v1.1h-1.1zM251.2,186.9h1.1v1.1h-1.1zM280.6,208.9h1.1v1.1h-1.1zM256.1,183.6h1.1v1.1h-1.1zM244.4,184.4h1.1v1.1h-1.1zM281.6,195.6h1.1v1.1h-1.1zM249.8,186.6h1.1v1.1h-1.1zM277.0,197.6h1.1v1.1h-1.1zM250.6,182.9h1.1v1.1h-1.1zM249.4,189.9h1.1v1.1h-1.1zM261.1,194.2h1.1v1.1h-1.1zM272.5,203.5h1.1v1.1h-1.1zM283.2,200.4h1.1v1.1h-1.1zM247.7,201.5h1.1v1.1h-1.1zM267.8,195.2h1.1v1.1h-1.1zM274.5,197.3h1.1v1.1h-1.1zM290.0,202.2h1.1v1.1h-1.1zM261.3,189.6h1.1v1.1h-1.1zM249.8,191.7h1.1v1.1h-1.1zM237.9,189.2h1.1v1.1h-1.1zM280.6,205.3h1.1v1.1h-1.1zM267.1,200.7h1.1v1.1h-1.1zM283.5,192.4h1.1v1.1h-1.1zM281.6,208.0h1.1v1.1h-1.1zM274.7,190.4h1.1v1.1h-1.1zM251.3,190.7h1.1v1.1h-1.1zM251.5,190.3h1.1v1.1h-1.1zM257.0,186.5h1.1v1.1h-1.1zM279.5,196.0h1.1v1.1h-1.1zM241.8,182.7h1.1v1.1h-1.1zM241.6,190.0h1.1v1.1h-1.1zM224.5,184.7h1.1v1.1h-1.1zM253.5,197.5h1.1v1.1h-1.1zM250.4,193.6h1.1v1.1h-1.1zM239.6,175.8h1.1v1.1h-1.1zM290.8,203.3h1.1v1.1h-1.1zM288.3,211.0h1.1v1.1h-1.1zM267.5,196.1h1.1v1.1h-1.1zM255.8,197.2h1.1v1.1h-1.1zM289.1,209.6h1.1v1.1h-1.1zM235.1,195.8h1.1v1.1h-1.1zM293.8,197.2h1.1v1.1h-1.1zM254.8,185.3h1.1v1.1h-1.1zM234.2,192.1h1.1v1.1h-1.1zM280.6,203.6h1.1v1.1h-1.1zM276.6,202.5h1.1v1.1h-1.1zM238.7,187.3h1.1v1.1h-1.1zM273.2,193.5h1.1v1.1h-1.1zM286.8,199.4h1.1v1.1h-1.1zM259.4,196.3h1.1v1.1h-1.1zM286.5,206.8h1.1v1.1h-1.1zM230.4,189.0h1.1v1.1h-1.1zM240.0,181.7h1.1v1.1h-1.1zM265.2,203.8h1.1v1.1h-1.1zM275.0,200.5h1.1v1.1h-1.1zM265.8,190.9h1.1v1.1h-1.1zM280.8,198.0h1.1v1.1h-1.1zM228.5,180.4h1.1v1.1h-1.1zM273.5,199.0h1.1v1.1h-1.1zM267.1,199.0h1.1v1.1h-1.1zM257.1,196.6h1.1v1.1h-1.1zM233.6,184.8h1.1v1.1h-1.1zM230.5,176.2h1.1v1.1h-1.1zM265.7,198.2h1.1v1.1h-1.1zM266.9,197.6h1.1v1.1h-1.1zM258.4,191.5h1.1v1.1h-1.1zM278.8,204.2h1.1v1.1h-1.1zM290.9,204.6h1.1v1.1h-1.1zM236.3,186.1h1.1v1.1h-1.1zM233.1,176.5h1.1v1.1h-1.1zM274.8,193.6h1.1v1.1h-1.1zM287.0,194.9h1.1v1.1h-1.1zM261.2,199.3h1.1v1.1h-1.1zM262.5,189.1h1.1v1.1h-1.1zM259.3,191.5h1.1v1.1h-1.1zM279.5,204.7h1.1v1.1h-1.1zM228.8,184.7h1.1v1.1h-1.1zM276.0,189.6h1.1v1.1h-1.1zM269.1,200.7h1.1v1.1h-1.1zM246.9,191.3h1.1v1.1h-1.1zM261.5,190.7h1.1v1.1h-1.1zM257.7,189.6h1.1v1.1h-1.1zM245.6,190.7h1.1v1.1h-1.1zM247.2,195.0h1.1v1.1h-1.1zM238.1,180.3h1.1v1.1h-1.1zM275.4,206.8h1.1v1.1h-1.1zM232.5,193.3h1.1v1.1h-1.1zM291.6,203.8h1.1v1.1h-1.1zM239.3,179.3h1.1v1.1h-1.1zM240.0,175.1h1.1v1.1h-1.1zM231.1,177.8h1.1v1.1h-1.1zM267.9,175.7h1.1v1.1h-1.1zM245.4,178.6h1.1v1.1h-1.1zM227.6,176.5h1.1v1.1h-1.1zM267.4,181.4h1.1v1.1h-1.1zM228.1,177.3h1.1v1.1h-1.1zM236.3,172.7h1.1v1.1h-1.1zM240.0,177.5h1.1v1.1h-1.1zM255.2,174.0h1.1v1.1h-1.1zM271.3,179.3h1.1v1.1h-1.1zM234.1,175.1h1.1v1.1h-1.1zM260.3,171.0h1.1v1.1h-1.1zM251.3,178.2h1.1v1.1h-1.1zM239.9,172.4h1.1v1.1h-1.1zM246.2,176.5h1.1v1.1h-1.1zM252.7,176.1h1.1v1.1h-1.1zM250.5,174.5h1.1v1.1h-1.1zM224.8,170.7h1.1v1.1h-1.1zM248.4,180.0h1.1v1.1h-1.1zM256.3,173.4h1.1v1.1h-1.1zM265.3,175.7h1.1v1.1h-1.1zM224.1,174.9h1.1v1.1h-1.1zM266.4,176.9h1.1v1.1h-1.1zM228.0,181.0h1.1v1.1h-1.1zM250.9,177.1h1.1v1.1h-1.1zM265.4,177.1h1.1v1.1h-1.1zM228.3,176.9h1.1v1.1h-1.1zM226.0,179.1h1.1v1.1h-1.1zM254.2,178.9h1.1v1.1h-1.1zM259.9,175.0h1.1v1.1h-1.1zM258.4,173.2h1.1v1.1h-1.1zM234.7,180.0h1.1v1.1h-1.1zM245.2,179.3h1.1v1.1h-1.1zM238.9,176.3h1.1v1.1h-1.1zM259.0,178.0h1.1v1.1h-1.1zM241.3,172.6h1.1v1.1h-1.1zM266.7,180.3h1.1v1.1h-1.1zM232.2,173.4h1.1v1.1h-1.1zM242.4,170.7h1.1v1.1h-1.1zM265.8,186.2h1.1v1.1h-1.1zM227.0,179.6h1.1v1.1h-1.1zM255.8,171.0h1.1v1.1h-1.1zM267.1,178.2h1.1v1.1h-1.1zM251.9,174.5h1.1v1.1h-1.1zM245.4,178.5h1.1v1.1h-1.1zM263.7,181.5h1.1v1.1h-1.1zM247.9,174.4h1.1v1.1h-1.1zM242.7,174.9h1.1v1.1h-1.1zM259.6,174.7h1.1v1.1h-1.1zM231.3,174.4h1.1v1.1h-1.1zM254.3,179.5h1.1v1.1h-1.1zM240.4,174.0h1.1v1.1h-1.1zM255.6,176.8h1.1v1.1h-1.1zM228.5,173.1h1.1v1.1h-1.1zM232.2,171.7h1.1v1.1h-1.1zM225.3,177.4h1.1v1.1h-1.1zM248.3,179.9h1.1v1.1h-1.1zM240.7,176.5h1.1v1.1h-1.1zM225.5,173.5h1.1v1.1h-1.1zM252.9,177.7h1.1v1.1h-1.1zM247.0,172.0h1.1v1.1h-1.1zM225.5,174.7h1.1v1.1h-1.1zM246.1,174.8h1.1v1.1h-1.1zM251.6,177.6h1.1v1.1h-1.1zM232.0,174.3h1.1v1.1h-1.1zM225.2,175.9h1.1v1.1h-1.1zM263.4,171.3h1.1v1.1h-1.1zM259.8,177.1h1.1v1.1h-1.1zM233.8,174.3h1.1v1.1h-1.1zM267.3,178.5h1.1v1.1h-1.1zM239.8,174.3h1.1v1.1h-1.1zM250.8,174.0h1.1v1.1h-1.1zM230.5,172.8h1.1v1.1h-1.1zM230.4,174.5h1.1v1.1h-1.1zM243.9,174.5h1.1v1.1h-1.1zM239.4,182.0h1.1v1.1h-1.1zM270.9,176.5h1.1v1.1h-1.1zM230.0,176.6h1.1v1.1h-1.1zM241.3,174.5h1.1v1.1h-1.1zM241.5,170.4h1.1v1.1h-1.1zM260.9,176.2h1.1v1.1h-1.1zM263.7,176.1h1.1v1.1h-1.1zM238.1,173.5h1.1v1.1h-1.1zM256.9,169.2h1.1v1.1h-1.1zM261.1,175.8h1.1v1.1h-1.1zM236.7,176.8h1.1v1.1h-1.1zM264.5,179.0h1.1v1.1h-1.1zM235.1,173.5h1.1v1.1h-1.1zM241.8,174.1h1.1v1.1h-1.1zM263.8,175.3h1.1v1.1h-1.1zM267.6,173.6h1.1v1.1h-1.1zM241.4,171.0h1.1v1.1h-1.1zM225.2,176.6h1.1v1.1h-1.1zM272.1,174.5h1.1v1.1h-1.1zM238.7,175.6h1.1v1.1h-1.1zM271.5,180.2h1.1v1.1h-1.1zM251.4,173.1h1.1v1.1h-1.1zM271.9,175.5h1.1v1.1h-1.1zM245.7,176.5h1.1v1.1h-1.1zM246.5,175.5h1.1v1.1h-1.1zM253.6,173.2h1.1v1.1h-1.1zM265.5,171.4h1.1v1.1h-1.1zM266.0,175.3h1.1v1.1h-1.1zM263.7,169.3h1.1v1.1h-1.1zM261.0,174.7h1.1v1.1h-1.1zM227.4,179.1h1.1v1.1h-1.1zM257.4,177.3h1.1v1.1h-1.1zM269.4,179.5h1.1v1.1h-1.1zM239.7,177.6h1.1v1.1h-1.1zM270.1,178.6h1.1v1.1h-1.1zM223.9,179.2h1.1v1.1h-1.1zM263.6,177.8h1.1v1.1h-1.1zM225.4,171.5h1.1v1.1h-1.1zM259.7,172.0h1.1v1.1h-1.1zM252.5,175.3h1.1v1.1h-1.1zM267.9,179.0h1.1v1.1h-1.1zM268.2,174.9h1.1v1.1h-1.1zM251.1,179.6h1.1v1.1h-1.1zM251.0,173.9h1.1v1.1h-1.1zM310.9,154.7h1.1v1.1h-1.1zM309.5,143.0h1.1v1.1h-1.1zM337.5,164.3h1.1v1.1h-1.1zM301.4,149.5h1.1v1.1h-1.1zM309.0,142.6h1.1v1.1h-1.1zM334.2,156.5h1.1v1.1h-1.1zM301.3,143.0h1.1v1.1h-1.1zM313.3,138.4h1.1v1.1h-1.1zM338.3,163.2h1.1v1.1h-1.1zM328.9,152.4h1.1v1.1h-1.1zM323.7,153.7h1.1v1.1h-1.1zM305.2,141.9h1.1v1.1h-1.1zM321.0,150.0h1.1v1.1h-1.1zM336.6,155.9h1.1v1.1h-1.1zM315.6,157.1h1.1v1.1h-1.1zM332.9,152.6h1.1v1.1h-1.1zM327.1,147.5h1.1v1.1h-1.1zM330.4,168.8h1.1v1.1h-1.1zM306.1,142.9h1.1v1.1h-1.1zM326.7,167.1h1.1v1.1h-1.1zM327.7,150.9h1.1v1.1h-1.1zM301.0,145.5h1.1v1.1h-1.1zM318.3,152.1h1.1v1.1h-1.1zM321.3,155.7h1.1v1.1h-1.1zM316.4,150.4h1.1v1.1h-1.1zM315.8,133.0h1.1v1.1h-1.1zM318.9,148.6h1.1v1.1h-1.1zM314.4,158.4h1.1v1.1h-1.1zM312.9,146.5h1.1v1.1h-1.1zM304.7,148.8h1.1v1.1h-1.1zM314.1,150.7h1.1v1.1h-1.1zM328.6,150.2h1.1v1.1h-1.1zM314.0,136.7h1.1v1.1h-1.1zM330.4,158.3h1.1v1.1h-1.1zM336.0,168.1h1.1v1.1h-1.1zM302.2,142.4h1.1v1.1h-1.1zM314.6,140.2h1.1v1.1h-1.1zM326.3,151.6h1.1v1.1h-1.1zM309.2,145.2h1.1v1.1h-1.1zM315.5,149.5h1.1v1.1h-1.1zM320.8,150.5h1.1v1.1h-1.1zM312.9,144.6h1.1v1.1h-1.1zM334.7,161.8h1.1v1.1h-1.1zM301.0,146.5h1.1v1.1h-1.1zM335.3,165.3h1.1v1.1h-1.1zM312.5,143.8h1.1v1.1h-1.1zM319.2,155.1h1.1v1.1h-1.1zM329.4,163.3h1.1v1.1h-1.1zM305.8,160.8h1.1v1.1h-1.1zM310.9,143.6h1.1v1.1h-1.1zM332.9,165.6h1.1v1.1h-1.1zM305.5,139.7h1.1v1.1h-1.1zM319.4,160.5h1.1v1.1h-1.1zM330.1,165.0h1.1v1.1h-1.1zM319.2,150.9h1.1v1.1h-1.1zM301.2,141.0h1.1v1.1h-1.1zM310.2,142.7h1.1v1.1h-1.1zM325.8,151.0h1.1v1.1h-1.1zM320.5,138.3h1.1v1.1h-1.1zM330.9,144.7h1.1v1.1h-1.1zM267.5,190.3h1.1v1.1h-1.1zM300.7,151.4h1.1v1.1h-1.1zM322.8,177.1h1.1v1.1h-1.1zM260.7,84.8h1.1v1.1h-1.1zM224.9,152.1h1.1v1.1h-1.1zM291.3,142.0h1.1v1.1h-1.1zM280.4,121.3h1.1v1.1h-1.1zM292.9,78.6h1.1v1.1h-1.1zM341.9,162.5h1.1v1.1h-1.1zM232.5,192.7h1.1v1.1h-1.1zM336.1,130.5h1.1v1.1h-1.1zM326.0,108.0h1.1v1.1h-1.1zM236.7,137.2h1.1v1.1h-1.1zM277.1,106.0h1.1v1.1h-1.1zM273.1,172.9h1.1v1.1h-1.1zM336.6,193.9h1.1v1.1h-1.1zM259.8,197.8h1.1v1.1h-1.1zM262.3,175.7h1.1v1.1h-1.1z" fill="#000"/>
<rect x="219.6" y="73.3" width="145.40" height="144.70" fill="none" stroke="#000" stroke-width="1.7"/>
<rect x="220.8" y="123.4" width="49.80" height="47.80" fill="none" stroke="#000" stroke-width="1.7"/>
<path d="M280.80,218.20 L283.30,166.50 L286.00,165.20 L301.50,160.20 L322.30,166.50 L330.20,176.30 L331.00,218.20" fill="none" stroke="#000" stroke-width="1.9" stroke-linejoin="round"/>
<text transform="translate(210,143.3) rotate(-90)" font-size="14.8" text-anchor="middle" textLength="57.8" lengthAdjust="spacingAndGlyphs" fill="#000">CD45RB</text>
<text x="284.5" y="233.5" font-size="14.3" text-anchor="middle" textLength="36.9" lengthAdjust="spacingAndGlyphs" fill="#000">CD44</text>
<line x1="258.40" y1="120.40" x2="389.00" y2="72.40" stroke="#666" stroke-width="1.0"/>
<path d="M400.80,68.10 L383.06,68.54 L387.28,73.06 L387.00,79.24 Z" fill="#000" stroke="#000" stroke-width="0.3" stroke-linejoin="round"/>
<line x1="337.70" y1="194.20" x2="388.00" y2="202.30" stroke="#666" stroke-width="1.0"/>
<path d="M400.20,204.20 L384.51,195.92 L385.98,201.92 L382.71,207.17 Z" fill="#000" stroke="#000" stroke-width="0.3" stroke-linejoin="round"/>
<text x="465" y="11.5" font-size="15.3" text-anchor="middle" textLength="59.5" lengthAdjust="spacingAndGlyphs" fill="#000">post-sort</text>
<text x="462.5" y="28" font-size="15.3" text-anchor="middle" textLength="55" lengthAdjust="spacingAndGlyphs" fill="#000">analysis</text>
<path d="M420.5,82.2 421.0,81.5 421.5,81.0 422.0,80.5 422.5,80.0 423.0,79.6 423.5,79.3 423.9,79.0 424.5,78.6 425.0,78.3 425.5,78.0 426.0,77.8 426.5,77.5 427.0,77.3 427.5,77.1 428.0,76.9 428.5,76.7 429.0,76.5 429.5,76.3 430.0,76.2 430.5,76.0 431.0,75.8 431.5,75.7 432.0,75.6 432.5,75.4 433.0,75.3 433.5,75.2 434.0,75.0 434.5,74.9 435.0,74.8 435.5,74.7 436.0,74.6 436.4,74.5 437.0,74.4 437.5,74.3 438.0,74.2 438.5,74.1 439.0,74.0 439.5,73.9 440.0,73.8 440.5,73.7 441.0,73.7 441.5,73.6 442.0,73.5 442.5,73.5 443.0,73.4 443.5,73.3 444.0,73.2 444.5,73.2 445.0,73.1 445.5,73.1 446.0,73.0 446.5,73.0 447.0,73.0 447.5,72.9 448.0,72.9 448.5,72.9 449.0,72.9 449.5,72.9 450.0,72.8 450.5,72.9 451.0,72.9 451.5,72.9 452.0,72.9 452.5,73.0 453.0,73.0 453.5,73.1 454.0,73.1 454.5,73.2 455.0,73.3 455.5,73.4 456.0,73.6 456.5,73.7 457.0,73.9 457.3,74.0 458.0,74.3 458.4,74.5 459.0,74.9 459.5,75.2 459.8,75.5 460.0,75.7 460.2,76.0 460.5,76.4 460.8,77.0 460.9,77.5 461.0,78.0 461.0,78.5 461.0,79.0 460.9,79.5 460.8,80.0 460.8,80.5 460.7,81.0 460.6,81.5 460.6,82.0 460.5,82.5 460.5,83.0 460.5,83.5 460.4,84.0 460.4,84.5 460.3,85.0 460.1,85.5 460.0,85.9 459.8,86.5 459.5,87.0 459.2,87.5 459.0,87.8 458.5,88.5 458.1,89.0 457.7,89.5 457.2,90.0 456.7,90.5 456.1,91.0 455.5,91.4 455.0,91.8 454.7,92.0 454.0,92.5 453.5,92.8 453.1,93.0 452.5,93.3 452.2,93.5 451.5,93.8 451.2,94.0 450.5,94.3 450.0,94.5 449.5,94.7 449.0,94.9 448.5,95.1 448.0,95.3 447.5,95.5 447.0,95.6 446.5,95.8 446.0,95.9 445.5,96.1 445.0,96.2 444.5,96.4 444.1,96.5 443.5,96.7 443.0,96.8 442.5,96.9 442.1,97.0 441.5,97.2 441.0,97.3 440.5,97.4 440.0,97.5 439.5,97.6 439.0,97.7 438.5,97.7 438.0,97.8 437.5,97.9 437.0,97.9 436.5,98.0 436.0,98.0 435.5,98.0 435.0,98.0 434.5,98.1 434.0,98.1 433.5,98.0 433.0,98.0 432.5,98.0 432.0,97.9 431.5,97.9 431.0,97.8 430.5,97.7 430.0,97.6 429.5,97.5 429.0,97.4 428.5,97.3 428.0,97.1 427.7,97.0 427.0,96.8 426.5,96.6 426.0,96.4 425.5,96.1 425.2,96.0 424.5,95.6 424.0,95.3 423.5,95.0 423.0,94.7 422.8,94.5 422.5,94.3 422.1,94.0 421.6,93.5 421.1,93.0 420.6,92.5 M420.5,85.0 420.7,84.5 420.9,84.0 421.2,83.5 421.5,83.0 421.8,82.5 422.0,82.3 422.2,82.0 422.5,81.7 423.0,81.2 423.5,80.7 423.7,80.5 424.0,80.3 424.4,80.0 425.0,79.6 425.5,79.3 426.0,79.0 426.5,78.7 427.0,78.5 427.5,78.3 428.0,78.1 428.5,77.9 429.0,77.7 429.5,77.5 430.0,77.3 430.5,77.2 431.0,77.0 431.5,76.9 432.0,76.7 432.5,76.6 432.9,76.5 433.5,76.3 434.0,76.2 434.5,76.1 434.8,76.0 435.5,75.8 436.0,75.7 436.5,75.6 436.8,75.5 437.5,75.3 438.0,75.2 438.5,75.1 438.9,75.0 439.5,74.9 440.0,74.7 440.5,74.6 441.0,74.5 441.5,74.4 442.0,74.3 442.5,74.2 443.0,74.1 443.5,74.0 444.0,73.9 444.5,73.9 445.0,73.8 445.5,73.7 446.0,73.6 446.5,73.6 447.0,73.5 447.5,73.5 448.0,73.5 448.5,73.4 449.0,73.4 449.5,73.4 450.0,73.4 450.5,73.4 451.0,73.4 451.5,73.4 452.0,73.4 452.5,73.5 453.0,73.5 453.5,73.6 454.0,73.7 454.5,73.7 455.0,73.9 455.5,74.0 456.0,74.1 456.5,74.3 457.0,74.5 457.5,74.7 457.9,75.0 458.5,75.4 459.0,75.9 459.5,76.5 459.7,77.0 459.9,77.5 459.9,78.0 459.9,78.5 459.8,79.0 459.7,79.5 459.5,80.0 459.3,80.5 459.1,81.0 459.0,81.3 458.8,82.0 458.6,82.5 458.5,83.0 458.4,83.5 458.3,84.0 458.2,84.5 458.1,85.0 458.0,85.3 457.8,86.0 457.6,86.5 457.3,87.0 457.0,87.5 456.7,88.0 456.3,88.5 456.0,88.8 455.5,89.3 455.0,89.8 454.5,90.3 454.2,90.5 453.5,91.0 453.0,91.4 452.5,91.7 452.0,92.0 451.5,92.3 451.1,92.5 450.5,92.8 450.1,93.0 449.5,93.3 449.0,93.5 448.5,93.7 448.0,93.9 447.5,94.1 447.0,94.3 446.5,94.5 446.0,94.7 445.5,94.8 445.0,95.0 444.5,95.2 444.0,95.3 443.5,95.5 443.0,95.6 442.5,95.8 442.0,95.9 441.6,96.0 441.0,96.2 440.5,96.3 440.0,96.4 439.6,96.5 439.0,96.6 438.5,96.7 438.0,96.8 437.5,96.9 437.0,97.0 436.7,97.0 436.0,97.1 435.5,97.1 435.0,97.1 434.5,97.1 434.0,97.2 433.5,97.1 433.0,97.1 432.5,97.1 432.0,97.0 431.5,97.0 431.0,96.9 430.5,96.8 430.0,96.7 429.5,96.6 429.0,96.4 428.5,96.3 428.0,96.1 427.5,95.9 427.0,95.7 426.5,95.5 426.0,95.2 425.6,95.0 425.0,94.7 424.7,94.5 424.0,94.0 423.5,93.6 423.0,93.2 422.5,92.7 422.0,92.1 421.6,91.5 421.2,91.0 421.0,90.6 420.7,90.0 420.5,89.5 M437.0,96.1 436.5,96.1 436.0,96.2 435.5,96.2 435.0,96.3 434.5,96.3 434.0,96.3 433.5,96.3 433.0,96.3 432.5,96.2 432.0,96.2 431.5,96.1 431.0,96.0 430.5,95.9 430.0,95.8 429.5,95.7 429.0,95.5 428.5,95.3 428.0,95.2 427.7,95.0 427.0,94.7 426.6,94.5 426.0,94.2 425.5,93.8 425.0,93.5 424.5,93.1 424.0,92.6 423.5,92.1 423.0,91.5 422.6,91.0 422.3,90.5 422.1,90.0 421.9,89.5 421.7,89.0 421.6,88.5 421.5,88.0 421.5,87.5 421.4,87.0 421.5,86.5 421.6,86.0 421.7,85.5 421.8,85.0 422.0,84.5 422.2,84.0 422.5,83.5 422.9,83.0 423.2,82.5 423.5,82.2 424.0,81.7 424.5,81.3 424.8,81.0 425.5,80.5 426.0,80.2 426.3,80.0 427.0,79.6 427.5,79.4 428.0,79.2 428.4,79.0 429.0,78.8 429.5,78.6 430.0,78.4 430.5,78.2 431.0,78.1 431.3,78.0 432.0,77.8 432.5,77.7 433.0,77.5 433.5,77.4 434.0,77.3 434.5,77.1 435.0,77.0 435.5,76.8 436.0,76.7 436.5,76.6 437.0,76.4 437.5,76.3 438.0,76.1 438.4,76.0 439.0,75.8 439.5,75.7 440.0,75.5 440.5,75.4 441.0,75.2 441.5,75.1 441.9,75.0 442.5,74.8 443.0,74.7 443.5,74.6 444.0,74.5 444.5,74.4 445.0,74.3 445.5,74.2 446.0,74.1 446.5,74.1 447.0,74.0 447.3,74.0 448.0,73.9 448.5,73.9 449.0,73.8 449.5,73.8 450.0,73.8 450.5,73.8 451.0,73.8 451.5,73.8 452.0,73.9 452.5,73.9 453.0,74.0 453.5,74.1 454.0,74.1 454.5,74.2 455.0,74.4 455.4,74.5 456.0,74.7 456.5,74.9 457.0,75.2 457.5,75.5 458.0,75.9 458.5,76.5 458.8,77.0 458.9,77.5 459.0,78.0 458.9,78.5 458.8,79.0 458.6,79.5 458.5,79.8 458.1,80.5 457.8,81.0 457.5,81.5 457.2,82.0 457.0,82.4 456.7,83.0 456.5,83.5 456.4,84.0 456.2,84.5 456.1,85.0 455.9,85.5 455.7,86.0 455.5,86.4 455.2,87.0 455.0,87.3 454.5,88.0 454.1,88.5 453.6,89.0 453.1,89.5 452.5,90.0 452.0,90.3 451.5,90.7 451.0,91.0 450.5,91.3 450.2,91.5 449.5,91.9 449.0,92.1 448.5,92.4 448.2,92.5 447.5,92.8 447.1,93.0 446.5,93.2 446.0,93.4 445.5,93.6 445.0,93.8 444.5,94.0 444.0,94.1 443.5,94.3 443.0,94.5 442.5,94.7 442.0,94.8 441.5,95.0 441.0,95.1 440.5,95.3 440.0,95.4 439.6,95.5 439.0,95.7 438.5,95.8 438.0,95.9 437.5,96.0 437.0,96.1 M437.5,95.1 437.0,95.2 436.5,95.3 436.0,95.3 435.5,95.4 435.0,95.4 434.5,95.5 434.0,95.5 433.5,95.5 433.0,95.4 432.5,95.4 432.0,95.4 431.5,95.3 431.0,95.2 430.5,95.1 430.0,94.9 429.5,94.8 429.0,94.6 428.7,94.5 428.0,94.2 427.6,94.0 427.0,93.7 426.7,93.5 426.0,93.0 425.5,92.7 425.0,92.2 424.5,91.7 424.0,91.1 423.6,90.5 423.3,90.0 423.1,89.5 422.9,89.0 422.8,88.5 422.7,88.0 422.6,87.5 422.6,87.0 422.7,86.5 422.7,86.0 422.9,85.5 423.0,85.1 423.2,84.5 423.5,84.0 423.8,83.5 424.2,83.0 424.5,82.7 425.0,82.2 425.5,81.7 425.8,81.5 426.5,81.0 427.0,80.7 427.4,80.5 428.0,80.2 428.5,80.0 429.0,79.8 429.5,79.6 430.0,79.4 430.5,79.2 431.0,79.1 431.3,79.0 432.0,78.8 432.5,78.7 433.0,78.5 433.5,78.4 434.0,78.2 434.5,78.1 434.8,78.0 435.5,77.8 436.0,77.6 436.4,77.5 437.0,77.3 437.5,77.1 438.0,76.9 438.5,76.7 439.0,76.5 439.5,76.4 440.0,76.2 440.5,76.0 441.0,75.8 441.5,75.7 442.0,75.5 442.5,75.4 443.0,75.2 443.5,75.1 444.0,75.0 444.5,74.9 445.0,74.8 445.5,74.7 446.0,74.6 446.5,74.5 447.0,74.5 447.5,74.4 448.0,74.3 448.5,74.3 449.0,74.3 449.5,74.2 450.0,74.2 450.5,74.2 451.0,74.2 451.5,74.3 452.0,74.3 452.5,74.3 453.0,74.4 453.4,74.5 454.0,74.6 454.5,74.7 455.0,74.9 455.3,75.0 456.0,75.3 456.4,75.5 457.0,75.9 457.5,76.4 457.9,77.0 458.0,77.3 458.1,78.0 458.1,78.5 457.9,79.0 457.7,79.5 457.5,79.9 457.1,80.5 456.7,81.0 456.5,81.3 456.0,81.9 455.5,82.5 455.1,83.0 454.8,83.5 454.6,84.0 454.3,84.5 454.2,85.0 454.0,85.4 453.7,86.0 453.5,86.5 453.2,87.0 453.0,87.3 452.5,87.9 452.0,88.5 451.5,88.9 451.0,89.4 450.5,89.8 450.2,90.0 449.5,90.4 449.0,90.7 448.5,91.0 448.0,91.3 447.5,91.5 447.0,91.8 446.5,92.0 446.0,92.2 445.5,92.4 445.0,92.6 444.5,92.8 444.0,93.0 443.5,93.2 443.0,93.4 442.7,93.5 442.0,93.7 441.5,93.9 441.0,94.1 440.5,94.3 440.0,94.4 439.5,94.6 439.0,94.7 438.5,94.9 438.0,95.0 437.5,95.1 M435.5,94.5 435.0,94.6 434.5,94.6 434.0,94.7 433.5,94.6 433.0,94.6 432.5,94.6 432.0,94.5 431.5,94.4 431.0,94.4 430.5,94.2 430.0,94.1 429.5,93.9 429.0,93.7 428.5,93.5 428.0,93.3 427.6,93.0 427.0,92.6 426.5,92.3 426.2,92.0 425.6,91.5 425.2,91.0 425.0,90.7 424.5,90.0 424.3,89.5 424.1,89.0 423.9,88.5 423.8,88.0 423.8,87.5 423.8,87.0 423.8,86.5 423.9,86.0 424.0,85.6 424.2,85.0 424.5,84.5 424.8,84.0 425.0,83.7 425.5,83.1 426.0,82.6 426.5,82.2 426.8,82.0 427.5,81.5 428.0,81.2 428.5,81.0 429.0,80.8 429.5,80.6 430.0,80.4 430.5,80.2 431.0,80.0 431.5,79.9 432.0,79.7 432.5,79.6 432.9,79.5 433.5,79.3 434.0,79.2 434.5,79.0 435.0,78.9 435.5,78.7 436.0,78.5 436.5,78.3 437.0,78.1 437.5,77.9 438.0,77.7 438.4,77.5 439.0,77.2 439.5,77.0 440.0,76.8 440.5,76.6 440.8,76.5 441.5,76.2 442.0,76.1 442.5,75.9 443.0,75.7 443.5,75.6 443.9,75.5 444.5,75.3 445.0,75.2 445.5,75.1 446.0,75.0 446.5,74.9 447.0,74.9 447.5,74.8 448.0,74.7 448.5,74.7 449.0,74.7 449.5,74.6 450.0,74.6 450.5,74.6 451.0,74.6 451.5,74.7 452.0,74.7 452.5,74.8 453.0,74.9 453.5,75.0 454.0,75.1 454.5,75.2 455.0,75.4 455.5,75.7 456.0,76.0 456.5,76.4 457.0,77.0 457.2,77.5 457.3,78.0 457.2,78.5 457.1,79.0 456.9,79.5 456.5,80.0 456.2,80.5 455.7,81.0 455.5,81.2 455.2,81.5 455.0,81.7 454.7,82.0 454.2,82.5 453.7,83.0 453.3,83.5 453.0,83.9 452.6,84.5 452.4,85.0 452.1,85.5 452.0,85.8 451.6,86.5 451.3,87.0 451.0,87.4 450.5,88.0 450.0,88.4 449.5,88.9 449.0,89.3 448.7,89.5 448.0,89.9 447.5,90.2 447.0,90.5 446.5,90.7 446.0,91.0 445.5,91.2 445.0,91.4 444.5,91.7 444.0,91.9 443.7,92.0 443.0,92.3 442.5,92.5 442.0,92.7 441.5,92.9 441.2,93.0 440.5,93.3 440.0,93.4 439.5,93.6 439.0,93.8 438.5,93.9 438.2,94.0 437.5,94.2 437.0,94.3 436.5,94.4 436.0,94.5 435.5,94.5 M436.5,93.5 436.0,93.6 435.5,93.7 435.0,93.8 434.5,93.8 434.0,93.8 433.5,93.8 433.0,93.8 432.5,93.8 432.0,93.7 431.5,93.6 431.0,93.5 430.5,93.4 430.0,93.2 429.5,93.0 429.0,92.8 428.5,92.5 428.0,92.2 427.7,92.0 427.0,91.5 426.5,91.0 426.1,90.5 425.7,90.0 425.5,89.6 425.2,89.0 425.1,88.5 425.0,88.2 424.9,87.5 424.9,87.0 424.9,86.5 425.0,86.0 425.2,85.5 425.4,85.0 425.7,84.5 426.0,84.1 426.5,83.5 427.0,83.1 427.5,82.7 427.7,82.5 428.0,82.3 428.5,82.0 429.0,81.8 429.5,81.6 430.0,81.4 430.5,81.2 431.0,81.0 431.5,80.8 432.0,80.7 432.5,80.5 433.0,80.4 433.5,80.3 434.0,80.1 434.4,80.0 435.0,79.8 435.5,79.6 435.8,79.5 436.5,79.2 436.9,79.0 437.5,78.7 437.9,78.5 438.5,78.2 438.9,78.0 439.5,77.7 439.9,77.5 440.5,77.2 441.0,77.0 441.5,76.8 442.0,76.6 442.5,76.4 443.0,76.2 443.5,76.1 444.0,75.9 444.5,75.8 445.0,75.6 445.5,75.5 446.0,75.4 446.5,75.3 447.0,75.3 447.5,75.2 448.0,75.1 448.5,75.1 449.0,75.1 449.5,75.0 450.0,75.0 450.5,75.0 451.0,75.1 451.5,75.1 452.0,75.1 452.5,75.2 453.0,75.3 453.5,75.4 454.0,75.6 454.5,75.8 454.9,76.0 455.5,76.4 456.0,76.9 456.4,77.5 456.4,78.0 456.4,78.5 456.3,79.0 456.0,79.5 455.7,80.0 455.2,80.5 455.0,80.7 454.7,81.0 454.1,81.5 453.5,82.0 453.0,82.4 452.5,82.8 452.0,83.3 451.8,83.5 451.5,83.8 451.0,84.5 450.7,85.0 450.5,85.4 450.2,86.0 449.9,86.5 449.5,87.0 449.1,87.5 448.6,88.0 448.0,88.5 447.5,88.9 447.0,89.2 446.5,89.5 446.0,89.8 445.6,90.0 445.0,90.3 444.6,90.5 444.0,90.8 443.5,91.0 443.0,91.2 442.5,91.4 442.0,91.6 441.5,91.8 441.1,92.0 440.5,92.2 440.0,92.4 439.5,92.6 439.0,92.8 438.5,93.0 438.0,93.1 437.5,93.3 437.0,93.4 436.6,93.5 M436.5,92.6 436.0,92.7 435.5,92.8 435.0,92.9 434.5,92.9 434.0,92.9 433.5,92.9 433.0,92.9 432.5,92.9 432.0,92.8 431.5,92.7 431.0,92.6 430.5,92.4 430.0,92.2 429.5,92.0 429.0,91.7 428.6,91.5 428.0,91.0 427.5,90.6 427.0,90.0 426.7,89.5 426.5,89.1 426.3,88.5 426.1,88.0 426.1,87.5 426.1,87.0 426.1,86.5 426.3,86.0 426.5,85.5 426.7,85.0 427.0,84.6 427.5,84.0 428.0,83.6 428.5,83.2 428.8,83.0 429.5,82.6 430.0,82.4 430.5,82.2 430.9,82.0 431.5,81.8 432.0,81.6 432.5,81.5 433.0,81.3 433.5,81.2 434.0,81.1 434.5,80.9 435.0,80.7 435.5,80.6 436.0,80.4 436.5,80.1 436.8,80.0 437.5,79.6 438.0,79.3 438.5,79.0 439.0,78.7 439.4,78.5 440.0,78.1 440.5,77.9 441.0,77.6 441.5,77.4 442.0,77.1 442.3,77.0 443.0,76.7 443.5,76.5 444.0,76.4 444.5,76.2 445.0,76.1 445.3,76.0 446.0,75.8 446.5,75.7 447.0,75.7 447.5,75.6 448.0,75.5 448.3,75.5 449.0,75.4 449.5,75.4 450.0,75.4 450.5,75.4 451.0,75.5 451.5,75.5 452.0,75.6 452.5,75.7 453.0,75.8 453.5,76.0 454.0,76.2 454.5,76.5 455.0,76.9 455.5,77.5 455.6,78.0 455.6,78.5 455.4,79.0 455.1,79.5 454.8,80.0 454.5,80.3 454.0,80.8 453.7,81.0 453.1,81.5 452.5,81.9 452.0,82.3 451.6,82.5 451.0,82.9 450.5,83.3 450.0,83.8 449.8,84.0 449.5,84.4 449.1,85.0 448.8,85.5 448.5,86.0 448.2,86.5 448.0,86.7 447.8,87.0 447.5,87.3 447.0,87.8 446.8,88.0 446.5,88.2 446.1,88.5 445.5,88.9 445.0,89.2 444.5,89.4 444.0,89.7 443.5,89.9 443.0,90.2 442.5,90.4 442.0,90.6 441.5,90.8 441.0,91.0 440.5,91.2 440.0,91.4 439.5,91.6 439.0,91.8 438.5,92.0 438.0,92.2 437.5,92.3 437.0,92.5 436.5,92.6 M436.5,91.6 436.0,91.7 435.5,91.8 435.0,91.9 434.5,91.9 434.0,92.0 433.5,92.0 433.0,91.9 432.5,91.9 432.0,91.8 431.5,91.7 431.0,91.5 430.5,91.3 430.0,91.1 429.5,90.8 429.1,90.5 428.5,90.0 428.1,89.5 427.8,89.0 427.6,88.5 427.4,88.0 427.4,87.5 427.4,87.0 427.4,86.5 427.6,86.0 427.9,85.5 428.2,85.0 428.5,84.7 429.0,84.2 429.3,84.0 430.0,83.5 430.5,83.3 431.0,83.0 431.5,82.8 432.0,82.7 432.5,82.5 433.0,82.3 433.5,82.2 434.0,82.0 434.5,81.9 435.0,81.7 435.5,81.6 436.0,81.4 436.5,81.2 436.9,81.0 437.5,80.7 437.8,80.5 438.5,80.1 439.0,79.7 439.3,79.5 439.5,79.3 439.9,79.0 440.5,78.6 441.0,78.3 441.5,78.0 442.0,77.7 442.4,77.5 443.0,77.2 443.5,77.0 444.0,76.9 444.5,76.7 445.0,76.5 445.5,76.4 446.0,76.3 446.5,76.2 447.0,76.1 447.5,76.0 448.0,75.9 448.5,75.9 449.0,75.9 449.5,75.8 450.0,75.9 450.5,75.9 451.0,75.9 451.5,76.0 452.0,76.1 452.5,76.2 453.0,76.4 453.5,76.6 454.0,76.9 454.5,77.5 454.7,78.0 454.7,78.5 454.5,79.0 454.3,79.5 454.0,79.8 453.5,80.3 453.0,80.8 452.7,81.0 452.0,81.5 451.5,81.8 451.1,82.0 450.5,82.4 450.0,82.7 449.5,82.9 449.0,83.3 448.7,83.5 448.5,83.7 448.2,84.0 448.0,84.3 447.5,85.0 447.3,85.5 447.0,86.0 446.6,86.5 446.2,87.0 445.7,87.5 445.0,88.0 444.5,88.3 444.2,88.5 443.5,88.9 443.0,89.1 442.5,89.4 442.2,89.5 441.5,89.8 441.0,90.0 440.5,90.2 440.0,90.4 439.5,90.6 439.0,90.8 438.5,91.0 438.0,91.1 437.5,91.3 437.0,91.5 436.5,91.6 M436.0,90.6 435.5,90.7 435.0,90.8 434.5,90.8 434.0,90.9 433.5,90.9 433.0,90.8 432.5,90.7 432.0,90.6 431.6,90.5 431.0,90.3 430.5,90.0 430.0,89.6 429.5,89.1 429.1,88.5 429.0,88.1 428.9,87.5 428.9,87.0 429.0,86.5 429.2,86.0 429.5,85.6 430.0,85.0 430.5,84.6 431.0,84.3 431.5,84.0 432.0,83.8 432.5,83.6 433.0,83.4 433.5,83.2 434.0,83.1 434.5,82.9 435.0,82.8 435.5,82.6 436.0,82.4 436.5,82.2 437.0,82.0 437.5,81.8 438.0,81.6 438.5,81.3 439.0,81.0 439.5,80.6 440.0,80.1 440.5,79.6 441.0,79.2 441.5,78.8 441.9,78.5 442.5,78.1 443.0,77.9 443.5,77.6 444.0,77.4 444.5,77.2 445.0,77.0 445.5,76.9 446.0,76.7 446.5,76.6 447.0,76.5 447.5,76.5 448.0,76.4 448.5,76.3 449.0,76.3 449.5,76.3 450.0,76.3 450.5,76.4 451.0,76.4 451.3,76.5 452.0,76.7 452.5,76.9 453.0,77.2 453.4,77.5 453.7,78.0 453.7,78.5 453.6,79.0 453.3,79.5 453.0,79.8 452.5,80.3 452.0,80.7 451.5,81.0 451.0,81.3 450.7,81.5 450.0,81.9 449.7,82.0 449.0,82.3 448.6,82.5 448.0,82.8 447.7,83.0 447.0,83.5 446.6,84.0 446.3,84.5 446.1,85.0 445.9,85.5 445.6,86.0 445.2,86.5 444.7,87.0 444.1,87.5 443.5,87.9 443.0,88.2 442.5,88.4 442.0,88.6 441.5,88.9 441.1,89.0 440.5,89.2 440.0,89.4 439.5,89.6 439.0,89.8 438.5,89.9 438.0,90.1 437.5,90.2 437.0,90.4 436.5,90.5 436.0,90.6 M434.5,89.5 434.0,89.5 433.5,89.4 433.0,89.3 432.5,89.2 432.1,89.0 431.5,88.6 431.1,88.0 430.9,87.5 430.9,87.0 431.1,86.5 431.4,86.0 431.9,85.5 432.5,85.1 433.0,84.8 433.5,84.5 434.0,84.3 434.5,84.1 435.0,83.9 435.5,83.7 435.9,83.5 436.5,83.3 437.0,83.1 437.3,83.0 438.0,82.7 438.5,82.6 439.0,82.4 439.5,82.1 439.8,82.0 440.5,81.5 440.9,81.0 441.2,80.5 441.5,80.1 442.0,79.5 442.5,79.0 443.0,78.7 443.5,78.3 444.0,78.1 444.5,77.8 445.0,77.6 445.3,77.5 446.0,77.3 446.5,77.2 447.0,77.1 447.3,77.0 448.0,76.9 448.5,76.9 449.0,76.8 449.5,76.9 450.0,76.9 450.5,77.0 451.0,77.1 451.5,77.3 452.0,77.5 452.5,78.0 452.6,78.5 452.5,79.0 452.2,79.5 451.7,80.0 451.0,80.5 450.5,80.8 450.2,81.0 449.5,81.3 449.1,81.5 448.5,81.7 448.0,81.9 447.5,82.1 447.0,82.3 446.5,82.5 446.0,82.7 445.5,83.0 445.1,83.5 444.9,84.0 444.8,84.5 444.7,85.0 444.5,85.5 444.3,86.0 444.0,86.3 443.5,86.8 443.0,87.2 442.5,87.5 442.0,87.7 441.5,88.0 441.0,88.2 440.5,88.3 440.0,88.5 439.5,88.6 439.0,88.8 438.5,88.9 438.0,89.0 437.5,89.1 437.0,89.2 436.5,89.3 436.0,89.4 435.5,89.4 435.0,89.5 434.6,89.5 M445.5,81.6 445.0,81.6 444.5,81.6 444.2,81.5 443.5,81.2 443.2,80.5 443.3,80.0 443.5,79.7 444.0,79.1 444.5,78.7 444.8,78.5 445.5,78.2 445.9,78.0 446.5,77.8 447.0,77.7 447.5,77.6 448.0,77.6 448.5,77.5 449.0,77.5 449.5,77.6 450.0,77.7 450.5,77.9 451.0,78.3 451.1,79.0 450.8,79.5 450.5,79.8 450.3,80.0 450.0,80.2 449.5,80.5 449.0,80.7 448.5,80.9 448.1,81.0 447.5,81.2 447.0,81.3 446.5,81.4 446.0,81.5 445.5,81.6 M440.5,87.5 440.0,87.7 439.5,87.8 439.0,87.8 438.5,87.9 438.0,87.9 437.5,88.0 437.0,88.0 436.5,87.9 436.0,87.9 435.5,87.8 435.0,87.6 434.5,87.3 434.3,87.0 434.2,86.5 434.5,86.0 434.9,85.5 435.5,85.0 436.0,84.7 436.3,84.5 437.0,84.1 437.3,84.0 438.0,83.7 438.5,83.6 439.0,83.4 439.5,83.3 440.0,83.2 440.5,83.1 441.0,83.1 441.5,83.1 442.0,83.2 442.5,83.4 443.0,83.8 443.4,84.5 443.5,85.0 443.4,85.5 443.1,86.0 442.6,86.5 442.0,86.9 441.5,87.1 441.0,87.4 440.5,87.5 M448.0,79.7 447.5,79.8 447.0,79.9 446.5,79.8 446.2,79.5 446.5,79.2 446.8,79.0 447.5,78.8 448.0,78.8 448.5,78.9 448.4,79.5 448.0,79.7 M439.0,87.0 438.7,87.0 438.0,86.9 437.5,86.7 437.2,86.5 437.0,86.2 437.0,85.7 437.5,85.0 438.0,84.7 438.3,84.5 439.0,84.2 439.5,84.1 440.0,84.1 440.5,84.0 441.0,84.1 441.5,84.2 441.9,84.5 442.3,85.0 442.3,85.5 442.0,85.9 441.5,86.3 441.2,86.5 440.5,86.8 440.0,86.9 439.5,87.0 439.0,87.0 M440.5,86.1 440.0,86.3 439.5,86.3 439.0,86.2 438.6,86.0 438.5,85.5 439.0,85.0 439.5,84.8 440.0,84.7 440.5,84.8 441.0,85.0 441.2,85.5 441.0,85.8 440.8,86.0" fill="none" stroke="#222" stroke-width="0.55" stroke-linejoin="round"/>
<path d="M441,79 C446,75.5 452,75.5 456,77.5 C453,80 447,81 441,79 Z" fill="#111" opacity="0.8"/><path d="M463.1,229.5 462.5,229.0 462.0,228.6 461.5,228.1 461.0,227.6 460.5,227.0 460.1,226.5 459.7,226.0 459.3,225.5 459.0,225.0 458.6,224.5 458.3,224.0 458.0,223.5 457.8,223.0 457.5,222.5 457.3,222.0 457.0,221.5 456.8,221.0 456.6,220.5 456.5,220.2 456.3,219.5 456.1,219.0 456.0,218.7 455.8,218.0 455.7,217.5 455.5,217.0 455.4,216.5 455.3,216.0 455.2,215.5 455.1,215.0 455.1,214.5 455.0,214.1 454.9,213.5 454.9,213.0 454.8,212.5 454.8,212.0 454.8,211.5 454.8,211.0 454.8,210.5 454.8,210.0 454.8,209.5 454.8,209.0 454.8,208.5 454.9,208.0 454.9,207.5 455.0,207.0 455.1,206.5 455.1,206.0 455.2,205.5 455.3,205.0 455.4,204.5 455.5,204.2 455.7,203.5 455.8,203.0 455.9,202.5 456.1,202.0 456.3,201.5 456.4,201.0 456.6,200.5 456.8,200.0 457.0,199.6 457.3,199.0 457.5,198.5 457.8,198.0 458.0,197.6 458.3,197.0 458.5,196.7 459.0,196.0 459.3,195.5 459.5,195.2 460.0,194.6 460.5,194.0 460.9,193.5 461.4,193.0 461.9,192.5 462.5,192.0 463.0,191.5 463.5,191.2 464.0,190.8 464.4,190.5 465.0,190.2 465.3,190.0 466.0,189.6 466.5,189.4 467.0,189.2 467.4,189.0 468.0,188.8 468.5,188.6 469.0,188.5 469.5,188.4 470.0,188.3 470.5,188.2 471.0,188.1 471.5,188.1 472.0,188.1 472.5,188.0 473.0,188.1 473.5,188.1 474.0,188.1 474.5,188.2 475.0,188.3 475.5,188.4 476.0,188.5 476.5,188.6 477.0,188.8 477.5,189.0 478.0,189.2 478.5,189.4 478.8,189.5 479.5,189.9 480.0,190.1 480.5,190.5 481.0,190.8 481.3,191.0 481.9,191.5 482.5,192.0 483.0,192.4 483.5,192.9 484.0,193.4 484.5,194.0 484.9,194.5 485.3,195.0 485.7,195.5 486.0,196.0 486.4,196.5 486.7,197.0 487.0,197.5 487.2,198.0 487.5,198.5 487.7,199.0 488.0,199.5 488.2,200.0 488.4,200.5 488.5,200.8 488.7,201.5 488.9,202.0 489.0,202.3 489.2,203.0 489.3,203.5 489.5,204.0 489.6,204.5 489.7,205.0 489.8,205.5 489.9,206.0 489.9,206.5 490.0,206.9 490.1,207.5 490.1,208.0 490.2,208.5 490.2,209.0 490.2,209.5 490.2,210.0 490.2,210.5 490.2,211.0 490.2,211.5 490.2,212.0 490.2,212.5 490.1,213.0 490.1,213.5 490.0,214.0 489.9,214.5 489.9,215.0 489.8,215.5 489.7,216.0 489.6,216.5 489.5,216.8 489.3,217.5 489.2,218.0 489.1,218.5 488.9,219.0 488.7,219.5 488.6,220.0 488.4,220.5 488.2,221.0 488.0,221.4 487.7,222.0 487.5,222.5 487.2,223.0 487.0,223.4 486.7,224.0 486.5,224.3 486.0,225.0 485.7,225.5 485.5,225.8 485.0,226.4 484.5,227.0 484.1,227.5 483.6,228.0 483.1,228.5 482.5,229.0 482.0,229.5 M467.5,229.5 467.0,229.3 466.5,229.0 466.0,228.7 465.6,228.5 465.0,228.1 464.5,227.8 464.2,227.5 463.6,227.0 463.0,226.5 462.5,226.0 462.0,225.5 461.6,225.0 461.2,224.5 461.0,224.2 460.5,223.5 460.2,223.0 460.0,222.7 459.6,222.0 459.3,221.5 459.1,221.0 458.8,220.5 458.6,220.0 458.4,219.5 458.2,219.0 458.0,218.5 457.9,218.0 457.7,217.5 457.6,217.0 457.4,216.5 457.3,216.0 457.2,215.5 457.1,215.0 457.0,214.5 456.9,214.0 456.9,213.5 456.8,213.0 456.8,212.5 456.7,212.0 456.7,211.5 456.7,211.0 456.7,210.5 456.7,210.0 456.7,209.5 456.7,209.0 456.8,208.5 456.8,208.0 456.9,207.5 456.9,207.0 457.0,206.6 457.1,206.0 457.2,205.5 457.3,205.0 457.4,204.5 457.6,204.0 457.7,203.5 457.9,203.0 458.0,202.6 458.2,202.0 458.4,201.5 458.6,201.0 458.8,200.5 459.0,200.1 459.3,199.5 459.5,199.1 459.9,198.5 460.2,198.0 460.5,197.5 460.8,197.0 461.2,196.5 461.5,196.1 462.0,195.5 462.5,195.0 463.0,194.5 463.5,194.1 464.0,193.6 464.5,193.2 464.8,193.0 465.5,192.6 466.0,192.3 466.5,192.0 467.0,191.7 467.5,191.5 468.0,191.3 468.5,191.1 469.0,191.0 469.5,190.9 470.0,190.7 470.5,190.6 471.0,190.6 471.5,190.5 472.0,190.5 472.5,190.5 473.0,190.5 473.5,190.5 474.0,190.6 474.5,190.6 475.0,190.7 475.5,190.8 476.0,191.0 476.5,191.1 477.0,191.3 477.5,191.5 478.0,191.7 478.5,191.9 479.0,192.2 479.5,192.5 480.0,192.8 480.3,193.0 480.9,193.5 481.5,194.0 482.0,194.5 482.5,195.0 483.0,195.5 483.4,196.0 483.8,196.5 484.0,196.8 484.5,197.5 484.8,198.0 485.0,198.3 485.4,199.0 485.7,199.5 486.0,200.0 486.2,200.5 486.4,201.0 486.6,201.5 486.8,202.0 487.0,202.5 487.1,203.0 487.3,203.5 487.4,204.0 487.6,204.5 487.7,205.0 487.8,205.5 487.9,206.0 488.0,206.5 488.1,207.0 488.1,207.5 488.2,208.0 488.2,208.5 488.3,209.0 488.3,209.5 488.3,210.0 488.3,210.5 488.3,211.0 488.3,211.5 488.3,212.0 488.2,212.5 488.2,213.0 488.1,213.5 488.1,214.0 488.0,214.4 487.9,215.0 487.8,215.5 487.7,216.0 487.6,216.5 487.4,217.0 487.3,217.5 487.1,218.0 487.0,218.4 486.8,219.0 486.6,219.5 486.4,220.0 486.2,220.5 486.0,220.9 485.7,221.5 485.5,221.9 485.1,222.5 484.8,223.0 484.5,223.5 484.2,224.0 483.8,224.5 483.5,224.9 483.0,225.5 482.5,226.0 482.0,226.5 481.5,226.9 481.0,227.4 480.5,227.8 480.2,228.0 479.5,228.4 479.0,228.7 478.5,229.0 478.0,229.3 477.5,229.5 M474.5,228.0 474.0,228.1 473.5,228.1 473.0,228.2 472.5,228.2 472.0,228.2 471.5,228.1 471.0,228.1 470.5,228.0 470.0,227.9 469.5,227.8 469.0,227.6 468.7,227.5 468.0,227.2 467.5,227.0 467.0,226.8 466.6,226.5 466.0,226.2 465.5,225.8 465.1,225.5 464.5,225.0 464.0,224.5 463.5,224.0 463.0,223.5 462.6,223.0 462.2,222.5 462.0,222.2 461.6,221.5 461.3,221.0 461.0,220.5 460.7,220.0 460.5,219.5 460.3,219.0 460.0,218.5 459.9,218.0 459.7,217.5 459.5,217.0 459.4,216.5 459.2,216.0 459.1,215.5 459.0,215.0 458.9,214.5 458.8,214.0 458.7,213.5 458.7,213.0 458.6,212.5 458.6,212.0 458.6,211.5 458.5,211.0 458.5,210.5 458.5,210.0 458.6,209.5 458.6,209.0 458.6,208.5 458.7,208.0 458.7,207.5 458.8,207.0 458.9,206.5 459.0,206.0 459.1,205.5 459.2,205.0 459.4,204.5 459.5,204.1 459.7,203.5 459.9,203.0 460.0,202.6 460.3,202.0 460.5,201.5 460.7,201.0 461.0,200.5 461.3,200.0 461.5,199.6 461.9,199.0 462.2,198.5 462.5,198.2 463.0,197.5 463.5,197.0 464.0,196.5 464.5,196.0 465.0,195.6 465.5,195.2 465.8,195.0 466.5,194.5 467.0,194.2 467.5,194.0 468.0,193.8 468.5,193.6 469.0,193.4 469.5,193.2 470.0,193.1 470.5,193.0 471.0,192.9 471.5,192.9 472.0,192.8 472.5,192.8 473.0,192.8 473.5,192.9 474.0,192.9 474.5,193.0 475.0,193.1 475.5,193.2 476.0,193.3 476.5,193.4 477.0,193.6 477.5,193.7 478.0,193.9 478.5,194.2 479.0,194.4 479.5,194.8 479.8,195.0 480.4,195.5 481.0,196.0 481.4,196.5 481.8,197.0 482.2,197.5 482.5,197.9 482.9,198.5 483.2,199.0 483.5,199.5 483.8,200.0 484.0,200.4 484.3,201.0 484.5,201.4 484.8,202.0 485.0,202.5 485.2,203.0 485.3,203.5 485.5,204.0 485.6,204.5 485.8,205.0 485.9,205.5 486.0,206.0 486.1,206.5 486.2,207.0 486.3,207.5 486.3,208.0 486.4,208.5 486.4,209.0 486.4,209.5 486.5,210.0 486.5,210.5 486.5,211.0 486.4,211.5 486.4,212.0 486.4,212.5 486.3,213.0 486.3,213.5 486.2,214.0 486.1,214.5 486.0,215.0 485.9,215.5 485.8,216.0 485.6,216.5 485.5,216.9 485.3,217.5 485.1,218.0 485.0,218.4 484.7,219.0 484.5,219.5 484.3,220.0 484.0,220.5 483.7,221.0 483.5,221.4 483.1,222.0 482.8,222.5 482.5,222.8 482.0,223.5 481.5,224.0 481.0,224.5 480.5,225.0 480.0,225.4 479.5,225.8 479.2,226.0 478.5,226.5 478.0,226.8 477.5,227.0 477.0,227.2 476.5,227.4 476.0,227.6 475.5,227.8 475.0,227.9 474.5,228.0 M475.0,225.6 474.5,225.8 474.0,225.9 473.5,225.9 473.0,226.0 472.5,226.0 472.0,226.0 471.5,225.9 471.0,225.9 470.5,225.8 470.0,225.6 469.5,225.5 469.0,225.3 468.5,225.1 468.0,224.9 467.5,224.6 467.0,224.3 466.5,224.0 466.0,223.6 465.5,223.2 465.0,222.7 464.8,222.5 464.5,222.2 464.0,221.6 463.5,221.0 463.2,220.5 463.0,220.2 462.6,219.5 462.3,219.0 462.0,218.5 461.8,218.0 461.6,217.5 461.4,217.0 461.2,216.5 461.1,216.0 460.9,215.5 460.8,215.0 460.7,214.5 460.6,214.0 460.5,213.5 460.4,213.0 460.4,212.5 460.3,212.0 460.3,211.5 460.3,211.0 460.3,210.5 460.3,210.0 460.3,209.5 460.3,209.0 460.4,208.5 460.4,208.0 460.5,207.6 460.6,207.0 460.7,206.5 460.8,206.0 460.9,205.5 461.1,205.0 461.2,204.5 461.4,204.0 461.6,203.5 461.8,203.0 462.0,202.6 462.3,202.0 462.5,201.6 462.9,201.0 463.2,200.5 463.5,200.0 463.9,199.5 464.3,199.0 464.8,198.5 465.0,198.3 465.3,198.0 465.9,197.5 466.5,197.0 467.0,196.7 467.3,196.5 468.0,196.1 468.5,195.9 469.0,195.7 469.5,195.5 470.0,195.4 470.5,195.2 471.0,195.1 471.5,195.1 472.0,195.0 472.5,195.0 473.0,195.0 473.5,195.1 474.0,195.1 474.5,195.2 475.0,195.2 475.5,195.3 476.0,195.3 476.5,195.4 477.0,195.5 477.5,195.6 478.0,195.7 478.5,195.9 479.0,196.2 479.4,196.5 480.0,197.0 480.5,197.5 480.9,198.0 481.3,198.5 481.5,198.8 481.9,199.5 482.2,200.0 482.4,200.5 482.7,201.0 482.9,201.5 483.0,201.8 483.3,202.5 483.4,203.0 483.6,203.5 483.8,204.0 483.9,204.5 484.0,204.9 484.2,205.5 484.3,206.0 484.4,206.5 484.5,207.0 484.5,207.3 484.6,208.0 484.7,208.5 484.7,209.0 484.7,209.5 484.7,210.0 484.7,210.5 484.7,211.0 484.7,211.5 484.7,212.0 484.6,212.5 484.6,213.0 484.5,213.5 484.4,214.0 484.3,214.5 484.2,215.0 484.1,215.5 483.9,216.0 483.8,216.5 483.6,217.0 483.4,217.5 483.2,218.0 483.0,218.4 482.7,219.0 482.5,219.4 482.2,220.0 481.8,220.5 481.5,221.0 481.1,221.5 480.7,222.0 480.2,222.5 480.0,222.7 479.7,223.0 479.1,223.5 478.5,224.0 478.0,224.3 477.7,224.5 477.0,224.9 476.5,225.1 476.0,225.3 475.5,225.5 475.0,225.6 M475.0,223.5 474.5,223.6 474.0,223.7 473.5,223.8 473.0,223.9 472.5,223.9 472.0,223.9 471.5,223.8 471.0,223.7 470.5,223.6 470.0,223.5 469.5,223.3 469.0,223.1 468.5,222.9 468.0,222.6 467.5,222.3 467.1,222.0 466.5,221.5 466.0,221.0 465.5,220.5 465.1,220.0 464.7,219.5 464.5,219.2 464.0,218.5 463.7,218.0 463.5,217.5 463.3,217.0 463.1,216.5 462.9,216.0 462.7,215.5 462.6,215.0 462.4,214.5 462.3,214.0 462.2,213.5 462.1,213.0 462.1,212.5 462.0,212.0 462.0,211.5 461.9,211.0 461.9,210.5 461.9,210.0 462.0,209.5 462.0,209.1 462.1,208.5 462.1,208.0 462.2,207.5 462.3,207.0 462.4,206.5 462.5,206.2 462.7,205.5 462.9,205.0 463.0,204.7 463.3,204.0 463.5,203.5 463.7,203.0 464.0,202.6 464.3,202.0 464.7,201.5 465.0,201.1 465.5,200.5 466.0,200.0 466.5,199.5 467.0,199.1 467.5,198.7 467.8,198.5 468.5,198.1 469.0,197.9 469.5,197.7 470.0,197.5 470.5,197.4 471.0,197.3 471.5,197.2 472.0,197.1 472.5,197.1 473.0,197.1 473.5,197.1 474.0,197.1 474.5,197.1 475.0,197.1 475.5,197.1 476.0,197.0 476.5,197.0 477.0,197.0 477.5,197.0 478.0,197.1 478.5,197.3 478.9,197.5 479.5,197.9 480.0,198.4 480.5,199.0 480.8,199.5 481.0,199.8 481.4,200.5 481.6,201.0 481.8,201.5 482.0,202.0 482.2,202.5 482.4,203.0 482.5,203.5 482.6,204.0 482.7,204.5 482.9,205.0 482.9,205.5 483.0,205.9 483.1,206.5 483.2,207.0 483.2,207.5 483.3,208.0 483.3,208.5 483.3,209.0 483.3,209.5 483.3,210.0 483.3,210.5 483.3,211.0 483.2,211.5 483.2,212.0 483.1,212.5 483.0,213.0 483.0,213.5 482.9,214.0 482.7,214.5 482.6,215.0 482.5,215.3 482.3,216.0 482.1,216.5 481.9,217.0 481.6,217.5 481.4,218.0 481.1,218.5 480.8,219.0 480.5,219.4 480.0,220.0 479.6,220.5 479.1,221.0 478.6,221.5 478.0,222.0 477.5,222.3 477.2,222.5 476.5,222.9 476.0,223.1 475.5,223.3 475.0,223.5 M474.5,221.6 474.0,221.8 473.5,221.8 473.0,221.9 472.5,221.9 472.0,221.9 471.5,221.8 471.0,221.8 470.5,221.6 470.1,221.5 469.5,221.3 469.0,221.0 468.5,220.7 468.2,220.5 467.5,220.0 467.0,219.5 466.5,219.0 466.1,218.5 465.7,218.0 465.5,217.7 465.1,217.0 464.8,216.5 464.6,216.0 464.4,215.5 464.2,215.0 464.1,214.5 463.9,214.0 463.8,213.5 463.7,213.0 463.6,212.5 463.6,212.0 463.5,211.5 463.5,211.0 463.5,210.5 463.5,210.2 463.5,209.5 463.6,209.0 463.6,208.5 463.7,208.0 463.8,207.5 463.9,207.0 464.1,206.5 464.2,206.0 464.4,205.5 464.6,205.0 464.8,204.5 465.0,204.2 465.4,203.5 465.7,203.0 466.0,202.6 466.5,202.0 467.0,201.5 467.5,201.0 468.0,200.6 468.5,200.3 469.0,200.0 469.5,199.7 470.0,199.5 470.5,199.4 471.0,199.2 471.5,199.2 472.0,199.1 472.5,199.1 473.0,199.0 473.5,199.0 474.0,199.0 474.5,198.9 475.0,198.7 475.5,198.6 476.0,198.4 476.5,198.3 477.0,198.2 477.5,198.2 478.0,198.3 478.5,198.4 479.0,198.7 479.4,199.0 479.9,199.5 480.2,200.0 480.5,200.4 480.8,201.0 481.0,201.4 481.3,202.0 481.4,202.5 481.6,203.0 481.8,203.5 481.9,204.0 482.0,204.5 482.1,205.0 482.2,205.5 482.2,206.0 482.3,206.5 482.3,207.0 482.4,207.5 482.4,208.0 482.4,208.5 482.4,209.0 482.4,209.5 482.4,210.0 482.3,210.5 482.3,211.0 482.2,211.5 482.1,212.0 482.0,212.5 481.9,213.0 481.8,213.5 481.7,214.0 481.5,214.5 481.3,215.0 481.1,215.5 480.9,216.0 480.6,216.5 480.4,217.0 480.0,217.5 479.7,218.0 479.3,218.5 479.0,218.8 478.5,219.3 478.3,219.5 478.0,219.7 477.7,220.0 477.0,220.5 476.5,220.8 476.1,221.0 475.5,221.3 475.0,221.5 474.5,221.6 M473.0,220.0 472.5,220.1 472.0,220.0 471.7,220.0 471.0,219.9 470.5,219.7 470.0,219.5 469.5,219.3 469.0,219.0 468.5,218.6 468.0,218.2 467.5,217.7 467.0,217.0 466.6,216.5 466.3,216.0 466.1,215.5 465.8,215.0 465.6,214.5 465.5,214.1 465.3,213.5 465.2,213.0 465.1,212.5 465.0,212.0 465.0,211.6 465.0,211.0 465.0,210.5 465.0,210.0 465.0,209.5 465.0,209.0 465.1,208.5 465.2,208.0 465.3,207.5 465.5,207.0 465.6,206.5 465.8,206.0 466.0,205.6 466.3,205.0 466.5,204.7 467.0,204.0 467.4,203.5 467.8,203.0 468.4,202.5 469.0,202.0 469.5,201.7 470.0,201.5 470.5,201.3 471.0,201.1 471.5,201.0 472.0,200.9 472.5,200.9 473.0,200.8 473.5,200.8 474.0,200.7 474.5,200.5 475.0,200.2 475.4,200.0 476.0,199.7 476.4,199.5 477.0,199.3 477.5,199.2 478.0,199.3 478.5,199.4 479.0,199.7 479.3,200.0 479.8,200.5 480.0,200.8 480.4,201.5 480.6,202.0 480.8,202.5 481.0,203.0 481.2,203.5 481.3,204.0 481.4,204.5 481.5,205.0 481.6,205.5 481.6,206.0 481.7,206.5 481.7,207.0 481.8,207.5 481.8,208.0 481.8,208.5 481.7,209.0 481.7,209.5 481.7,210.0 481.6,210.5 481.5,211.0 481.4,211.5 481.3,212.0 481.2,212.5 481.1,213.0 480.9,213.5 480.7,214.0 480.5,214.5 480.3,215.0 480.0,215.4 479.6,216.0 479.3,216.5 479.0,216.8 478.5,217.3 478.0,217.8 477.7,218.0 477.0,218.5 476.5,218.8 476.2,219.0 475.5,219.3 475.1,219.5 474.5,219.7 474.0,219.9 473.5,220.0 473.0,220.0 M474.0,218.1 473.5,218.3 473.0,218.3 472.5,218.3 472.0,218.3 471.5,218.2 471.0,218.1 470.7,218.0 470.0,217.7 469.7,217.5 469.0,217.0 468.5,216.5 468.1,216.0 467.7,215.5 467.5,215.1 467.2,214.5 467.0,214.1 466.8,213.5 466.6,213.0 466.5,212.5 466.4,212.0 466.4,211.5 466.3,211.0 466.3,210.5 466.3,210.0 466.4,209.5 466.4,209.0 466.5,208.6 466.6,208.0 466.8,207.5 467.0,207.0 467.2,206.5 467.4,206.0 467.7,205.5 468.0,205.1 468.5,204.5 469.0,204.0 469.5,203.6 470.0,203.3 470.5,203.1 471.0,202.9 471.5,202.7 472.0,202.7 472.5,202.6 473.0,202.5 473.5,202.4 474.0,202.3 474.5,202.0 475.0,201.6 475.5,201.2 475.8,201.0 476.5,200.5 477.0,200.3 477.5,200.2 478.0,200.2 478.5,200.4 479.0,200.7 479.3,201.0 479.5,201.3 480.0,202.0 480.2,202.5 480.4,203.0 480.6,203.5 480.8,204.0 480.9,204.5 481.0,205.0 481.1,205.5 481.1,206.0 481.2,206.5 481.2,207.0 481.2,207.5 481.2,208.0 481.2,208.5 481.2,209.0 481.1,209.5 481.1,210.0 481.0,210.4 480.9,211.0 480.8,211.5 480.7,212.0 480.5,212.4 480.3,213.0 480.1,213.5 479.8,214.0 479.5,214.5 479.1,215.0 478.7,215.5 478.1,216.0 477.5,216.5 477.0,216.8 476.6,217.0 476.0,217.3 475.6,217.5 475.0,217.8 474.5,218.0 474.0,218.1 M474.0,216.5 473.5,216.7 473.0,216.7 472.5,216.8 472.0,216.7 471.5,216.6 471.1,216.5 470.5,216.2 470.2,216.0 469.5,215.5 469.1,215.0 468.7,214.5 468.5,214.2 468.2,213.5 468.0,213.1 467.8,212.5 467.7,212.0 467.6,211.5 467.6,211.0 467.6,210.5 467.6,210.0 467.6,209.5 467.7,209.0 467.8,208.5 468.0,208.0 468.2,207.5 468.4,207.0 468.7,206.5 469.0,206.1 469.5,205.5 470.0,205.1 470.5,204.8 471.0,204.5 471.5,204.4 472.0,204.2 472.5,204.2 473.0,204.1 473.5,204.0 474.0,203.9 474.5,203.6 475.0,203.1 475.5,202.6 476.0,202.0 476.5,201.6 477.0,201.3 477.5,201.2 478.0,201.2 478.5,201.4 479.0,201.8 479.2,202.0 479.5,202.4 479.8,203.0 480.0,203.4 480.2,204.0 480.4,204.5 480.5,205.0 480.6,205.5 480.6,206.0 480.7,206.5 480.7,207.0 480.7,207.5 480.7,208.0 480.7,208.5 480.7,209.0 480.6,209.5 480.5,210.0 480.4,210.5 480.3,211.0 480.2,211.5 480.0,211.9 479.8,212.5 479.5,213.0 479.2,213.5 478.8,214.0 478.5,214.3 478.2,214.5 477.5,215.0 477.0,215.2 476.5,215.4 476.0,215.7 475.5,215.9 475.0,216.1 474.5,216.3 474.0,216.5 M474.0,215.0 473.5,215.2 473.0,215.3 472.5,215.3 472.0,215.3 471.5,215.1 471.2,215.0 470.5,214.6 470.0,214.1 469.5,213.5 469.3,213.0 469.0,212.5 468.9,212.0 468.8,211.5 468.7,211.0 468.7,210.5 468.7,210.0 468.8,209.5 468.9,209.0 469.0,208.7 469.3,208.0 469.5,207.6 469.9,207.0 470.4,206.5 471.0,206.1 471.5,205.8 472.0,205.7 472.5,205.6 473.0,205.6 473.5,205.5 474.0,205.4 474.5,205.2 475.0,204.7 475.5,204.0 475.9,203.5 476.3,203.0 476.5,202.8 476.9,202.5 477.5,202.2 478.0,202.2 478.5,202.4 479.0,202.9 479.4,203.5 479.6,204.0 479.8,204.5 479.9,205.0 480.1,205.5 480.1,206.0 480.2,206.5 480.2,207.0 480.2,207.5 480.2,208.0 480.2,208.5 480.1,209.0 480.1,209.5 480.0,210.0 479.8,210.5 479.7,211.0 479.5,211.4 479.2,212.0 479.0,212.3 478.5,212.9 478.0,213.3 477.7,213.5 477.0,213.8 476.5,213.9 476.0,214.1 475.5,214.3 475.0,214.5 474.5,214.8 474.0,215.0 M472.5,214.0 472.0,213.9 471.5,213.8 471.1,213.5 470.6,213.0 470.2,212.5 470.0,212.0 469.9,211.5 469.8,211.0 469.7,210.5 469.8,210.0 469.9,209.5 470.0,209.0 470.2,208.5 470.5,208.1 471.0,207.6 471.5,207.2 472.0,207.0 472.5,207.0 473.0,207.0 473.5,207.0 474.0,207.0 474.5,207.0 475.0,206.6 475.4,206.0 475.7,205.5 476.0,205.0 476.3,204.5 476.5,204.2 477.0,203.7 477.3,203.5 478.0,203.4 478.5,203.6 478.8,204.0 479.0,204.3 479.3,205.0 479.5,205.5 479.6,206.0 479.6,206.5 479.7,207.0 479.7,207.5 479.7,208.0 479.6,208.5 479.5,209.0 479.4,209.5 479.3,210.0 479.1,210.5 478.8,211.0 478.5,211.5 478.0,211.9 477.5,212.2 477.0,212.3 476.5,212.3 476.0,212.4 475.7,212.5 475.0,212.9 474.5,213.2 474.1,213.5 473.5,213.8 473.0,214.0 472.5,214.0 M478.0,210.2 477.5,210.4 477.0,210.3 476.5,210.1 476.1,209.5 476.0,209.2 476.0,208.5 476.0,208.0 476.1,207.5 476.3,207.0 476.4,206.5 476.6,206.0 476.9,205.5 477.4,205.0 478.0,204.9 478.5,205.4 478.7,206.0 478.9,206.5 478.9,207.0 478.9,207.5 478.9,208.0 478.8,208.5 478.7,209.0 478.5,209.5 478.1,210.0 M473.5,212.5 473.0,212.8 472.5,212.8 472.0,212.7 471.6,212.5 471.1,212.0 470.8,211.5 470.7,211.0 470.7,210.5 470.7,210.0 470.8,209.5 471.0,209.2 471.5,208.6 472.0,208.3 472.5,208.1 473.0,208.2 473.5,208.4 474.0,208.7 474.3,209.0 474.5,209.3 474.8,210.0 474.8,210.5 474.6,211.0 474.4,211.5 474.1,212.0 473.5,212.5 M473.0,211.6 472.5,211.7 472.0,211.6 471.6,211.0 471.5,210.5 471.6,210.0 471.9,209.5 472.5,209.2 473.0,209.4 473.5,210.0 473.5,210.5 473.4,211.0 473.1,211.5" fill="none" stroke="#222" stroke-width="0.6" stroke-linejoin="round"/>
<path d="M477.5,203 C480,204 480.5,210 479,214 C477.5,212 477,207 477.5,203 Z" fill="#111" opacity="0.85"/>
<path d="M446.8,200.2h0.9v0.9h-0.9zM455.4,201.5h0.9v0.9h-0.9zM447.3,213.3h0.9v0.9h-0.9zM444.4,223.2h0.9v0.9h-0.9zM440.3,227.9h0.9v0.9h-0.9zM446.3,214.3h0.9v0.9h-0.9zM447.1,202.3h0.9v0.9h-0.9zM455.9,218.2h0.9v0.9h-0.9zM446.2,219.3h0.9v0.9h-0.9zM453.4,213.6h0.9v0.9h-0.9z" fill="#666"/>
<rect x="419.6" y="35.9" width="93.10" height="93.80" fill="none" stroke="#000" stroke-width="1.7"/>
<rect x="419.6" y="69.0" width="32.90" height="30.20" fill="none" stroke="#000" stroke-width="1.7"/>
<path d="M458.80,129.60 L460.40,96.50 L461.90,95.40 L472.70,91.90 L485.80,95.80 L490.40,102.30 L490.80,110.40 L490.50,129.60" fill="none" stroke="#000" stroke-width="1.9" stroke-linejoin="round"/>
<text x="466" y="60.5" font-size="14.6" text-anchor="middle" fill="#000">naive</text>
<rect x="419.6" y="136.3" width="93.10" height="93.90" fill="none" stroke="#000" stroke-width="1.7"/>
<rect x="419.6" y="170.2" width="32.90" height="29.40" fill="none" stroke="#000" stroke-width="1.7"/>
<path d="M458.80,230.10 L460.40,197.00 L461.90,195.90 L472.70,192.30 L485.80,196.20 L490.40,202.70 L490.80,210.80 L490.50,230.10" fill="none" stroke="#000" stroke-width="1.9" stroke-linejoin="round"/>
<text x="475" y="159.8" font-size="14.6" text-anchor="middle" fill="#000">memory</text>
<line x1="410.20" y1="49.70" x2="410.20" y2="236.50" stroke="#888" stroke-width="1.2"/>
<line x1="409.60" y1="235.90" x2="520.00" y2="235.90" stroke="#888" stroke-width="1.2"/>
<text transform="translate(403.1,142) rotate(-90)" font-size="14.7" text-anchor="middle" textLength="57.4" lengthAdjust="spacingAndGlyphs" fill="#000">CD45RB</text>
<text x="464.6" y="253" font-size="14.6" text-anchor="middle" fill="#000">CD44</text>
<text x="-0.2" y="299.6" font-size="24.5" font-weight="bold" fill="#000">B</text>
<text x="40.5" y="292.9" font-size="14.5" textLength="18" lengthAdjust="spacingAndGlyphs" fill="#000">B6</text>
<line x1="61.50" y1="288.90" x2="75.00" y2="288.90" stroke="#000" stroke-width="1.6"/>
<path d="M71.00,285.40 L77.00,288.90 L71.00,292.40" fill="none" stroke="#000" stroke-width="1.6" stroke-linejoin="round"/>
<text x="80.8" y="292.9" font-size="14.5" textLength="48.2" lengthAdjust="spacingAndGlyphs" fill="#000">BALB/c</text>
<text x="158.8" y="314.6" font-size="15.8" text-anchor="middle" textLength="88.8" lengthAdjust="spacingAndGlyphs" fill="#000">weight curve</text>
<line x1="59.30" y1="320.00" x2="59.30" y2="450.00" stroke="#000" stroke-width="1.6"/>
<line x1="58.50" y1="449.20" x2="266.60" y2="449.20" stroke="#000" stroke-width="1.6"/>
<line x1="265.80" y1="320.80" x2="265.80" y2="449.20" stroke="#000" stroke-width="1.6"/>
<line x1="70.80" y1="320.80" x2="266.60" y2="320.80" stroke="#000" stroke-width="1.6"/>
<line x1="56.10" y1="449.20" x2="59.30" y2="449.20" stroke="#000" stroke-width="1"/>
<text x="54.099999999999994" y="452.59999999999997" font-size="9.6" text-anchor="end" fill="#222">70</text>
<line x1="56.10" y1="423.52" x2="59.30" y2="423.52" stroke="#000" stroke-width="1"/>
<text x="54.099999999999994" y="426.91999999999996" font-size="9.6" text-anchor="end" fill="#222">80</text>
<line x1="56.10" y1="397.84" x2="59.30" y2="397.84" stroke="#000" stroke-width="1"/>
<text x="54.099999999999994" y="401.23999999999995" font-size="9.6" text-anchor="end" fill="#222">90</text>
<line x1="56.10" y1="372.16" x2="59.30" y2="372.16" stroke="#000" stroke-width="1"/>
<text x="54.099999999999994" y="375.55999999999995" font-size="9.6" text-anchor="end" fill="#222">100</text>
<line x1="56.10" y1="346.48" x2="59.30" y2="346.48" stroke="#000" stroke-width="1"/>
<text x="54.099999999999994" y="349.88" font-size="9.6" text-anchor="end" fill="#222">110</text>
<line x1="56.10" y1="320.80" x2="59.30" y2="320.80" stroke="#000" stroke-width="1"/>
<text x="54.099999999999994" y="324.19999999999993" font-size="9.6" text-anchor="end" fill="#222">120</text>
<line x1="59.60" y1="449.20" x2="59.60" y2="453.00" stroke="#000" stroke-width="1"/>
<text x="59.6" y="463.4" font-size="9.6" text-anchor="middle" fill="#222">0</text>
<line x1="91.91" y1="449.20" x2="91.91" y2="453.00" stroke="#000" stroke-width="1"/>
<text x="91.91499999999999" y="463.4" font-size="9.6" text-anchor="middle" fill="#222">5</text>
<line x1="124.23" y1="449.20" x2="124.23" y2="453.00" stroke="#000" stroke-width="1"/>
<text x="124.22999999999999" y="463.4" font-size="9.6" text-anchor="middle" fill="#222">10</text>
<line x1="156.55" y1="449.20" x2="156.55" y2="453.00" stroke="#000" stroke-width="1"/>
<text x="156.54500000000002" y="463.4" font-size="9.6" text-anchor="middle" fill="#222">15</text>
<line x1="188.86" y1="449.20" x2="188.86" y2="453.00" stroke="#000" stroke-width="1"/>
<text x="188.85999999999999" y="463.4" font-size="9.6" text-anchor="middle" fill="#222">20</text>
<line x1="221.17" y1="449.20" x2="221.17" y2="453.00" stroke="#000" stroke-width="1"/>
<text x="221.17499999999998" y="463.4" font-size="9.6" text-anchor="middle" fill="#222">25</text>
<line x1="253.49" y1="449.20" x2="253.49" y2="453.00" stroke="#000" stroke-width="1"/>
<text x="253.49" y="463.4" font-size="9.6" text-anchor="middle" fill="#222">30</text>
<path d="M66.06,372.16 L78.99,397.84 L98.38,436.36 L124.23,424.55 L143.62,425.06 L169.47,404.26 L188.86,426.60 L208.25,431.48 L234.10,431.48" fill="none" stroke="#000" stroke-width="1.5" stroke-linejoin="round"/>
<path d="M66.06,372.16 L78.99,397.84 L98.38,429.17 L124.23,417.10 L143.62,416.59 L169.47,405.03 L188.86,409.65 L208.25,408.63 L234.10,411.45" fill="none" stroke="#8a8a8a" stroke-width="1.8" stroke-linejoin="round"/>
<path d="M66.06,372.16 L78.99,397.84 L98.38,417.10 L124.23,391.93 L143.62,380.89 L169.47,361.89 L188.86,358.04 L208.25,345.97 L234.10,348.02" fill="none" stroke="#000" stroke-width="1.7" stroke-linejoin="round" stroke-dasharray="10.5,9.9" stroke-dashoffset="1.8"/>
<path d="M66.06,372.16 L78.99,397.84 L98.38,427.12 L124.23,390.39 L143.62,386.54 L169.47,363.43 L188.86,370.36 L208.25,369.59 L234.10,369.59" fill="none" stroke="#888" stroke-width="3.6" stroke-linejoin="round"/>
<path d="M66.06,372.16 L78.99,397.84 L98.38,424.55 L124.23,401.44 L143.62,395.79 L169.47,357.27 L188.86,366.51 L208.25,363.43 L234.10,360.60" fill="none" stroke="#000" stroke-width="3.6" stroke-linejoin="round"/>
<line x1="209.50" y1="352.10" x2="209.50" y2="359.30" stroke="#000" stroke-width="1.6"/>
<line x1="206.30" y1="353.90" x2="212.70" y2="357.50" stroke="#000" stroke-width="1.6"/>
<line x1="206.30" y1="357.50" x2="212.70" y2="353.90" stroke="#000" stroke-width="1.6"/>
<text x="191.8" y="382.6" font-size="10.3" text-anchor="middle" fill="#222">@</text>
<text x="209.7" y="381.8" font-size="10.3" text-anchor="middle" fill="#222">@</text>
<text x="229.4" y="382.6" font-size="10.3" text-anchor="middle" fill="#222">@</text>
<path d="M236.40,360.40 L242.50,360.40 L242.50,370.20 L236.40,370.20" fill="none" stroke="#666" stroke-width="0.9" stroke-linejoin="round"/>
<text x="244.2" y="368.8" font-size="10" textLength="13.9" lengthAdjust="spacingAndGlyphs" fill="#000">NS</text>
<path d="M244.20,416.50 V426.80 M240.85,419.59 H247.55" stroke="#000" stroke-width="1.5" fill="none"/>
<text transform="translate(31.7,391.6) rotate(-90)" font-size="15.5" text-anchor="middle" textLength="117.4" lengthAdjust="spacingAndGlyphs" fill="#000">% original weight</text>
<text x="146.9" y="478.6" font-size="15.8" text-anchor="middle" textLength="106.6" lengthAdjust="spacingAndGlyphs" fill="#000">days after BMT</text>
<line x1="291.20" y1="343.90" x2="300.40" y2="343.90" stroke="#000" stroke-width="1.6"/>
<line x1="306.50" y1="343.90" x2="315.80" y2="343.90" stroke="#000" stroke-width="1.6"/>
<text x="323.5" y="346.6" font-size="13.2" textLength="91.7" lengthAdjust="spacingAndGlyphs" fill="#000">BM ctrls (n=10)</text>
<line x1="291.20" y1="361.90" x2="312.40" y2="361.90" stroke="#000" stroke-width="1.3"/>
<text x="323.5" y="364.4" font-size="13.2" textLength="90" lengthAdjust="spacingAndGlyphs" fill="#000">WT naive (n=9)</text>
<line x1="291.20" y1="379.20" x2="315.40" y2="379.20" stroke="#888" stroke-width="1.3"/>
<text x="323.5" y="382.0" font-size="13.2" textLength="98" lengthAdjust="spacingAndGlyphs" fill="#000">LΔP naive (n=5)</text>
<line x1="291.20" y1="396.10" x2="315.40" y2="396.10" stroke="#000" stroke-width="3.6"/>
<text x="323.5" y="398.6" font-size="13.2" textLength="102" lengthAdjust="spacingAndGlyphs" fill="#000">WT memory (n=9)</text>
<line x1="291.20" y1="413.50" x2="315.40" y2="413.50" stroke="#888" stroke-width="3.6"/>
<text x="323.5" y="417.0" font-size="13.2" textLength="123" lengthAdjust="spacingAndGlyphs" fill="#000">LΔP memory (n=10)</text>
<text x="1.9" y="524.5" font-size="24" font-weight="bold" fill="#000">C</text>
<text x="145.3" y="525.0" font-size="15.8" text-anchor="middle" textLength="53.5" lengthAdjust="spacingAndGlyphs" fill="#000">survival</text>
<line x1="59.70" y1="533.80" x2="59.70" y2="664.70" stroke="#000" stroke-width="1.6"/>
<line x1="58.90" y1="663.90" x2="254.70" y2="663.90" stroke="#000" stroke-width="1.6"/>
<line x1="253.90" y1="534.60" x2="253.90" y2="663.90" stroke="#000" stroke-width="1.6"/>
<line x1="59.70" y1="534.60" x2="254.70" y2="534.60" stroke="#000" stroke-width="1.6"/>
<line x1="56.50" y1="663.90" x2="59.70" y2="663.90" stroke="#000" stroke-width="1"/>
<text x="53.300000000000004" y="667.3" font-size="9.4" text-anchor="end" fill="#222">0</text>
<line x1="56.50" y1="634.59" x2="59.70" y2="634.59" stroke="#000" stroke-width="1"/>
<text x="53.300000000000004" y="637.9875" font-size="9.4" text-anchor="end" fill="#222">25</text>
<line x1="56.50" y1="605.27" x2="59.70" y2="605.27" stroke="#000" stroke-width="1"/>
<text x="53.300000000000004" y="608.675" font-size="9.4" text-anchor="end" fill="#222">50</text>
<line x1="56.50" y1="575.96" x2="59.70" y2="575.96" stroke="#000" stroke-width="1"/>
<text x="53.300000000000004" y="579.3625" font-size="9.4" text-anchor="end" fill="#222">75</text>
<line x1="56.50" y1="546.65" x2="59.70" y2="546.65" stroke="#000" stroke-width="1"/>
<text x="53.300000000000004" y="550.05" font-size="9.4" text-anchor="end" fill="#222">100</text>
<line x1="59.70" y1="663.90" x2="59.70" y2="667.70" stroke="#000" stroke-width="1"/>
<text x="59.7" y="677.6" font-size="9.6" text-anchor="middle" fill="#222">0</text>
<line x1="92.02" y1="663.90" x2="92.02" y2="667.70" stroke="#000" stroke-width="1"/>
<text x="92.015" y="677.6" font-size="9.6" text-anchor="middle" fill="#222">5</text>
<line x1="124.33" y1="663.90" x2="124.33" y2="667.70" stroke="#000" stroke-width="1"/>
<text x="124.33" y="677.6" font-size="9.6" text-anchor="middle" fill="#222">10</text>
<line x1="156.65" y1="663.90" x2="156.65" y2="667.70" stroke="#000" stroke-width="1"/>
<text x="156.645" y="677.6" font-size="9.6" text-anchor="middle" fill="#222">15</text>
<line x1="188.96" y1="663.90" x2="188.96" y2="667.70" stroke="#000" stroke-width="1"/>
<text x="188.95999999999998" y="677.6" font-size="9.6" text-anchor="middle" fill="#222">20</text>
<line x1="221.27" y1="663.90" x2="221.27" y2="667.70" stroke="#000" stroke-width="1"/>
<text x="221.27499999999998" y="677.6" font-size="9.6" text-anchor="middle" fill="#222">25</text>
<line x1="253.59" y1="663.90" x2="253.59" y2="667.70" stroke="#000" stroke-width="1"/>
<text x="253.59000000000003" y="677.6" font-size="9.6" text-anchor="middle" fill="#222">30</text>
<path d="M59.70,546.65 L188.96,546.65 L188.96,611.84 L208.35,611.84 L208.35,650.89 L234.20,650.89 L234.20,663.90" fill="none" stroke="#000" stroke-width="1.4" stroke-linejoin="round"/>
<path d="M59.70,546.65 L188.96,546.65 L188.96,617.00 L234.20,617.00" fill="none" stroke="#888" stroke-width="1.7" stroke-linejoin="round"/>
<line x1="198.50" y1="546.20" x2="204.20" y2="546.20" stroke="#000" stroke-width="1.8"/>
<line x1="214.60" y1="546.20" x2="219.20" y2="546.20" stroke="#000" stroke-width="1.8"/>
<line x1="229.20" y1="546.20" x2="234.20" y2="546.20" stroke="#000" stroke-width="1.8"/>
<path d="M242.60,613.60 V623.90 M239.25,616.69 H245.95" stroke="#000" stroke-width="1.5" fill="none"/>
<path d="M244.40,646.30 V656.60 M241.05,649.39 H247.75" stroke="#000" stroke-width="1.5" fill="none"/>
<text transform="translate(35.6,604) rotate(-90)" font-size="15.1" text-anchor="middle" textLength="69" lengthAdjust="spacingAndGlyphs" fill="#000">% survival</text>
<text x="148.2" y="691.8" font-size="15.8" text-anchor="middle" textLength="109" lengthAdjust="spacingAndGlyphs" fill="#000">days after BMT</text>
<line x1="266.00" y1="571.50" x2="270.90" y2="571.50" stroke="#000" stroke-width="1.6"/>
<line x1="281.80" y1="571.50" x2="286.70" y2="571.50" stroke="#000" stroke-width="1.6"/>
<text x="297.7" y="573" font-size="12.8" fill="#000">BM ctrls and</text>
<text x="297.7" y="584.5" font-size="12.8" textLength="88.5" lengthAdjust="spacingAndGlyphs" fill="#000">memory groups</text>
<line x1="266.00" y1="604.70" x2="293.40" y2="604.70" stroke="#000" stroke-width="1.4"/>
<text x="297.7" y="607.6" font-size="12.8" textLength="90.6" lengthAdjust="spacingAndGlyphs" fill="#000">WT naive&#160; (n=9)</text>
<line x1="266.00" y1="627.80" x2="293.40" y2="627.80" stroke="#888" stroke-width="1.4"/>
<text x="297.7" y="631.2" font-size="12.8" textLength="92.9" lengthAdjust="spacingAndGlyphs" fill="#000">LΔP naive (n=5)</text>
<text x="0.8" y="737.6" font-size="24.5" font-weight="bold" fill="#000">D</text>
<line x1="36.20" y1="762.00" x2="36.20" y2="896.30" stroke="#000" stroke-width="1.5"/>
<line x1="32.00" y1="895.60" x2="235.70" y2="895.60" stroke="#000" stroke-width="1.5"/>
<line x1="235.00" y1="762.70" x2="235.00" y2="895.60" stroke="#000" stroke-width="1.5"/>
<line x1="32.00" y1="762.70" x2="235.70" y2="762.70" stroke="#000" stroke-width="1.5"/>
<line x1="32.00" y1="895.60" x2="36.20" y2="895.60" stroke="#000" stroke-width="1.1"/>
<text x="26.900000000000002" y="899.2" font-size="9.6" text-anchor="end" fill="#222">0</text>
<line x1="32.00" y1="868.80" x2="36.20" y2="868.80" stroke="#000" stroke-width="1.1"/>
<text x="26.900000000000002" y="872.4000000000001" font-size="9.6" text-anchor="end" fill="#222">2</text>
<line x1="32.00" y1="842.00" x2="36.20" y2="842.00" stroke="#000" stroke-width="1.1"/>
<text x="26.900000000000002" y="845.6" font-size="9.6" text-anchor="end" fill="#222">4</text>
<line x1="32.00" y1="815.20" x2="36.20" y2="815.20" stroke="#000" stroke-width="1.1"/>
<text x="26.900000000000002" y="818.8000000000001" font-size="9.6" text-anchor="end" fill="#222">6</text>
<line x1="32.00" y1="788.40" x2="36.20" y2="788.40" stroke="#000" stroke-width="1.1"/>
<text x="26.900000000000002" y="792.0" font-size="9.6" text-anchor="end" fill="#222">8</text>
<line x1="32.00" y1="761.60" x2="36.20" y2="761.60" stroke="#000" stroke-width="1.1"/>
<text x="26.900000000000002" y="765.2" font-size="9.6" text-anchor="end" fill="#222">10</text>
<line x1="55.10" y1="895.60" x2="55.10" y2="899.80" stroke="#000" stroke-width="1.1"/>
<text transform="translate(52.6,910.6) rotate(-45)" font-size="14" text-anchor="end" fill="#000">BM ctrls</text>
<line x1="95.50" y1="895.60" x2="95.50" y2="899.80" stroke="#000" stroke-width="1.1"/>
<text transform="translate(95.3,910.6) rotate(-45)" font-size="14" text-anchor="end" fill="#000">WT naive</text>
<line x1="135.30" y1="895.60" x2="135.30" y2="899.80" stroke="#000" stroke-width="1.1"/>
<text transform="translate(136.7,910.6) rotate(-45)" font-size="14" text-anchor="end" fill="#000">LΔP naive</text>
<line x1="174.70" y1="895.60" x2="174.70" y2="899.80" stroke="#000" stroke-width="1.1"/>
<text transform="translate(177.0,908.5) rotate(-45)" font-size="14" text-anchor="end" fill="#000">WT memory</text>
<line x1="214.70" y1="895.60" x2="214.70" y2="899.80" stroke="#000" stroke-width="1.1"/>
<text transform="translate(218.0,908.7) rotate(-45)" font-size="14" text-anchor="end" fill="#000">LΔP memory</text>
<circle cx="55.10" cy="855.40" r="3.4" fill="none" stroke="#000" stroke-width="1.2"/>
<circle cx="62.30" cy="882.20" r="3.4" fill="none" stroke="#000" stroke-width="1.2"/>
<circle cx="55.40" cy="888.90" r="3.4" fill="none" stroke="#000" stroke-width="1.2"/>
<circle cx="43.80" cy="868.80" r="3.4" fill="none" stroke="#000" stroke-width="1.2"/>
<circle cx="48.43" cy="868.80" r="3.4" fill="none" stroke="#000" stroke-width="1.2"/>
<circle cx="53.06" cy="868.80" r="3.4" fill="none" stroke="#000" stroke-width="1.2"/>
<circle cx="57.69" cy="868.80" r="3.4" fill="none" stroke="#000" stroke-width="1.2"/>
<circle cx="62.32" cy="868.80" r="3.4" fill="none" stroke="#000" stroke-width="1.2"/>
<circle cx="66.95" cy="868.80" r="3.4" fill="none" stroke="#000" stroke-width="1.2"/>
<circle cx="71.58" cy="868.80" r="3.4" fill="none" stroke="#000" stroke-width="1.2"/>
<path d="M84.10,818.50 L88.10,811.90 L92.10,818.50 Z M99.50,818.50 L103.50,811.90 L107.50,818.50 Z M91.50,825.20 L95.50,818.60 L99.50,825.20 Z M85.30,838.60 L89.30,832.00 L93.30,838.60 Z M79.50,845.30 L83.50,838.70 L87.50,845.30 Z M91.50,845.30 L95.50,838.70 L99.50,845.30 Z M101.00,845.30 L105.00,838.70 L109.00,845.30 Z M91.50,878.80 L95.50,872.20 L99.50,878.80 Z M131.50,798.40 L135.50,791.80 L139.50,798.40 Z M129.50,811.80 L133.50,805.20 L137.50,811.80 Z M121.80,818.50 L125.80,811.90 L129.80,818.50 Z M133.80,818.50 L137.80,811.90 L141.80,818.50 Z M143.30,818.50 L147.30,811.90 L151.30,818.50 Z M168.40,818.50 L172.40,811.90 L176.40,818.50 Z M171.00,852.00 L175.00,845.40 L179.00,852.00 Z M161.50,858.70 L165.50,852.10 L169.50,858.70 Z M156.40,872.10 L160.40,865.50 L164.40,872.10 Z M168.40,872.10 L172.40,865.50 L176.40,872.10 Z M180.20,878.80 L184.20,872.20 L188.20,878.80 Z M155.60,885.50 L159.60,878.90 L163.60,885.50 Z M165.20,885.50 L169.20,878.90 L173.20,885.50 Z M174.40,885.50 L178.40,878.90 L182.40,885.50 Z M198.70,798.40 L202.70,791.80 L206.70,798.40 Z M210.70,798.40 L214.70,791.80 L218.70,798.40 Z M210.70,811.80 L214.70,805.20 L218.70,811.80 Z M210.70,825.20 L214.70,818.60 L218.70,825.20 Z M217.20,858.70 L221.20,852.10 L225.20,858.70 Z M207.20,865.40 L211.20,858.80 L215.20,865.40 Z M217.90,872.10 L221.90,865.50 L225.90,872.10 Z M198.70,878.80 L202.70,872.20 L206.70,878.80 Z M210.70,878.80 L214.70,872.20 L218.70,878.80 Z M210.70,892.20 L214.70,885.60 L218.70,892.20 Z" fill="none" stroke="#000" stroke-width="1.3" stroke-linejoin="miter"/>
<line x1="42.00" y1="870.81" x2="70.00" y2="870.81" stroke="#000" stroke-width="2.6"/>
<line x1="81.20" y1="835.57" x2="108.80" y2="835.57" stroke="#000" stroke-width="2.6"/>
<line x1="120.40" y1="809.57" x2="149.60" y2="809.57" stroke="#000" stroke-width="2.6"/>
<line x1="157.80" y1="864.11" x2="186.50" y2="864.11" stroke="#000" stroke-width="2.6"/>
<line x1="200.10" y1="844.81" x2="228.50" y2="844.81" stroke="#000" stroke-width="2.6"/>
<path d="M176.20,783.60 L176.20,779.40 L216.80,779.40 L216.80,783.60" fill="none" stroke="#444" stroke-width="1.0" stroke-linejoin="round"/>
<text x="197.0" y="776.7" font-size="11.8" text-anchor="middle" fill="#111">NS</text>
<text x="124.9" y="754.9" font-size="15.3" text-anchor="middle" textLength="64.3" lengthAdjust="spacingAndGlyphs" fill="#000">liver path</text>
<text transform="translate(11.5,828.8) rotate(-90)" font-size="14.3" text-anchor="middle" fill="#000">path score</text>
<line x1="297.40" y1="761.80" x2="297.40" y2="896.00" stroke="#000" stroke-width="1.5"/>
<line x1="293.20" y1="895.30" x2="497.20" y2="895.30" stroke="#000" stroke-width="1.5"/>
<line x1="496.50" y1="762.50" x2="496.50" y2="895.30" stroke="#000" stroke-width="1.5"/>
<line x1="293.20" y1="762.50" x2="497.20" y2="762.50" stroke="#000" stroke-width="1.5"/>
<line x1="293.20" y1="895.40" x2="297.40" y2="895.40" stroke="#000" stroke-width="1.1"/>
<text x="289.59999999999997" y="899.0" font-size="9.6" text-anchor="end" fill="#222">0</text>
<line x1="293.20" y1="873.24" x2="297.40" y2="873.24" stroke="#000" stroke-width="1.1"/>
<text x="289.59999999999997" y="876.84" font-size="9.6" text-anchor="end" fill="#222">2</text>
<line x1="293.20" y1="851.08" x2="297.40" y2="851.08" stroke="#000" stroke-width="1.1"/>
<text x="289.59999999999997" y="854.68" font-size="9.6" text-anchor="end" fill="#222">4</text>
<line x1="293.20" y1="828.92" x2="297.40" y2="828.92" stroke="#000" stroke-width="1.1"/>
<text x="289.59999999999997" y="832.52" font-size="9.6" text-anchor="end" fill="#222">6</text>
<line x1="293.20" y1="806.76" x2="297.40" y2="806.76" stroke="#000" stroke-width="1.1"/>
<text x="289.59999999999997" y="810.36" font-size="9.6" text-anchor="end" fill="#222">8</text>
<line x1="293.20" y1="784.60" x2="297.40" y2="784.60" stroke="#000" stroke-width="1.1"/>
<text x="289.59999999999997" y="788.2" font-size="9.6" text-anchor="end" fill="#222">10</text>
<line x1="293.20" y1="762.44" x2="297.40" y2="762.44" stroke="#000" stroke-width="1.1"/>
<text x="289.59999999999997" y="766.04" font-size="9.6" text-anchor="end" fill="#222">12</text>
<line x1="317.00" y1="895.30" x2="317.00" y2="899.50" stroke="#000" stroke-width="1.1"/>
<text transform="translate(314.5,910.3) rotate(-45)" font-size="14" text-anchor="end" fill="#000">BM ctrls</text>
<line x1="357.30" y1="895.30" x2="357.30" y2="899.50" stroke="#000" stroke-width="1.1"/>
<text transform="translate(357.1,910.3) rotate(-45)" font-size="14" text-anchor="end" fill="#000">WT naive</text>
<line x1="397.50" y1="895.30" x2="397.50" y2="899.50" stroke="#000" stroke-width="1.1"/>
<text transform="translate(398.9,910.3) rotate(-45)" font-size="14" text-anchor="end" fill="#000">LΔP naive</text>
<line x1="436.80" y1="895.30" x2="436.80" y2="899.50" stroke="#000" stroke-width="1.1"/>
<text transform="translate(439.1,908.2) rotate(-45)" font-size="14" text-anchor="end" fill="#000">WT memory</text>
<line x1="476.30" y1="895.30" x2="476.30" y2="899.50" stroke="#000" stroke-width="1.1"/>
<text transform="translate(479.6,908.4) rotate(-45)" font-size="14" text-anchor="end" fill="#000">LΔP memory</text>
<circle cx="317.70" cy="828.92" r="3.4" fill="none" stroke="#000" stroke-width="1.2"/>
<circle cx="317.70" cy="846.09" r="3.4" fill="none" stroke="#000" stroke-width="1.2"/>
<circle cx="308.70" cy="862.16" r="3.4" fill="none" stroke="#000" stroke-width="1.2"/>
<circle cx="316.40" cy="868.81" r="3.4" fill="none" stroke="#000" stroke-width="1.2"/>
<circle cx="325.10" cy="873.24" r="3.4" fill="none" stroke="#000" stroke-width="1.2"/>
<circle cx="304.30" cy="878.78" r="3.4" fill="none" stroke="#000" stroke-width="1.2"/>
<circle cx="312.10" cy="878.78" r="3.4" fill="none" stroke="#000" stroke-width="1.2"/>
<circle cx="319.90" cy="878.78" r="3.4" fill="none" stroke="#000" stroke-width="1.2"/>
<circle cx="329.40" cy="878.78" r="3.4" fill="none" stroke="#000" stroke-width="1.2"/>
<circle cx="338.10" cy="878.78" r="3.4" fill="none" stroke="#000" stroke-width="1.2"/>
<path d="M353.30,782.36 L357.30,775.76 L361.30,782.36 Z M341.60,798.98 L345.60,792.38 L349.60,798.98 Z M352.00,804.52 L356.00,797.92 L360.00,804.52 Z M342.40,810.06 L346.40,803.46 L350.40,810.06 Z M359.70,810.06 L363.70,803.46 L367.70,810.06 Z M350.20,815.60 L354.20,809.00 L358.20,815.60 Z M366.20,815.60 L370.20,809.00 L374.20,815.60 Z M357.70,821.14 L361.70,814.54 L365.70,821.14 Z M393.80,804.52 L397.80,797.92 L401.80,804.52 Z M402.20,810.06 L406.20,803.46 L410.20,810.06 Z M393.20,821.14 L397.20,814.54 L401.20,821.14 Z M403.90,821.14 L407.90,814.54 L411.90,821.14 Z M396.10,882.08 L400.10,875.48 L404.10,882.08 Z M431.60,826.68 L435.60,820.08 L439.60,826.68 Z M430.20,848.84 L434.20,842.24 L438.20,848.84 Z M440.30,848.84 L444.30,842.24 L448.30,848.84 Z M422.40,854.38 L426.40,847.78 L430.40,854.38 Z M431.60,859.92 L435.60,853.32 L439.60,859.92 Z M437.50,876.54 L441.50,869.94 L445.50,876.54 Z M420.70,882.08 L424.70,875.48 L428.70,882.08 Z M431.60,882.08 L435.60,875.48 L439.60,882.08 Z M443.20,882.08 L447.20,875.48 L451.20,882.08 Z M472.60,815.60 L476.60,809.00 L480.60,815.60 Z M476.10,837.76 L480.10,831.16 L484.10,837.76 Z M466.90,843.30 L470.90,836.70 L474.90,843.30 Z M474.90,848.84 L478.90,842.24 L482.90,848.84 Z M483.50,848.84 L487.50,842.24 L491.50,848.84 Z M464.00,854.38 L468.00,847.78 L472.00,854.38 Z M461.00,865.46 L465.00,858.86 L469.00,865.46 Z M472.60,865.46 L476.60,858.86 L480.60,865.46 Z M481.30,871.00 L485.30,864.40 L489.30,871.00 Z M472.60,882.08 L476.60,875.48 L480.60,882.08 Z" fill="none" stroke="#000" stroke-width="1.3" stroke-linejoin="miter"/>
<line x1="303.50" y1="867.15" x2="331.20" y2="867.15" stroke="#000" stroke-width="2.6"/>
<line x1="343.00" y1="803.21" x2="370.70" y2="803.21" stroke="#000" stroke-width="2.6"/>
<line x1="385.40" y1="823.71" x2="414.50" y2="823.71" stroke="#000" stroke-width="2.6"/>
<line x1="421.20" y1="858.61" x2="449.50" y2="858.61" stroke="#000" stroke-width="2.6"/>
<line x1="461.90" y1="849.31" x2="491.00" y2="849.31" stroke="#000" stroke-width="2.6"/>
<path d="M435.60,791.60 L435.60,787.30 L476.30,787.30 L476.30,791.60" fill="none" stroke="#444" stroke-width="1.0" stroke-linejoin="round"/>
<text x="456.45000000000005" y="785.7" font-size="11.8" text-anchor="middle" fill="#111">NS</text>
<text x="390" y="755.7" font-size="15.3" text-anchor="middle" textLength="72.6" lengthAdjust="spacingAndGlyphs" fill="#000">colon path</text>
<text transform="translate(273,828.4) rotate(-90)" font-size="14.3" text-anchor="middle" fill="#000">path score</text>
<line x1="46.20" y1="1011.20" x2="46.20" y2="1145.70" stroke="#000" stroke-width="1.5"/>
<line x1="42.00" y1="1145.00" x2="283.20" y2="1145.00" stroke="#000" stroke-width="1.5"/>
<line x1="282.50" y1="1011.90" x2="282.50" y2="1145.00" stroke="#000" stroke-width="1.5"/>
<line x1="42.00" y1="1011.90" x2="283.20" y2="1011.90" stroke="#000" stroke-width="1.5"/>
<line x1="42.00" y1="1139.10" x2="46.20" y2="1139.10" stroke="#000" stroke-width="1.1"/>
<text x="38.1" y="1142.6999999999998" font-size="9.4" text-anchor="end" fill="#222">0</text>
<line x1="42.00" y1="1113.60" x2="46.20" y2="1113.60" stroke="#000" stroke-width="1.1"/>
<text x="38.1" y="1117.1999999999998" font-size="9.4" text-anchor="end" fill="#222">2</text>
<line x1="42.00" y1="1088.10" x2="46.20" y2="1088.10" stroke="#000" stroke-width="1.1"/>
<text x="38.1" y="1091.6999999999998" font-size="9.4" text-anchor="end" fill="#222">4</text>
<line x1="42.00" y1="1062.60" x2="46.20" y2="1062.60" stroke="#000" stroke-width="1.1"/>
<text x="38.1" y="1066.1999999999998" font-size="9.4" text-anchor="end" fill="#222">6</text>
<line x1="42.00" y1="1037.10" x2="46.20" y2="1037.10" stroke="#000" stroke-width="1.1"/>
<text x="38.1" y="1040.6999999999998" font-size="9.4" text-anchor="end" fill="#222">8</text>
<line x1="42.00" y1="1011.60" x2="46.20" y2="1011.60" stroke="#000" stroke-width="1.1"/>
<text x="38.1" y="1015.1999999999999" font-size="9.4" text-anchor="end" fill="#222">10</text>
<line x1="65.60" y1="1145.00" x2="65.60" y2="1149.20" stroke="#000" stroke-width="1.1"/>
<text transform="translate(63.1,1160.5) rotate(-45)" font-size="14" text-anchor="end" fill="#000">BM ctrls</text>
<line x1="105.80" y1="1145.00" x2="105.80" y2="1149.20" stroke="#000" stroke-width="1.1"/>
<text transform="translate(105.6,1160.5) rotate(-45)" font-size="14" text-anchor="end" fill="#000">WT naive</text>
<line x1="146.00" y1="1145.00" x2="146.00" y2="1149.20" stroke="#000" stroke-width="1.1"/>
<text transform="translate(147.4,1160.5) rotate(-45)" font-size="14" text-anchor="end" fill="#000">LΔP naive</text>
<line x1="192.80" y1="1145.00" x2="192.80" y2="1149.20" stroke="#000" stroke-width="1.1"/>
<text transform="translate(195.1,1158.4) rotate(-45)" font-size="14" text-anchor="end" fill="#000">WT memory</text>
<line x1="252.00" y1="1145.00" x2="252.00" y2="1149.20" stroke="#000" stroke-width="1.1"/>
<text transform="translate(255.3,1158.6) rotate(-45)" font-size="14" text-anchor="end" fill="#000">LΔP memory</text>
<circle cx="66.00" cy="1126.35" r="3.4" fill="none" stroke="#000" stroke-width="1.2"/>
<circle cx="52.40" cy="1139.10" r="3.4" fill="none" stroke="#000" stroke-width="1.2"/>
<circle cx="58.50" cy="1139.10" r="3.4" fill="none" stroke="#000" stroke-width="1.2"/>
<circle cx="62.50" cy="1139.10" r="3.4" fill="none" stroke="#000" stroke-width="1.2"/>
<circle cx="66.50" cy="1139.10" r="3.4" fill="none" stroke="#000" stroke-width="1.2"/>
<circle cx="70.50" cy="1139.10" r="3.4" fill="none" stroke="#000" stroke-width="1.2"/>
<circle cx="74.50" cy="1139.10" r="3.4" fill="none" stroke="#000" stroke-width="1.2"/>
<circle cx="78.50" cy="1139.10" r="3.4" fill="none" stroke="#000" stroke-width="1.2"/>
<circle cx="82.50" cy="1139.10" r="3.4" fill="none" stroke="#000" stroke-width="1.2"/>
<circle cx="86.50" cy="1139.10" r="3.4" fill="none" stroke="#000" stroke-width="1.2"/>
<path d="M91.00,1027.65 L95.00,1021.05 L99.00,1027.65 Z M99.70,1027.65 L103.70,1021.05 L107.70,1027.65 Z M107.00,1027.65 L111.00,1021.05 L115.00,1027.65 Z M114.20,1027.65 L118.20,1021.05 L122.20,1027.65 Z M101.80,1040.40 L105.80,1033.80 L109.80,1040.40 Z M101.80,1053.15 L105.80,1046.55 L109.80,1053.15 Z M101.80,1065.90 L105.80,1059.30 L109.80,1065.90 Z M101.80,1078.65 L105.80,1072.05 L109.80,1078.65 Z M142.00,1053.15 L146.00,1046.55 L150.00,1053.15 Z M136.40,1065.90 L140.40,1059.30 L144.40,1065.90 Z M148.00,1065.90 L152.00,1059.30 L156.00,1065.90 Z M142.00,1104.15 L146.00,1097.55 L150.00,1104.15 Z M142.00,1142.40 L146.00,1135.80 L150.00,1142.40 Z M189.80,1091.40 L193.80,1084.80 L197.80,1091.40 Z M167.90,1142.40 L171.90,1135.80 L175.90,1142.40 Z M173.96,1142.40 L177.96,1135.80 L181.96,1142.40 Z M180.02,1142.40 L184.02,1135.80 L188.02,1142.40 Z M186.08,1142.40 L190.08,1135.80 L194.08,1142.40 Z M192.14,1142.40 L196.14,1135.80 L200.14,1142.40 Z M198.20,1142.40 L202.20,1135.80 L206.20,1142.40 Z M204.26,1142.40 L208.26,1135.80 L212.26,1142.40 Z M210.32,1142.40 L214.32,1135.80 L218.32,1142.40 Z M249.00,1091.40 L253.00,1084.80 L257.00,1091.40 Z M249.00,1129.65 L253.00,1123.05 L257.00,1129.65 Z M229.90,1142.40 L233.90,1135.80 L237.90,1142.40 Z M235.56,1142.40 L239.56,1135.80 L243.56,1142.40 Z M241.22,1142.40 L245.22,1135.80 L249.22,1142.40 Z M246.88,1142.40 L250.88,1135.80 L254.88,1142.40 Z M252.54,1142.40 L256.54,1135.80 L260.54,1142.40 Z M258.20,1142.40 L262.20,1135.80 L266.20,1142.40 Z M263.86,1142.40 L267.86,1135.80 L271.86,1142.40 Z M269.52,1142.40 L273.52,1135.80 L277.52,1142.40 Z" fill="none" stroke="#000" stroke-width="1.3" stroke-linejoin="miter"/>
<line x1="52.00" y1="1137.82" x2="81.50" y2="1137.82" stroke="#000" stroke-width="2.6"/>
<line x1="91.60" y1="1039.90" x2="119.30" y2="1039.90" stroke="#000" stroke-width="2.6"/>
<line x1="131.20" y1="1081.85" x2="160.20" y2="1081.85" stroke="#000" stroke-width="2.6"/>
<line x1="178.80" y1="1133.36" x2="207.50" y2="1133.36" stroke="#000" stroke-width="2.6"/>
<line x1="238.00" y1="1132.47" x2="267.00" y2="1132.47" stroke="#000" stroke-width="2.6"/>
<path d="M193.20,1070.00 L193.20,1065.80 L253.00,1065.80 L253.00,1070.00" fill="none" stroke="#444" stroke-width="1.0" stroke-linejoin="round"/>
<text x="223.6" y="1064.8" font-size="11.8" text-anchor="middle" fill="#111">NS</text>
<text x="155.7" y="1003.1" font-size="15.3" text-anchor="middle" textLength="63.9" lengthAdjust="spacingAndGlyphs" fill="#000">skin path</text>
<text transform="translate(24.5,1073.6) rotate(-90)" font-size="14" text-anchor="middle" fill="#000">path score</text>
<line x1="28.30" y1="1011.90" x2="46.20" y2="1011.90" stroke="#000" stroke-width="1.5"/>
</svg>
</body></html>
